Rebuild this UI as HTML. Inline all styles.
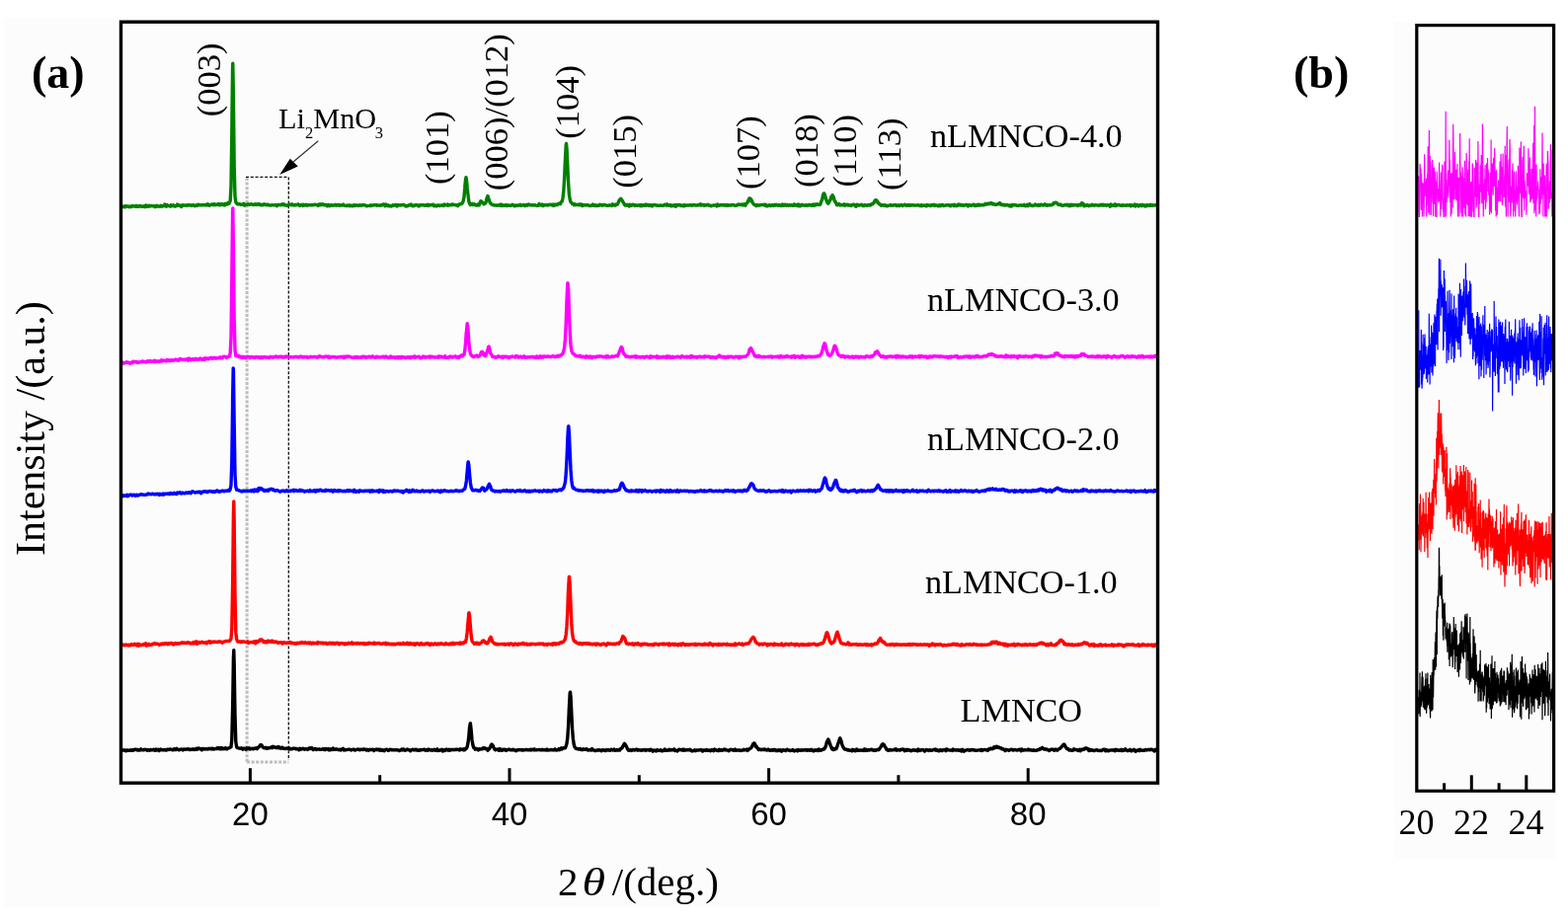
<!DOCTYPE html>
<html><head><meta charset="utf-8"><title>XRD</title><style>html,body{margin:0;padding:0;background:#fff;}svg{display:block;}</style></head><body>
<svg width="1588" height="931" viewBox="0 0 1588 931">
<rect x="0" y="0" width="1588" height="931" fill="#ffffff"/>
<rect x="4" y="18" width="1171" height="901" fill="#fcfcfc"/>
<rect x="1412" y="22" width="164" height="848" fill="#fcfcfc"/>
<line x1="250.1" y1="180" x2="250.1" y2="772" stroke="#bdbdbd" stroke-width="3.0" stroke-dasharray="3,1.6"/>
<line x1="250" y1="772" x2="292.3" y2="772" stroke="#bdbdbd" stroke-width="3.0" stroke-dasharray="3,1.6"/>
<line x1="249" y1="179.4" x2="292.3" y2="179.4" stroke="#111" stroke-width="1.2" stroke-dasharray="3,1.8"/>
<line x1="292.3" y1="179.4" x2="292.3" y2="770" stroke="#111" stroke-width="1.3" stroke-dasharray="3,1.8"/>
<polyline points="122.0,760.3 122.8,760.4 123.6,760.1 124.4,759.9 125.2,760.0 126.0,759.8 126.8,760.2 127.6,760.8 128.4,760.0 129.2,759.9 130.0,760.4 130.8,760.3 131.6,760.2 132.4,759.7 133.2,760.1 134.0,760.4 134.8,759.5 135.6,759.9 136.4,759.2 137.2,759.4 138.0,759.2 138.8,759.9 139.6,759.4 140.4,760.1 141.2,760.0 142.0,759.9 142.8,758.8 143.6,759.7 144.4,759.9 145.2,759.9 146.0,759.2 146.8,759.6 147.6,759.4 148.4,759.5 149.2,760.3 150.0,759.4 150.8,759.8 151.6,760.2 152.4,759.5 153.2,759.7 154.0,759.8 154.8,759.7 155.6,759.2 156.4,759.7 157.2,760.3 158.0,759.0 158.8,760.0 159.6,759.7 160.4,759.3 161.2,760.5 162.0,759.9 162.8,759.0 163.6,759.6 164.4,759.8 165.2,759.5 166.0,759.8 166.8,759.5 167.6,759.8 168.4,760.1 169.2,759.2 170.0,759.5 170.8,759.2 171.6,759.5 172.4,758.9 173.2,759.1 174.0,759.3 174.8,759.8 175.6,759.9 176.4,758.7 177.2,759.0 178.0,759.6 178.8,758.4 179.6,759.1 180.4,759.2 181.2,759.8 182.0,759.6 182.8,759.1 183.6,759.0 184.4,759.1 185.2,759.9 186.0,759.0 186.8,759.0 187.6,759.3 188.4,759.1 189.2,759.0 190.0,758.6 190.8,759.1 191.6,758.9 192.4,759.6 193.2,759.3 194.0,759.0 194.8,759.3 195.6,758.8 196.4,759.5 197.2,759.0 198.0,759.2 198.8,758.4 199.6,759.1 200.4,758.2 201.2,758.0 202.0,758.7 202.8,758.5 203.6,758.9 204.4,759.8 205.2,758.4 206.0,758.5 206.8,758.9 207.6,759.0 208.4,758.7 209.2,758.7 210.0,759.0 210.8,758.9 211.6,758.2 212.4,758.6 213.2,758.7 214.0,758.2 214.8,758.8 215.6,758.2 216.4,759.0 217.2,758.7 218.0,758.6 218.8,758.3 219.6,758.5 220.4,757.6 221.2,758.0 222.0,758.6 222.8,757.5 223.6,758.8 224.4,757.6 225.2,758.7 226.0,758.0 226.8,758.7 227.6,758.4 228.4,757.6 229.2,758.8 230.0,758.9 230.8,758.1 231.6,757.9 232.4,757.7 233.2,757.0 234.0,756.9 234.8,749.1 235.6,718.2 236.1,687.7 236.4,666.9 236.8,658.7 237.2,672.9 237.4,688.0 238.0,724.5 238.8,751.2 239.6,756.4 240.4,757.5 241.2,757.7 242.0,758.1 242.8,758.1 243.6,758.2 244.4,757.8 245.2,758.1 246.0,759.2 246.8,758.2 247.6,758.1 248.4,758.7 249.2,759.2 250.0,757.9 250.8,758.5 251.6,758.3 252.4,757.8 253.2,758.9 254.0,758.5 254.8,758.6 255.6,758.2 256.4,758.7 257.2,758.2 258.0,758.4 258.8,757.9 259.6,757.7 260.4,758.7 261.2,757.4 262.0,757.1 262.8,756.0 262.9,755.7 263.6,754.8 264.2,754.7 264.4,754.6 265.2,755.3 265.6,755.9 266.0,756.8 266.8,757.4 267.6,757.8 268.4,757.6 269.2,757.3 270.0,758.3 270.8,758.2 271.6,757.6 272.4,757.8 273.2,757.7 273.8,757.6 274.0,757.6 274.8,756.8 275.6,757.6 276.4,756.2 277.2,757.1 278.0,756.7 278.8,757.1 279.6,757.6 280.4,757.6 281.2,756.6 282.0,756.5 282.2,757.7 282.8,757.0 283.6,757.6 284.4,758.2 285.2,757.2 286.0,757.1 286.8,758.3 287.6,758.3 288.4,758.3 289.2,758.5 290.0,758.1 290.8,757.9 291.6,758.5 292.4,758.2 293.2,757.9 294.0,758.9 294.8,758.6 295.6,758.9 296.4,758.2 297.2,758.4 298.0,758.3 298.8,758.3 299.6,758.8 300.4,758.4 301.2,758.9 302.0,758.9 302.8,759.7 303.6,758.2 304.4,759.2 305.2,758.8 306.0,758.8 306.8,758.2 307.6,758.6 308.4,759.2 309.2,758.8 310.0,758.9 310.8,758.7 311.6,759.4 312.4,758.9 313.2,757.9 314.0,758.6 314.8,758.0 315.6,757.5 316.4,758.7 317.2,759.5 318.0,759.0 318.8,758.4 319.6,758.5 320.4,759.5 321.2,759.1 322.0,759.0 322.8,759.0 323.6,759.0 324.4,759.4 325.2,759.3 326.0,759.1 326.8,758.6 327.6,759.3 328.4,758.8 329.2,759.6 330.0,758.5 330.8,759.0 331.6,759.1 332.4,758.5 333.2,759.9 334.0,759.8 334.8,758.9 335.6,759.5 336.4,759.3 337.2,758.0 338.0,759.3 338.8,759.1 339.6,759.2 340.4,758.7 341.2,759.1 342.0,759.1 342.8,759.7 343.6,759.4 344.4,759.2 345.2,759.9 346.0,759.0 346.8,759.1 347.6,758.4 348.4,760.0 349.2,759.7 350.0,759.7 350.8,759.6 351.6,759.4 352.4,759.4 353.2,759.2 354.0,759.2 354.8,759.4 355.6,760.0 356.4,759.6 357.2,759.3 358.0,759.1 358.8,759.1 359.6,760.1 360.4,759.6 361.2,759.4 362.0,759.3 362.8,758.9 363.6,759.4 364.4,759.8 365.2,759.3 366.0,759.3 366.8,759.4 367.6,759.5 368.4,758.8 369.2,759.4 370.0,759.1 370.8,759.9 371.6,759.2 372.4,759.8 373.2,760.2 374.0,759.4 374.8,759.3 375.6,759.6 376.4,759.6 377.2,759.1 378.0,759.8 378.8,760.5 379.6,759.5 380.4,759.5 381.2,759.1 382.0,759.8 382.8,759.1 383.6,759.1 384.4,760.2 385.2,759.2 386.0,760.1 386.8,760.3 387.6,759.8 388.4,759.9 389.2,760.6 390.0,759.6 390.8,759.4 391.6,759.1 392.4,759.7 393.2,760.4 394.0,760.2 394.8,759.3 395.6,759.4 396.4,759.5 397.2,759.9 398.0,759.7 398.8,759.9 399.6,759.9 400.4,759.7 401.2,759.8 402.0,759.9 402.8,759.8 403.6,760.0 404.4,760.6 405.2,760.1 406.0,759.8 406.8,759.0 407.6,760.0 408.4,758.9 409.2,759.2 410.0,760.2 410.8,760.1 411.6,759.7 412.4,759.0 413.2,759.6 414.0,759.5 414.8,760.1 415.6,760.8 416.4,759.9 417.2,759.4 418.0,759.3 418.8,759.8 419.6,759.7 420.4,759.3 421.2,759.8 422.0,759.3 422.8,760.3 423.6,760.3 424.4,760.3 425.2,759.6 426.0,760.0 426.8,759.7 427.6,759.6 428.4,759.6 429.2,759.2 430.0,759.1 430.8,760.2 431.6,759.7 432.4,759.9 433.2,760.2 434.0,759.0 434.8,759.4 435.6,759.9 436.4,760.0 437.2,759.6 438.0,760.3 438.8,759.9 439.6,759.3 440.4,759.4 441.2,760.2 442.0,760.0 442.8,758.9 443.6,760.4 444.4,760.1 445.2,760.4 446.0,759.6 446.8,759.7 447.6,759.3 448.4,760.9 449.2,759.7 450.0,760.5 450.8,759.5 451.6,759.9 452.4,759.0 453.2,759.6 454.0,760.2 454.8,759.2 455.6,760.2 456.4,759.9 457.2,759.3 458.0,759.5 458.8,759.5 459.6,759.7 460.4,759.5 461.2,759.3 462.0,759.6 462.8,759.2 463.6,759.1 464.4,759.6 465.2,760.0 466.0,758.9 466.8,759.5 467.6,759.2 468.4,759.0 469.2,759.7 470.0,758.9 470.8,759.6 471.6,758.3 472.4,758.2 473.2,756.5 474.0,752.6 474.8,746.1 475.2,741.1 475.6,736.9 476.2,732.9 476.4,732.7 477.2,739.9 477.3,741.2 478.0,749.4 478.8,754.3 479.6,757.3 480.4,757.6 481.2,759.1 482.0,758.5 482.8,758.4 483.6,759.3 484.4,759.9 485.2,758.7 486.0,758.9 486.8,759.0 487.6,758.7 488.4,758.9 488.9,757.9 489.2,757.8 490.0,757.7 490.8,757.7 491.1,758.5 491.6,758.3 492.4,758.6 493.2,758.5 494.0,760.2 494.8,759.0 495.6,758.6 496.4,757.1 496.9,755.9 497.2,755.2 498.0,754.1 498.8,754.8 499.1,755.1 499.6,756.7 500.4,757.9 501.2,759.5 502.0,759.8 502.8,759.1 503.6,759.0 504.4,759.5 505.2,760.3 506.0,758.5 506.8,760.0 507.6,759.3 508.4,760.2 509.2,759.3 510.0,759.7 510.8,759.1 511.6,759.4 512.4,760.4 513.2,760.2 514.0,759.6 514.8,759.4 515.6,759.0 516.4,759.6 517.2,759.8 518.0,759.8 518.8,759.8 519.6,759.3 520.4,759.8 521.2,759.8 522.0,760.4 522.8,760.7 523.6,759.8 524.4,759.5 525.2,759.8 526.0,759.6 526.8,759.5 527.6,759.8 528.4,759.4 529.2,760.1 530.0,759.8 530.8,759.9 531.6,759.8 532.4,759.5 533.2,759.4 534.0,759.7 534.8,759.6 535.6,759.9 536.4,759.8 537.2,759.2 538.0,759.9 538.8,759.2 539.6,759.5 540.4,759.7 541.2,758.9 542.0,759.9 542.8,759.9 543.6,759.7 544.4,759.6 545.2,759.6 546.0,759.4 546.8,759.7 547.6,759.6 548.4,759.8 549.2,759.3 550.0,759.9 550.8,759.8 551.6,759.7 552.4,759.6 553.2,760.0 554.0,759.0 554.8,760.0 555.6,759.8 556.4,759.9 557.2,759.9 558.0,759.4 558.8,759.6 559.6,759.9 560.4,759.8 561.2,759.7 562.0,758.9 562.8,759.8 563.6,760.0 564.4,759.9 565.2,759.5 566.0,758.6 566.8,759.7 567.6,759.1 568.4,757.9 569.2,759.0 570.0,757.9 570.8,757.7 571.6,757.6 572.4,757.8 573.2,755.8 574.0,753.3 574.8,747.6 575.6,735.3 576.3,719.1 576.4,717.0 577.2,702.1 577.5,701.2 578.0,705.4 578.7,719.4 578.8,721.8 579.6,738.7 580.4,748.5 581.2,754.1 582.0,756.7 582.8,757.7 583.6,758.5 584.4,758.6 585.2,758.5 586.0,759.1 586.8,758.6 587.6,758.4 588.4,759.5 589.2,759.3 590.0,759.6 590.8,758.7 591.6,759.4 592.4,759.3 593.2,759.2 594.0,758.6 594.8,759.5 595.6,760.1 596.4,759.9 597.2,759.5 598.0,759.7 598.8,760.1 599.6,758.5 600.4,759.7 601.2,760.0 602.0,760.1 602.8,760.6 603.6,760.3 604.4,760.0 605.2,760.0 606.0,760.2 606.8,759.6 607.6,759.8 608.4,760.2 609.2,760.7 610.0,759.8 610.8,759.8 611.6,759.9 612.4,760.5 613.2,759.8 614.0,760.5 614.8,759.4 615.6,759.8 616.4,759.8 617.2,760.2 618.0,760.3 618.8,759.2 619.6,759.4 620.4,760.0 621.2,759.5 622.0,759.1 622.8,760.3 623.6,760.0 624.4,760.0 625.2,759.5 626.0,760.1 626.8,759.5 627.6,760.0 628.4,758.8 629.2,758.3 630.0,757.8 630.8,755.9 631.1,755.9 631.6,754.7 632.4,753.3 632.5,753.7 633.2,754.1 633.9,756.0 634.0,755.5 634.8,757.1 635.6,759.0 636.4,760.1 637.2,760.3 638.0,759.6 638.8,759.8 639.6,760.4 640.4,759.7 641.2,759.4 642.0,759.9 642.8,760.0 643.6,759.5 644.4,759.1 645.2,759.2 646.0,760.2 646.8,759.5 647.6,759.8 648.4,760.0 649.2,760.2 650.0,759.8 650.8,760.1 651.6,759.5 652.4,759.8 653.2,759.5 654.0,760.4 654.8,759.9 655.6,759.6 656.4,759.8 657.2,759.8 658.0,760.3 658.8,759.2 659.6,759.5 660.4,759.8 661.2,761.1 662.0,760.4 662.8,759.9 663.6,760.3 664.4,760.9 665.2,759.8 666.0,759.8 666.8,760.5 667.6,760.2 668.4,760.3 669.2,759.7 670.0,760.8 670.8,760.7 671.6,760.2 672.4,760.3 673.2,759.0 674.0,760.2 674.8,759.9 675.6,760.2 676.4,760.3 677.2,759.8 678.0,759.2 678.8,760.1 679.6,759.6 680.4,759.8 681.2,759.7 682.0,759.8 682.8,758.9 683.6,760.5 684.4,760.1 685.2,760.5 686.0,760.9 686.8,760.0 687.6,759.2 688.4,759.6 689.2,759.4 690.0,759.8 690.8,760.0 691.6,759.1 692.4,760.1 693.2,759.3 694.0,760.1 694.8,759.9 695.6,759.8 696.4,759.9 697.2,759.7 698.0,759.7 698.8,759.2 699.6,760.0 700.4,760.8 701.2,760.9 702.0,760.6 702.8,760.3 703.6,759.7 704.4,760.6 705.2,760.0 706.0,760.0 706.8,759.9 707.6,760.0 708.4,759.8 709.2,759.9 710.0,759.5 710.8,759.8 711.6,761.0 712.4,760.0 713.2,759.9 714.0,760.2 714.8,760.3 715.6,759.5 716.4,759.9 717.2,760.4 718.0,760.1 718.8,760.0 719.6,760.7 720.4,759.7 721.2,760.0 722.0,759.7 722.8,760.7 723.6,759.1 724.4,759.7 725.2,759.7 726.0,760.3 726.8,760.3 727.6,760.6 728.4,759.3 729.2,760.3 730.0,759.8 730.8,759.7 731.6,760.2 732.4,759.6 733.2,759.0 734.0,759.8 734.8,759.3 735.6,759.7 736.4,760.1 737.2,760.1 738.0,760.7 738.8,759.9 739.6,759.3 740.4,759.6 741.2,759.5 742.0,759.4 742.8,760.2 743.6,759.7 744.4,759.1 745.2,760.3 746.0,759.9 746.8,760.1 747.6,760.0 748.4,760.2 749.2,759.9 750.0,760.5 750.8,760.1 751.6,760.1 752.4,760.1 753.2,759.2 754.0,759.8 754.8,759.7 755.6,759.9 756.4,759.1 757.2,760.4 758.0,759.6 758.8,758.8 759.6,758.1 760.4,758.0 761.2,757.0 762.0,755.1 762.2,755.1 762.8,753.6 763.6,753.2 763.8,752.9 764.4,753.4 765.2,755.3 765.3,756.2 766.0,756.0 766.8,757.6 767.6,758.3 768.4,759.5 769.2,758.9 770.0,759.4 770.8,759.7 771.6,759.3 772.4,759.4 773.2,759.6 774.0,758.9 774.8,759.2 775.6,759.7 776.4,760.0 777.2,759.8 778.0,759.1 778.8,759.7 779.6,760.3 780.4,760.2 781.2,759.9 782.0,759.5 782.8,760.2 783.6,759.7 784.4,759.4 785.2,759.6 786.0,760.6 786.8,760.1 787.6,760.5 788.4,759.7 789.2,760.4 790.0,759.7 790.8,759.9 791.6,761.1 792.4,760.3 793.2,759.7 794.0,759.9 794.8,760.1 795.6,760.5 796.4,759.7 797.2,759.2 798.0,759.8 798.8,760.0 799.6,760.0 800.4,760.6 801.2,760.1 802.0,760.3 802.8,759.5 803.6,760.3 804.4,760.9 805.2,760.3 806.0,760.1 806.8,760.0 807.6,760.8 808.4,759.5 809.2,759.9 810.0,760.2 810.8,760.3 811.6,759.8 812.4,760.1 813.2,759.8 814.0,760.0 814.8,759.9 815.6,759.4 816.4,759.9 817.2,760.3 818.0,759.5 818.8,759.8 819.6,760.2 820.4,759.4 821.2,760.0 822.0,759.4 822.8,760.4 823.6,760.9 824.4,760.8 825.2,759.8 826.0,760.2 826.8,759.9 827.6,759.8 828.4,760.5 829.2,759.1 830.0,760.2 830.8,759.6 831.6,760.2 832.4,759.6 833.2,759.0 834.0,759.2 834.8,758.8 835.6,757.5 836.4,755.8 837.2,752.7 837.4,751.4 838.0,750.6 838.8,749.0 838.8,749.1 839.6,750.5 840.1,752.8 840.4,753.0 841.2,755.4 842.0,757.3 842.8,758.9 843.6,758.2 844.4,759.5 845.2,758.6 846.0,758.2 846.8,758.7 847.6,757.0 848.4,754.4 849.2,751.9 849.4,751.9 850.0,749.6 850.8,747.8 850.8,748.0 851.6,749.8 852.1,751.2 852.4,752.7 853.2,755.4 854.0,757.1 854.8,758.2 855.6,759.0 856.4,759.3 857.2,759.2 858.0,759.4 858.8,760.1 859.6,759.8 860.4,760.1 861.2,760.3 862.0,760.0 862.8,760.8 863.6,759.4 864.4,760.2 865.2,759.7 866.0,760.7 866.8,760.6 867.6,759.0 868.4,759.4 869.2,760.2 870.0,760.2 870.8,760.2 871.6,759.9 872.4,760.1 873.2,760.2 874.0,759.9 874.8,760.4 875.6,758.9 876.4,760.2 877.2,759.4 878.0,760.3 878.8,759.8 879.6,759.5 880.4,760.1 881.2,759.5 882.0,759.5 882.8,759.2 883.6,759.8 884.4,760.0 885.2,760.3 886.0,759.7 886.8,760.2 887.6,759.7 888.4,759.5 889.2,759.7 890.0,759.5 890.8,758.3 891.6,757.4 892.4,756.0 892.7,755.6 893.2,754.3 894.0,754.2 894.2,753.7 894.8,754.2 895.6,754.8 895.8,755.8 896.4,756.8 897.2,757.7 898.0,759.6 898.8,759.4 899.6,760.3 900.4,760.1 901.2,759.4 902.0,759.6 902.8,760.0 903.6,759.9 904.4,759.9 905.2,759.7 906.0,759.1 906.8,759.8 907.6,758.9 908.4,760.1 909.2,759.6 910.0,759.6 910.8,759.8 911.6,760.1 912.4,759.3 913.2,759.2 914.0,759.5 914.8,759.0 915.6,759.5 916.4,760.7 917.2,759.5 918.0,760.3 918.8,759.3 919.6,760.1 920.4,759.8 921.2,759.9 922.0,760.2 922.8,760.8 923.6,760.1 924.4,760.0 925.2,759.5 926.0,760.2 926.8,759.9 927.6,760.3 928.4,760.0 929.2,760.8 930.0,759.1 930.8,759.8 931.6,760.4 932.4,759.8 933.2,759.6 934.0,759.9 934.8,759.4 935.6,760.0 936.4,761.1 937.2,760.5 938.0,759.5 938.8,759.6 939.6,759.8 940.4,760.4 941.2,759.6 942.0,759.7 942.8,760.4 943.6,760.4 944.4,759.8 945.2,759.5 946.0,759.3 946.8,759.7 947.6,759.0 948.4,760.3 949.2,759.7 950.0,760.2 950.8,760.8 951.6,760.5 952.4,759.5 953.2,760.4 954.0,760.5 954.8,759.6 955.6,759.6 956.4,759.9 957.2,759.3 958.0,760.6 958.8,758.9 959.6,759.5 960.4,759.9 961.2,759.9 962.0,760.1 962.8,760.1 963.6,759.9 964.4,760.5 965.2,759.0 966.0,760.0 966.8,759.7 967.6,760.0 968.4,760.1 969.2,759.6 970.0,759.7 970.8,760.3 971.6,760.1 972.4,759.7 973.2,760.9 974.0,761.0 974.8,759.3 975.6,760.1 976.4,761.1 977.2,760.3 978.0,760.1 978.8,759.9 979.6,759.7 980.4,759.9 981.2,759.7 982.0,760.3 982.8,759.8 983.6,759.8 984.4,759.4 985.2,759.9 986.0,759.5 986.8,759.9 987.6,760.4 988.4,760.1 989.2,760.2 990.0,760.1 990.8,759.9 991.6,759.9 992.4,759.8 993.2,760.2 994.0,759.4 994.8,760.5 995.6,759.9 996.4,759.5 997.2,759.6 998.0,759.5 998.8,759.8 999.6,759.4 1000.4,760.2 1001.2,759.2 1002.0,758.4 1002.8,758.9 1003.6,758.1 1004.4,758.6 1005.2,758.7 1006.0,758.1 1006.7,756.8 1006.8,756.9 1007.6,757.6 1008.4,756.6 1009.2,756.2 1009.5,756.2 1010.0,757.3 1010.8,757.1 1011.6,757.0 1012.3,757.5 1012.4,757.7 1013.2,757.6 1014.0,757.9 1014.8,758.8 1015.6,758.6 1016.4,759.3 1017.2,759.5 1018.0,760.6 1018.8,759.3 1019.6,759.7 1020.4,759.7 1021.2,760.0 1022.0,760.3 1022.8,759.6 1023.6,759.5 1024.4,759.1 1025.2,759.5 1026.0,760.1 1026.8,759.9 1027.6,759.4 1028.4,759.7 1029.2,759.9 1030.0,760.1 1030.8,759.7 1031.6,759.8 1032.4,759.1 1033.2,759.4 1034.0,760.7 1034.8,758.9 1035.6,759.8 1036.4,760.0 1037.2,759.8 1038.0,759.6 1038.8,759.9 1039.6,759.9 1040.4,759.9 1041.2,759.1 1042.0,759.9 1042.8,759.5 1043.6,759.7 1044.4,760.0 1045.2,760.2 1046.0,760.3 1046.8,759.7 1047.6,760.3 1048.4,760.4 1049.2,760.3 1050.0,760.4 1050.8,759.6 1051.6,759.4 1052.4,759.6 1053.2,758.4 1053.9,758.8 1054.0,758.4 1054.8,758.2 1055.6,757.4 1056.0,758.1 1056.4,758.2 1057.2,758.8 1058.0,759.1 1058.1,758.7 1058.8,758.9 1059.6,758.9 1060.4,759.6 1061.2,759.5 1062.0,760.0 1062.8,760.5 1063.6,759.8 1064.4,759.1 1065.2,759.4 1066.0,759.1 1066.8,759.2 1067.6,760.3 1068.4,759.8 1069.2,759.0 1070.0,759.9 1070.8,760.1 1071.6,759.2 1072.4,758.8 1073.2,758.4 1074.0,757.8 1074.8,756.9 1075.2,756.5 1075.6,756.0 1076.4,755.0 1077.0,754.2 1077.2,754.5 1078.0,754.2 1078.8,755.9 1078.8,756.2 1079.6,757.0 1080.4,758.6 1081.2,758.7 1082.0,758.8 1082.8,760.1 1083.6,759.9 1084.4,759.8 1085.2,760.2 1086.0,760.3 1086.8,760.0 1087.6,758.7 1088.4,759.5 1089.2,759.6 1090.0,759.4 1090.8,759.9 1091.6,760.4 1092.4,759.6 1093.2,759.3 1094.0,760.7 1094.8,759.5 1095.6,759.1 1096.4,759.6 1097.2,759.4 1098.0,758.5 1098.2,759.1 1098.8,758.2 1099.6,757.8 1100.0,758.2 1100.4,758.5 1101.2,758.2 1101.8,758.9 1102.0,758.8 1102.8,760.5 1103.6,759.2 1104.4,760.3 1105.2,759.7 1106.0,759.8 1106.8,760.2 1107.6,760.3 1108.4,760.5 1109.2,760.1 1110.0,759.7 1110.8,759.7 1111.6,760.2 1112.4,760.2 1113.2,760.6 1114.0,760.1 1114.8,760.4 1115.6,760.6 1116.4,760.0 1117.2,759.3 1118.0,759.4 1118.8,759.3 1119.6,760.7 1120.4,759.6 1121.2,760.5 1122.0,760.2 1122.8,760.7 1123.6,760.4 1124.4,759.9 1125.2,759.9 1126.0,760.0 1126.8,760.1 1127.6,759.7 1128.4,760.0 1129.2,760.7 1130.0,759.2 1130.8,760.1 1131.6,759.6 1132.4,760.1 1133.2,760.4 1134.0,760.0 1134.8,760.3 1135.6,759.3 1136.4,760.5 1137.2,759.7 1138.0,760.3 1138.8,760.1 1139.6,758.8 1140.4,759.6 1141.2,760.1 1142.0,760.7 1142.8,760.1 1143.6,760.1 1144.4,759.4 1145.2,760.6 1146.0,760.8 1146.8,760.0 1147.6,759.9 1148.4,759.3 1149.2,760.4 1150.0,761.2 1150.8,760.3 1151.6,760.6 1152.4,760.2 1153.2,759.5 1154.0,760.6 1154.8,759.4 1155.6,759.9 1156.4,760.1 1157.2,760.4 1158.0,760.2 1158.8,760.2 1159.6,759.7 1160.4,759.4 1161.2,760.0 1162.0,759.7 1162.8,759.4 1163.6,759.4 1164.4,759.8 1165.2,759.2 1166.0,759.4 1166.8,759.3 1167.6,760.1 1168.4,760.2 1169.2,760.9 1170.0,759.3 1170.8,759.7 1171.6,760.4 1172.4,759.9" fill="none" stroke="#000000" stroke-width="3.4" stroke-linejoin="round"/>
<polyline points="122.0,653.6 122.8,654.5 123.6,653.6 124.4,653.2 125.2,653.1 126.0,653.8 126.8,653.8 127.6,653.0 128.4,653.1 129.2,653.8 130.0,653.8 130.8,653.2 131.6,653.7 132.4,653.7 133.2,652.6 134.0,653.2 134.8,653.5 135.6,653.1 136.4,652.3 137.2,653.1 138.0,653.6 138.8,653.9 139.6,652.2 140.4,654.3 141.2,652.6 142.0,653.5 142.8,653.6 143.6,653.5 144.4,653.1 145.2,652.5 146.0,653.2 146.8,652.6 147.6,651.8 148.4,654.1 149.2,653.2 150.0,653.6 150.8,652.4 151.6,653.4 152.4,653.4 153.2,653.4 154.0,652.7 154.8,652.1 155.6,652.5 156.4,651.6 157.2,651.8 158.0,652.6 158.8,652.1 159.6,652.4 160.4,652.4 161.2,653.3 162.0,653.0 162.8,652.3 163.6,652.9 164.4,652.0 165.2,652.1 166.0,652.7 166.8,651.7 167.6,652.1 168.4,651.6 169.2,652.2 170.0,652.8 170.8,651.7 171.6,652.2 172.4,651.6 173.2,651.5 174.0,651.4 174.8,652.6 175.6,653.0 176.4,652.1 177.2,651.5 178.0,652.2 178.8,651.7 179.6,652.1 180.4,651.9 181.2,651.8 182.0,652.0 182.8,651.4 183.6,651.5 184.4,650.8 185.2,651.4 186.0,650.9 186.8,651.5 187.6,651.1 188.4,651.5 189.2,651.6 190.0,650.8 190.8,651.0 191.6,650.9 192.4,651.7 193.2,652.1 194.0,651.7 194.8,651.1 195.6,651.9 196.4,650.5 197.2,651.8 198.0,650.8 198.8,649.8 199.6,652.3 200.4,651.7 201.2,650.5 202.0,651.1 202.8,650.9 203.6,651.0 204.4,650.2 205.2,650.6 206.0,651.0 206.8,650.9 207.6,651.3 208.4,650.8 209.2,651.8 210.0,650.4 210.8,650.8 211.6,649.8 212.4,650.0 213.2,651.2 214.0,650.1 214.8,650.7 215.6,650.4 216.4,650.0 217.2,650.3 218.0,650.1 218.8,650.1 219.6,650.6 220.4,650.6 221.2,650.0 222.0,649.8 222.8,650.3 223.6,650.1 224.4,650.5 225.2,651.2 226.0,650.4 226.8,650.0 227.6,649.9 228.4,649.6 229.2,649.5 230.0,649.4 230.8,649.5 231.6,649.3 232.4,649.6 233.2,648.5 234.0,647.1 234.8,636.7 235.6,593.5 236.1,550.0 236.4,520.9 236.8,507.9 237.2,528.1 237.4,549.7 238.0,601.4 238.8,640.9 239.6,647.1 240.4,649.5 241.2,650.2 242.0,649.9 242.8,650.2 243.6,650.6 244.4,649.8 245.2,650.4 246.0,649.9 246.8,650.0 247.6,650.1 248.4,650.3 249.2,650.5 250.0,650.6 250.8,649.8 251.6,651.4 252.4,651.0 253.2,650.8 254.0,650.4 254.8,650.5 255.6,650.8 256.4,650.7 257.2,649.8 258.0,650.9 258.8,651.8 259.6,649.6 260.4,650.8 261.2,650.2 262.0,649.4 262.8,649.4 262.9,648.2 263.6,648.2 264.2,647.9 264.4,647.8 265.2,648.1 265.6,648.8 266.0,648.9 266.8,650.4 267.6,649.7 268.4,650.8 269.2,649.9 270.0,650.7 270.8,650.3 271.6,649.1 272.4,650.1 273.2,649.5 274.0,649.6 274.8,650.4 275.6,649.1 276.0,649.6 276.4,650.3 277.2,649.8 278.0,650.6 278.8,650.3 279.6,649.9 280.4,650.4 281.2,651.2 282.0,651.2 282.8,650.8 283.6,650.9 284.4,650.9 285.2,650.8 286.0,652.0 286.8,651.1 287.6,650.6 288.4,650.9 289.2,651.5 290.0,651.5 290.8,651.1 291.6,650.9 292.4,651.2 293.2,650.5 294.0,650.7 294.8,651.6 295.6,651.1 296.4,651.5 297.2,651.9 298.0,651.6 298.8,651.4 299.6,652.3 300.4,651.7 301.2,651.2 302.0,651.7 302.8,651.6 303.6,651.0 304.4,651.5 305.2,651.3 306.0,650.5 306.8,651.4 307.6,651.3 308.4,651.3 309.2,650.7 310.0,651.3 310.8,651.5 311.6,651.5 312.4,651.0 313.2,651.8 314.0,650.9 314.8,651.4 315.6,652.1 316.4,651.2 317.2,651.3 318.0,652.0 318.8,651.4 319.6,651.4 320.4,651.7 321.2,652.1 322.0,650.6 322.8,651.2 323.6,651.1 324.4,651.1 325.2,651.2 326.0,651.2 326.8,651.8 327.6,651.2 328.4,651.7 329.2,651.8 330.0,651.3 330.8,651.7 331.6,652.4 332.4,651.8 333.2,651.4 334.0,651.7 334.8,651.3 335.6,651.8 336.4,652.1 337.2,651.3 338.0,651.6 338.8,652.3 339.6,651.5 340.4,651.8 341.2,651.3 342.0,651.4 342.8,651.5 343.6,652.8 344.4,651.6 345.2,651.6 346.0,651.6 346.8,651.7 347.6,652.1 348.4,651.9 349.2,652.8 350.0,651.9 350.8,652.5 351.6,652.0 352.4,652.1 353.2,651.2 354.0,651.8 354.8,651.9 355.6,651.8 356.4,650.9 357.2,652.3 358.0,651.7 358.8,651.7 359.6,651.8 360.4,651.8 361.2,652.1 362.0,651.4 362.8,651.5 363.6,652.1 364.4,652.0 365.2,651.8 366.0,651.7 366.8,651.6 367.6,652.0 368.4,652.5 369.2,651.5 370.0,652.7 370.8,652.4 371.6,651.8 372.4,652.4 373.2,651.4 374.0,651.3 374.8,651.5 375.6,651.9 376.4,651.9 377.2,651.9 378.0,652.1 378.8,651.1 379.6,652.3 380.4,651.5 381.2,651.8 382.0,651.9 382.8,651.6 383.6,651.5 384.4,651.7 385.2,652.2 386.0,652.4 386.8,652.4 387.6,651.7 388.4,651.8 389.2,651.8 390.0,652.4 390.8,651.3 391.6,652.8 392.4,652.0 393.2,651.9 394.0,652.4 394.8,652.7 395.6,652.4 396.4,652.7 397.2,652.3 398.0,652.8 398.8,652.8 399.6,652.2 400.4,652.9 401.2,652.4 402.0,652.3 402.8,651.9 403.6,652.2 404.4,652.6 405.2,651.7 406.0,652.6 406.8,652.5 407.6,652.4 408.4,651.3 409.2,652.3 410.0,652.6 410.8,652.0 411.6,652.3 412.4,651.2 413.2,652.6 414.0,652.0 414.8,652.7 415.6,651.5 416.4,652.6 417.2,652.2 418.0,652.7 418.8,651.9 419.6,652.0 420.4,653.3 421.2,651.9 422.0,652.0 422.8,652.2 423.6,651.9 424.4,652.9 425.2,653.1 426.0,652.0 426.8,651.5 427.6,652.9 428.4,652.8 429.2,652.7 430.0,652.8 430.8,651.9 431.6,652.3 432.4,651.7 433.2,651.7 434.0,652.8 434.8,652.0 435.6,653.4 436.4,652.4 437.2,652.0 438.0,652.7 438.8,653.1 439.6,652.5 440.4,651.8 441.2,652.5 442.0,652.9 442.8,652.1 443.6,652.0 444.4,652.8 445.2,652.4 446.0,651.8 446.8,652.2 447.6,652.0 448.4,652.5 449.2,652.4 450.0,652.8 450.8,652.6 451.6,651.6 452.4,652.5 453.2,652.7 454.0,652.5 454.8,652.8 455.6,652.0 456.4,651.9 457.2,652.7 458.0,651.8 458.8,651.3 459.6,652.7 460.4,651.9 461.2,652.1 462.0,651.6 462.8,651.6 463.6,651.6 464.4,651.9 465.2,652.2 466.0,651.0 466.8,652.3 467.6,651.3 468.4,651.2 469.2,651.8 470.0,651.2 470.8,650.0 471.6,650.4 472.4,646.3 473.2,640.2 473.9,630.5 474.0,630.3 474.8,620.9 475.0,620.7 475.6,624.1 476.1,630.9 476.4,634.9 477.2,643.8 478.0,649.3 478.8,650.4 479.6,651.0 480.4,652.3 481.2,651.7 482.0,651.3 482.8,652.1 483.6,651.3 484.4,652.4 485.2,652.5 486.0,651.6 486.8,651.3 487.6,651.1 488.4,650.0 488.4,649.5 489.2,649.3 489.5,648.9 490.0,649.0 490.6,649.7 490.8,650.1 491.6,651.3 492.4,651.0 493.2,651.9 494.0,651.3 494.8,650.1 495.6,647.9 495.9,646.9 496.4,646.3 497.0,645.3 497.2,645.4 498.0,647.8 498.1,647.9 498.8,650.3 499.6,651.0 500.4,651.3 501.2,652.5 502.0,652.3 502.8,652.7 503.6,652.2 504.4,652.8 505.2,652.7 506.0,652.6 506.8,652.6 507.6,652.5 508.4,652.5 509.2,652.5 510.0,652.8 510.8,652.2 511.6,653.2 512.4,652.4 513.2,652.9 514.0,652.4 514.8,652.3 515.6,653.3 516.4,652.3 517.2,651.9 518.0,652.1 518.8,652.3 519.6,653.4 520.4,652.5 521.2,652.9 522.0,652.0 522.8,652.6 523.6,652.7 524.4,653.3 525.2,652.1 526.0,652.7 526.8,652.6 527.6,652.0 528.4,652.4 529.2,652.3 530.0,651.4 530.8,652.7 531.6,652.7 532.4,652.3 533.2,651.9 534.0,653.1 534.8,652.6 535.6,652.9 536.4,653.1 537.2,652.2 538.0,652.8 538.8,652.3 539.6,652.4 540.4,652.4 541.2,652.4 542.0,652.9 542.8,652.5 543.6,652.4 544.4,652.3 545.2,652.6 546.0,652.0 546.8,652.2 547.6,652.4 548.4,652.2 549.2,652.4 550.0,652.1 550.8,653.3 551.6,653.0 552.4,652.6 553.2,652.4 554.0,653.4 554.8,652.5 555.6,652.3 556.4,652.5 557.2,652.5 558.0,652.9 558.8,652.3 559.6,653.2 560.4,651.8 561.2,652.5 562.0,651.7 562.8,652.9 563.6,651.9 564.4,651.9 565.2,652.3 566.0,652.3 566.8,651.1 567.6,651.3 568.4,650.6 569.2,651.0 570.0,650.6 570.8,649.9 571.6,648.8 572.4,647.2 573.2,643.0 574.0,634.7 574.8,619.1 575.3,604.3 575.6,597.5 576.4,584.2 576.5,584.2 577.2,592.4 577.7,605.1 578.0,612.9 578.8,631.4 579.6,641.8 580.4,646.6 581.2,649.0 582.0,649.8 582.8,649.8 583.6,651.2 584.4,651.4 585.2,651.4 586.0,652.1 586.8,652.3 587.6,651.4 588.4,651.6 589.2,652.8 590.0,652.8 590.8,651.8 591.6,651.7 592.4,652.0 593.2,652.1 594.0,651.6 594.8,652.4 595.6,651.8 596.4,651.8 597.2,652.8 598.0,652.1 598.8,652.4 599.6,652.7 600.4,652.8 601.2,652.3 602.0,652.5 602.8,652.1 603.6,653.3 604.4,652.8 605.2,652.0 606.0,652.5 606.8,652.8 607.6,652.7 608.4,653.4 609.2,653.1 610.0,652.3 610.8,652.5 611.6,652.0 612.4,652.7 613.2,652.6 614.0,653.8 614.8,652.6 615.6,651.6 616.4,652.2 617.2,652.6 618.0,652.0 618.8,652.1 619.6,652.3 620.4,652.7 621.2,652.4 622.0,652.1 622.8,652.8 623.6,652.2 624.4,652.1 625.2,651.7 626.0,651.8 626.8,652.2 627.6,650.6 628.4,650.4 629.2,649.1 629.9,646.9 630.0,646.8 630.8,644.5 631.2,644.7 631.6,645.4 632.4,646.6 632.6,646.3 633.2,648.1 634.0,650.7 634.8,652.1 635.6,652.0 636.4,652.7 637.2,652.0 638.0,652.3 638.8,652.4 639.6,652.7 640.4,651.8 641.2,653.0 642.0,653.2 642.8,652.1 643.6,652.0 644.4,652.8 645.2,652.3 646.0,651.6 646.8,653.0 647.6,652.7 648.4,652.4 649.2,653.6 650.0,652.7 650.8,652.3 651.6,652.7 652.4,652.2 653.2,652.3 654.0,652.8 654.8,652.4 655.6,652.5 656.4,653.4 657.2,653.1 658.0,653.1 658.8,652.9 659.6,652.9 660.4,653.4 661.2,652.7 662.0,653.5 662.8,652.3 663.6,652.6 664.4,652.1 665.2,652.6 666.0,652.9 666.8,653.4 667.6,652.4 668.4,652.7 669.2,652.6 670.0,652.4 670.8,652.2 671.6,652.8 672.4,652.0 673.2,652.8 674.0,652.7 674.8,652.4 675.6,652.3 676.4,652.1 677.2,653.6 678.0,652.1 678.8,653.4 679.6,653.0 680.4,652.6 681.2,652.2 682.0,653.2 682.8,653.5 683.6,652.3 684.4,652.6 685.2,653.2 686.0,652.9 686.8,653.7 687.6,652.5 688.4,653.0 689.2,652.2 690.0,653.7 690.8,652.4 691.6,651.8 692.4,652.7 693.2,652.7 694.0,653.6 694.8,652.6 695.6,652.8 696.4,653.0 697.2,653.5 698.0,652.8 698.8,653.2 699.6,653.0 700.4,652.7 701.2,652.8 702.0,652.8 702.8,652.4 703.6,653.3 704.4,652.2 705.2,653.3 706.0,653.2 706.8,652.8 707.6,652.4 708.4,652.7 709.2,653.0 710.0,653.1 710.8,652.9 711.6,653.2 712.4,652.5 713.2,652.9 714.0,652.1 714.8,653.1 715.6,652.9 716.4,652.6 717.2,653.3 718.0,653.1 718.8,651.5 719.6,652.8 720.4,652.2 721.2,653.3 722.0,653.9 722.8,652.6 723.6,652.8 724.4,652.7 725.2,653.0 726.0,653.1 726.8,653.4 727.6,652.4 728.4,653.5 729.2,652.4 730.0,652.9 730.8,653.3 731.6,653.1 732.4,652.4 733.2,652.5 734.0,652.6 734.8,652.8 735.6,653.3 736.4,652.2 737.2,653.0 738.0,653.1 738.8,653.1 739.6,653.0 740.4,653.5 741.2,653.0 742.0,653.2 742.8,653.1 743.6,653.6 744.4,651.9 745.2,653.4 746.0,652.7 746.8,652.7 747.6,652.3 748.4,651.9 749.2,652.6 750.0,652.4 750.8,653.0 751.6,652.1 752.4,653.4 753.2,652.8 754.0,652.5 754.8,652.3 755.6,652.2 756.4,651.9 757.2,652.0 758.0,652.0 758.8,651.3 759.6,649.7 760.4,648.7 760.9,647.3 761.2,647.2 762.0,646.6 762.5,645.4 762.8,645.4 763.6,646.0 764.1,647.1 764.4,647.7 765.2,650.3 766.0,650.8 766.8,651.9 767.6,651.9 768.4,652.5 769.2,653.2 770.0,652.3 770.8,652.5 771.6,652.3 772.4,653.1 773.2,652.3 774.0,652.3 774.8,652.2 775.6,652.2 776.4,653.0 777.2,654.0 778.0,652.4 778.8,653.3 779.6,653.0 780.4,652.4 781.2,652.7 782.0,652.8 782.8,652.6 783.6,653.7 784.4,652.0 785.2,653.0 786.0,653.0 786.8,652.6 787.6,653.0 788.4,653.3 789.2,653.0 790.0,653.1 790.8,653.2 791.6,652.0 792.4,653.6 793.2,653.9 794.0,653.3 794.8,653.4 795.6,652.3 796.4,652.8 797.2,652.5 798.0,652.6 798.8,653.3 799.6,652.5 800.4,652.8 801.2,652.0 802.0,652.8 802.8,652.9 803.6,652.6 804.4,652.6 805.2,653.8 806.0,652.4 806.8,652.4 807.6,652.5 808.4,653.4 809.2,653.9 810.0,653.1 810.8,652.6 811.6,652.7 812.4,653.4 813.2,652.5 814.0,653.6 814.8,653.5 815.6,652.9 816.4,653.2 817.2,653.2 818.0,653.6 818.8,652.4 819.6,653.4 820.4,652.7 821.2,652.5 822.0,652.9 822.8,652.7 823.6,652.4 824.4,652.1 825.2,652.4 826.0,653.4 826.8,653.6 827.6,653.0 828.4,653.2 829.2,652.4 830.0,652.5 830.8,652.6 831.6,651.8 832.4,651.7 833.2,651.7 834.0,650.6 834.8,648.6 835.6,646.6 836.1,644.4 836.4,643.7 837.2,641.0 837.5,640.7 838.0,641.4 838.8,643.9 838.9,644.1 839.6,646.8 840.4,649.7 841.2,651.0 842.0,651.9 842.8,650.7 843.6,651.1 844.4,650.3 845.2,649.0 846.0,646.2 846.6,643.8 846.8,643.6 847.6,640.7 848.0,640.2 848.4,641.3 849.2,643.8 849.4,643.9 850.0,647.0 850.8,648.9 851.6,651.3 852.4,651.6 853.2,651.8 854.0,652.2 854.8,652.1 855.6,652.7 856.4,652.7 857.2,652.7 858.0,652.5 858.8,651.1 859.6,652.9 860.4,652.0 861.2,653.0 862.0,653.4 862.8,653.0 863.6,652.7 864.4,652.8 865.2,652.9 866.0,652.7 866.8,652.7 867.6,652.5 868.4,653.5 869.2,652.9 870.0,653.4 870.8,652.8 871.6,653.0 872.4,652.9 873.2,653.2 874.0,653.3 874.8,653.1 875.6,652.7 876.4,652.6 877.2,653.7 878.0,652.8 878.8,652.8 879.6,653.6 880.4,653.4 881.2,653.2 882.0,652.7 882.8,653.9 883.6,653.0 884.4,653.1 885.2,652.7 886.0,652.0 886.8,651.9 887.6,652.3 888.4,651.7 889.2,650.5 890.0,648.8 890.2,648.3 890.8,647.8 891.6,646.5 891.8,647.2 892.4,648.1 893.2,650.0 893.3,649.4 894.0,649.9 894.8,650.8 895.6,650.4 896.4,652.1 897.2,652.6 898.0,653.2 898.8,653.1 899.6,653.1 900.4,653.0 901.2,653.2 902.0,653.6 902.8,652.5 903.6,652.8 904.4,652.4 905.2,653.7 906.0,653.6 906.8,653.4 907.6,652.5 908.4,653.1 909.2,652.9 910.0,653.1 910.8,653.0 911.6,653.3 912.4,652.9 913.2,653.5 914.0,653.2 914.8,652.9 915.6,653.0 916.4,652.9 917.2,653.5 918.0,653.0 918.8,653.2 919.6,652.9 920.4,652.4 921.2,653.5 922.0,652.6 922.8,653.4 923.6,653.3 924.4,652.4 925.2,652.7 926.0,652.9 926.8,652.7 927.6,652.6 928.4,653.4 929.2,653.0 930.0,653.3 930.8,652.9 931.6,653.3 932.4,652.8 933.2,653.1 934.0,653.4 934.8,653.1 935.6,652.9 936.4,652.6 937.2,653.2 938.0,653.3 938.8,653.0 939.6,652.8 940.4,653.4 941.2,654.3 942.0,653.0 942.8,653.3 943.6,653.3 944.4,652.0 945.2,653.2 946.0,652.8 946.8,653.8 947.6,653.0 948.4,652.8 949.2,653.1 950.0,653.2 950.8,652.9 951.6,653.1 952.4,652.5 953.2,653.1 954.0,653.5 954.8,654.0 955.6,653.5 956.4,653.3 957.2,653.7 958.0,653.6 958.8,653.9 959.6,653.7 960.4,653.1 961.2,653.3 962.0,653.2 962.8,653.3 963.6,653.3 964.4,652.8 965.2,652.2 966.0,652.9 966.8,652.3 967.6,653.2 968.4,653.2 969.2,652.4 970.0,653.5 970.8,653.6 971.6,653.2 972.4,653.9 973.2,654.0 974.0,652.6 974.8,653.6 975.6,653.4 976.4,653.4 977.2,653.6 978.0,652.9 978.8,652.9 979.6,652.8 980.4,652.8 981.2,653.1 982.0,652.5 982.8,652.7 983.6,653.4 984.4,653.1 985.2,653.3 986.0,652.3 986.8,652.8 987.6,652.9 988.4,653.2 989.2,652.9 990.0,653.6 990.8,653.1 991.6,653.2 992.4,653.1 993.2,653.5 994.0,652.9 994.8,653.6 995.6,653.3 996.4,653.1 997.2,653.1 998.0,653.2 998.8,653.4 999.6,653.3 1000.4,652.9 1001.2,653.0 1002.0,652.4 1002.8,652.7 1003.6,651.8 1004.4,650.5 1004.7,651.9 1005.2,651.1 1006.0,650.2 1006.8,650.4 1007.5,650.4 1007.6,651.4 1008.4,650.8 1009.2,650.1 1010.0,651.4 1010.3,651.1 1010.8,652.4 1011.6,651.4 1012.4,651.2 1013.2,652.5 1014.0,652.5 1014.8,652.6 1015.6,652.0 1016.4,653.2 1017.2,653.8 1018.0,652.2 1018.8,653.6 1019.6,652.9 1020.4,654.2 1021.2,653.4 1022.0,653.1 1022.8,653.7 1023.6,653.4 1024.4,652.9 1025.2,653.5 1026.0,653.0 1026.8,652.4 1027.6,654.1 1028.4,653.1 1029.2,652.9 1030.0,653.4 1030.8,652.5 1031.6,652.6 1032.4,653.0 1033.2,653.0 1034.0,653.3 1034.8,653.7 1035.6,653.0 1036.4,653.5 1037.2,653.5 1038.0,652.7 1038.8,653.3 1039.6,652.8 1040.4,653.7 1041.2,653.4 1042.0,653.2 1042.8,652.6 1043.6,653.3 1044.4,652.9 1045.2,653.5 1046.0,653.1 1046.8,652.8 1047.6,653.5 1048.4,653.4 1049.2,652.7 1050.0,653.4 1050.8,652.5 1051.6,652.2 1052.4,652.1 1052.9,651.5 1053.2,651.5 1054.0,651.3 1054.8,651.8 1055.0,651.2 1055.6,651.1 1056.4,652.2 1057.1,651.8 1057.2,652.0 1058.0,652.6 1058.8,652.6 1059.6,653.8 1060.4,653.0 1061.2,652.5 1062.0,653.7 1062.8,652.9 1063.6,653.0 1064.4,651.8 1065.2,653.6 1066.0,653.5 1066.8,653.4 1067.6,653.5 1068.4,653.7 1069.2,652.8 1070.0,653.0 1070.8,651.7 1071.6,651.2 1072.4,651.0 1072.8,650.3 1073.2,648.9 1074.0,649.0 1074.5,648.7 1074.8,648.3 1075.6,649.5 1076.2,649.9 1076.4,649.6 1077.2,650.7 1078.0,652.8 1078.8,651.8 1079.6,652.9 1080.4,653.2 1081.2,653.3 1082.0,652.6 1082.8,653.0 1083.6,653.2 1084.4,653.6 1085.2,652.9 1086.0,652.7 1086.8,653.7 1087.6,653.7 1088.4,653.4 1089.2,653.0 1090.0,653.4 1090.8,653.3 1091.6,653.6 1092.4,652.6 1093.2,653.2 1094.0,653.0 1094.8,652.3 1095.6,652.7 1096.4,652.2 1097.0,651.6 1097.2,651.9 1098.0,650.7 1098.8,651.2 1098.8,651.4 1099.6,651.5 1100.4,652.3 1100.5,651.3 1101.2,651.6 1102.0,652.7 1102.8,653.1 1103.6,654.0 1104.4,653.5 1105.2,652.8 1106.0,653.6 1106.8,652.9 1107.6,652.6 1108.4,654.5 1109.2,653.5 1110.0,653.7 1110.8,653.6 1111.6,654.2 1112.4,653.5 1113.2,653.9 1114.0,652.9 1114.8,652.8 1115.6,654.0 1116.4,654.0 1117.2,653.6 1118.0,653.5 1118.8,653.5 1119.6,653.1 1120.4,654.1 1121.2,653.7 1122.0,653.6 1122.8,653.6 1123.6,653.9 1124.4,653.6 1125.2,653.7 1126.0,652.9 1126.8,653.6 1127.6,654.4 1128.4,653.2 1129.2,653.4 1130.0,653.8 1130.8,653.9 1131.6,653.7 1132.4,652.7 1133.2,653.7 1134.0,652.9 1134.8,653.1 1135.6,653.7 1136.4,653.3 1137.2,653.8 1138.0,654.9 1138.8,653.8 1139.6,653.8 1140.4,653.0 1141.2,653.2 1142.0,653.0 1142.8,653.2 1143.6,653.0 1144.4,653.2 1145.2,653.4 1146.0,653.0 1146.8,652.8 1147.6,652.8 1148.4,653.7 1149.2,653.5 1150.0,653.9 1150.8,653.9 1151.6,653.3 1152.4,653.8 1153.2,652.8 1154.0,654.5 1154.8,654.0 1155.6,653.4 1156.4,652.9 1157.2,653.6 1158.0,652.6 1158.8,653.1 1159.6,653.8 1160.4,653.5 1161.2,653.3 1162.0,653.9 1162.8,653.0 1163.6,653.6 1164.4,653.3 1165.2,653.1 1166.0,653.7 1166.8,653.0 1167.6,654.3 1168.4,653.2 1169.2,654.4 1170.0,653.0 1170.8,653.8 1171.6,653.0 1172.4,652.9" fill="none" stroke="#ff0000" stroke-width="3.4" stroke-linejoin="round"/>
<polyline points="122.0,502.4 122.8,502.6 123.6,501.7 124.4,502.7 125.2,501.8 126.0,502.2 126.8,502.2 127.6,502.3 128.4,501.2 129.2,502.7 130.0,502.2 130.8,501.7 131.6,501.4 132.4,501.1 133.2,501.2 134.0,502.0 134.8,501.6 135.6,501.2 136.4,501.4 137.2,502.3 138.0,501.4 138.8,501.3 139.6,502.1 140.4,501.7 141.2,501.4 142.0,501.1 142.8,500.6 143.6,500.8 144.4,501.1 145.2,501.1 146.0,501.4 146.8,501.4 147.6,501.2 148.4,501.2 149.2,500.6 150.0,500.0 150.8,500.7 151.6,500.5 152.4,500.6 153.2,500.7 154.0,500.3 154.8,500.3 155.6,500.7 156.4,500.8 157.2,500.4 158.0,500.9 158.8,500.5 159.6,500.1 160.4,500.6 161.2,501.4 162.0,500.2 162.8,501.0 163.6,501.0 164.4,501.0 165.2,500.0 166.0,501.2 166.8,500.3 167.6,500.1 168.4,500.1 169.2,500.4 170.0,500.1 170.8,500.0 171.6,500.6 172.4,499.7 173.2,499.5 174.0,500.3 174.8,500.2 175.6,500.3 176.4,499.3 177.2,500.3 178.0,500.0 178.8,500.5 179.6,499.1 180.4,499.7 181.2,499.5 182.0,498.8 182.8,499.2 183.6,500.0 184.4,499.2 185.2,499.1 186.0,499.8 186.8,499.8 187.6,499.7 188.4,498.9 189.2,499.2 190.0,499.6 190.8,498.9 191.6,498.8 192.4,499.4 193.2,499.7 194.0,498.5 194.8,497.8 195.6,498.3 196.4,498.4 197.2,498.8 198.0,499.1 198.8,498.7 199.6,498.4 200.4,498.8 201.2,498.2 202.0,498.6 202.8,498.3 203.6,499.8 204.4,498.9 205.2,498.1 206.0,498.0 206.8,498.2 207.6,497.6 208.4,498.0 209.2,498.0 210.0,498.7 210.8,498.0 211.6,497.8 212.4,497.5 213.2,497.6 214.0,498.0 214.8,497.9 215.6,498.5 216.4,497.7 217.2,498.4 218.0,498.0 218.8,497.8 219.6,496.9 220.4,497.1 221.2,498.0 222.0,498.3 222.8,497.7 223.6,497.9 224.4,497.3 225.2,497.3 226.0,497.1 226.8,497.8 227.6,497.5 228.4,497.2 229.2,497.1 230.0,497.3 230.8,497.1 231.6,496.4 232.4,497.1 233.2,495.7 234.0,491.3 234.8,467.5 235.6,410.0 235.6,405.3 236.2,372.9 236.4,374.5 236.9,409.3 237.2,430.0 238.0,480.8 238.8,493.0 239.6,496.2 240.4,496.1 241.2,496.3 242.0,496.9 242.8,497.2 243.6,497.4 244.4,498.0 245.2,497.4 246.0,497.7 246.8,497.0 247.6,497.6 248.4,497.4 249.2,497.1 250.0,497.3 250.8,497.3 251.6,497.4 252.4,497.5 253.2,497.1 254.0,497.0 254.8,497.7 255.6,496.5 256.4,497.0 257.2,498.0 258.0,496.0 258.8,496.9 259.6,497.4 260.4,496.1 261.2,497.6 262.0,494.6 262.4,496.1 262.8,495.8 263.6,495.1 263.8,494.6 264.4,495.0 265.1,495.0 265.2,495.9 266.0,495.7 266.8,496.5 267.6,497.4 268.4,496.5 269.2,496.9 270.0,497.1 270.8,496.3 271.6,497.3 272.4,496.6 273.2,495.5 273.2,496.1 274.0,495.5 274.8,495.4 275.0,495.6 275.6,495.4 276.4,496.4 276.8,495.8 277.2,496.8 278.0,496.6 278.8,497.3 279.6,496.8 280.4,496.9 281.2,496.6 282.0,497.4 282.8,497.6 283.6,498.2 284.4,497.8 285.2,497.3 286.0,497.1 286.8,497.4 287.6,497.2 288.4,497.9 289.2,497.6 290.0,496.8 290.8,496.9 291.6,497.8 292.4,497.3 293.2,497.1 294.0,497.7 294.8,497.0 295.6,497.1 296.4,497.0 297.2,496.3 298.0,497.6 298.8,496.6 299.6,496.9 300.4,496.8 301.2,497.5 302.0,497.2 302.8,497.2 303.6,496.4 304.4,497.2 305.2,496.5 306.0,497.3 306.8,497.4 307.6,497.2 308.4,498.1 309.2,497.5 310.0,497.5 310.8,497.3 311.6,497.1 312.4,497.7 313.2,497.7 314.0,496.6 314.8,497.7 315.6,497.5 316.4,497.7 317.2,497.5 318.0,496.7 318.8,496.7 319.6,498.1 320.4,497.4 321.2,496.6 322.0,497.4 322.8,497.1 323.6,496.4 324.4,496.2 325.2,496.5 326.0,497.4 326.8,497.2 327.6,497.2 328.4,497.4 329.2,497.5 330.0,496.3 330.8,497.1 331.6,496.9 332.4,496.7 333.2,497.0 334.0,497.2 334.8,497.2 335.6,496.6 336.4,497.1 337.2,498.2 338.0,496.8 338.8,496.5 339.6,497.4 340.4,497.6 341.2,497.5 342.0,496.8 342.8,497.8 343.6,497.0 344.4,496.8 345.2,497.1 346.0,497.3 346.8,497.7 347.6,497.6 348.4,497.3 349.2,497.8 350.0,497.4 350.8,497.7 351.6,496.7 352.4,496.6 353.2,497.7 354.0,496.7 354.8,497.2 355.6,497.3 356.4,497.1 357.2,497.2 358.0,498.0 358.8,496.2 359.6,497.8 360.4,498.4 361.2,497.4 362.0,497.4 362.8,497.7 363.6,498.2 364.4,496.9 365.2,497.4 366.0,497.3 366.8,497.6 367.6,497.5 368.4,497.7 369.2,497.2 370.0,497.4 370.8,497.1 371.6,497.1 372.4,497.3 373.2,497.3 374.0,496.9 374.8,498.1 375.6,497.4 376.4,496.8 377.2,497.9 378.0,497.1 378.8,497.7 379.6,497.4 380.4,497.5 381.2,497.5 382.0,497.2 382.8,497.5 383.6,498.4 384.4,496.4 385.2,497.5 386.0,497.6 386.8,497.0 387.6,496.8 388.4,498.4 389.2,497.3 390.0,498.4 390.8,497.7 391.6,497.5 392.4,497.7 393.2,497.8 394.0,498.0 394.8,497.7 395.6,497.5 396.4,497.6 397.2,498.1 398.0,497.9 398.8,497.0 399.6,497.2 400.4,497.6 401.2,497.2 402.0,497.3 402.8,497.1 403.6,497.4 404.4,497.7 405.2,497.9 406.0,497.5 406.8,498.4 407.6,497.5 408.4,498.9 409.2,497.9 410.0,497.7 410.8,497.3 411.6,496.2 412.4,497.4 413.2,497.6 414.0,498.4 414.8,496.9 415.6,498.3 416.4,497.4 417.2,497.8 418.0,496.3 418.8,497.5 419.6,497.3 420.4,497.8 421.2,497.5 422.0,497.0 422.8,497.9 423.6,497.8 424.4,497.7 425.2,497.9 426.0,498.0 426.8,497.5 427.6,496.9 428.4,496.9 429.2,498.1 430.0,497.8 430.8,497.5 431.6,497.3 432.4,497.5 433.2,497.5 434.0,497.3 434.8,497.2 435.6,498.4 436.4,497.6 437.2,497.2 438.0,496.9 438.8,497.1 439.6,497.8 440.4,497.8 441.2,497.4 442.0,497.5 442.8,497.3 443.6,497.0 444.4,498.0 445.2,497.6 446.0,498.6 446.8,497.1 447.6,497.4 448.4,497.8 449.2,497.3 450.0,496.8 450.8,497.0 451.6,497.5 452.4,497.6 453.2,497.4 454.0,497.9 454.8,497.9 455.6,497.5 456.4,497.4 457.2,497.3 458.0,497.6 458.8,497.8 459.6,497.4 460.4,497.5 461.2,497.2 462.0,496.6 462.8,496.8 463.6,497.6 464.4,497.4 465.2,497.8 466.0,497.1 466.8,497.3 467.6,497.4 468.4,497.1 469.2,496.1 470.0,495.9 470.8,495.0 471.6,491.9 472.4,486.7 473.2,477.4 474.0,468.4 474.2,467.9 474.8,470.8 475.3,476.9 475.6,480.7 476.4,488.9 477.2,493.8 478.0,495.4 478.8,496.8 479.6,496.7 480.4,496.9 481.2,496.7 482.0,496.3 482.8,496.9 483.6,496.6 484.4,497.4 485.2,496.9 486.0,497.4 486.8,496.4 487.6,495.4 487.7,495.0 488.4,494.1 488.8,493.9 489.2,494.5 489.8,494.5 490.0,495.4 490.8,497.2 491.6,496.4 492.4,496.2 493.2,495.2 494.0,493.1 494.4,493.0 494.8,491.4 495.5,490.3 495.6,491.2 496.4,493.1 496.6,492.1 497.2,494.9 498.0,496.3 498.8,496.9 499.6,497.2 500.4,497.1 501.2,497.9 502.0,497.5 502.8,497.5 503.6,497.9 504.4,497.8 505.2,497.6 506.0,497.5 506.8,498.2 507.6,497.6 508.4,497.4 509.2,497.0 510.0,497.3 510.8,496.9 511.6,497.5 512.4,497.5 513.2,496.5 514.0,497.4 514.8,497.7 515.6,497.5 516.4,497.0 517.2,498.0 518.0,497.1 518.8,496.9 519.6,497.0 520.4,497.4 521.2,497.9 522.0,498.0 522.8,497.5 523.6,496.9 524.4,497.1 525.2,497.0 526.0,497.4 526.8,496.6 527.6,497.5 528.4,497.7 529.2,497.4 530.0,497.6 530.8,497.0 531.6,496.8 532.4,497.1 533.2,498.0 534.0,497.9 534.8,497.2 535.6,498.0 536.4,497.3 537.2,498.1 538.0,497.6 538.8,497.2 539.6,497.8 540.4,497.1 541.2,497.0 542.0,496.8 542.8,497.5 543.6,497.4 544.4,497.4 545.2,497.2 546.0,498.0 546.8,497.2 547.6,497.1 548.4,497.9 549.2,498.0 550.0,497.5 550.8,496.6 551.6,497.1 552.4,497.6 553.2,497.3 554.0,498.0 554.8,496.7 555.6,497.6 556.4,497.0 557.2,497.8 558.0,497.2 558.8,497.7 559.6,496.9 560.4,496.5 561.2,496.6 562.0,496.8 562.8,496.5 563.6,497.5 564.4,497.4 565.2,496.9 566.0,496.2 566.8,496.4 567.6,495.9 568.4,496.6 569.2,495.8 570.0,495.3 570.8,494.1 571.6,491.7 572.4,488.6 573.2,480.3 574.0,465.9 574.6,451.9 574.8,445.4 575.6,431.9 575.8,431.7 576.4,438.5 576.9,451.4 577.2,458.4 578.0,475.7 578.8,486.4 579.6,491.9 580.4,494.6 581.2,494.0 582.0,495.4 582.8,495.9 583.6,496.1 584.4,496.3 585.2,496.4 586.0,497.1 586.8,496.6 587.6,496.8 588.4,497.0 589.2,497.1 590.0,497.0 590.8,497.6 591.6,497.1 592.4,497.3 593.2,497.2 594.0,496.8 594.8,496.9 595.6,496.8 596.4,497.4 597.2,497.0 598.0,496.8 598.8,497.4 599.6,497.6 600.4,496.5 601.2,498.1 602.0,497.4 602.8,497.3 603.6,497.8 604.4,497.4 605.2,497.1 606.0,498.4 606.8,496.9 607.6,497.3 608.4,497.8 609.2,496.9 610.0,497.3 610.8,497.6 611.6,498.5 612.4,497.0 613.2,497.4 614.0,497.7 614.8,497.4 615.6,496.8 616.4,497.5 617.2,497.4 618.0,497.5 618.8,497.8 619.6,497.8 620.4,497.5 621.2,497.4 622.0,496.7 622.8,497.1 623.6,497.2 624.4,496.8 625.2,496.9 626.0,496.1 626.8,496.3 627.6,495.2 628.4,492.1 628.6,491.9 629.2,490.1 630.0,489.2 630.8,490.4 631.4,491.7 631.6,492.2 632.4,494.3 633.2,495.2 634.0,496.7 634.8,496.5 635.6,497.3 636.4,497.2 637.2,497.7 638.0,497.2 638.8,497.8 639.6,496.9 640.4,497.6 641.2,497.3 642.0,497.5 642.8,497.4 643.6,497.8 644.4,496.5 645.2,497.6 646.0,496.7 646.8,498.0 647.6,496.5 648.4,497.0 649.2,496.7 650.0,498.2 650.8,496.9 651.6,497.5 652.4,497.2 653.2,496.6 654.0,497.3 654.8,497.8 655.6,497.4 656.4,497.9 657.2,497.3 658.0,497.5 658.8,497.3 659.6,497.6 660.4,498.3 661.2,497.6 662.0,497.6 662.8,497.2 663.6,497.1 664.4,498.1 665.2,497.0 666.0,497.1 666.8,497.4 667.6,497.3 668.4,498.4 669.2,496.4 670.0,497.6 670.8,497.8 671.6,497.0 672.4,497.2 673.2,497.7 674.0,498.2 674.8,497.1 675.6,496.8 676.4,497.9 677.2,498.2 678.0,497.3 678.8,496.5 679.6,498.1 680.4,497.4 681.2,498.0 682.0,497.5 682.8,497.3 683.6,497.3 684.4,498.1 685.2,498.1 686.0,496.5 686.8,497.1 687.6,498.3 688.4,497.3 689.2,496.9 690.0,497.5 690.8,497.4 691.6,497.4 692.4,497.3 693.2,497.3 694.0,497.3 694.8,497.6 695.6,497.1 696.4,497.4 697.2,497.4 698.0,498.1 698.8,497.7 699.6,497.4 700.4,497.7 701.2,497.7 702.0,498.0 702.8,497.7 703.6,498.3 704.4,498.1 705.2,497.5 706.0,497.3 706.8,497.9 707.6,497.7 708.4,497.4 709.2,496.8 710.0,496.7 710.8,497.6 711.6,497.8 712.4,497.8 713.2,496.9 714.0,497.9 714.8,497.2 715.6,497.7 716.4,497.7 717.2,497.1 718.0,497.2 718.8,496.5 719.6,497.1 720.4,496.7 721.2,497.7 722.0,497.5 722.8,497.9 723.6,497.6 724.4,497.2 725.2,497.6 726.0,497.3 726.8,497.7 727.6,497.6 728.4,497.0 729.2,497.5 730.0,497.5 730.8,497.3 731.6,497.9 732.4,498.2 733.2,497.3 734.0,497.3 734.8,496.5 735.6,497.4 736.4,497.3 737.2,496.5 738.0,497.6 738.8,497.7 739.6,497.1 740.4,497.3 741.2,497.0 742.0,497.8 742.8,496.8 743.6,497.3 744.4,498.3 745.2,497.4 746.0,497.6 746.8,497.3 747.6,496.9 748.4,497.4 749.2,497.6 750.0,496.9 750.8,497.5 751.6,497.9 752.4,497.8 753.2,496.5 754.0,496.7 754.8,496.4 755.6,497.4 756.4,497.0 757.2,496.5 758.0,494.9 758.8,493.5 759.6,492.3 759.7,492.1 760.4,490.1 761.2,489.8 761.2,489.7 762.0,490.5 762.8,491.6 762.8,491.1 763.6,493.7 764.4,495.3 765.2,496.0 766.0,496.5 766.8,496.6 767.6,497.4 768.4,497.1 769.2,497.3 770.0,496.8 770.8,497.0 771.6,497.4 772.4,496.9 773.2,496.8 774.0,497.2 774.8,497.9 775.6,497.5 776.4,498.1 777.2,497.4 778.0,497.3 778.8,496.8 779.6,497.2 780.4,498.1 781.2,497.6 782.0,497.8 782.8,497.8 783.6,497.4 784.4,497.4 785.2,497.5 786.0,497.8 786.8,497.7 787.6,497.7 788.4,497.5 789.2,497.1 790.0,497.3 790.8,497.0 791.6,497.9 792.4,496.5 793.2,497.4 794.0,498.5 794.8,497.3 795.6,496.9 796.4,497.4 797.2,498.0 798.0,497.4 798.8,497.7 799.6,497.5 800.4,497.3 801.2,498.9 802.0,497.5 802.8,497.2 803.6,497.2 804.4,497.6 805.2,497.6 806.0,497.8 806.8,497.5 807.6,496.8 808.4,497.7 809.2,497.3 810.0,497.3 810.8,496.8 811.6,497.2 812.4,497.1 813.2,497.4 814.0,496.8 814.8,497.4 815.6,497.5 816.4,496.9 817.2,497.1 818.0,497.0 818.8,497.8 819.6,496.2 820.4,497.2 821.2,496.6 822.0,497.1 822.8,497.7 823.6,497.0 824.4,497.3 825.2,496.8 826.0,498.1 826.8,497.5 827.6,497.6 828.4,496.4 829.2,496.4 830.0,497.2 830.8,496.2 831.6,495.5 832.4,494.4 833.2,491.3 834.0,488.9 834.1,488.1 834.8,485.5 835.5,484.0 835.6,484.3 836.4,485.6 836.9,488.5 837.2,489.9 838.0,492.8 838.8,494.7 839.6,495.8 840.4,494.8 841.2,496.5 842.0,495.7 842.8,495.1 843.6,493.5 844.4,490.7 844.9,489.5 845.2,488.8 846.0,487.3 846.2,486.5 846.8,486.7 847.6,490.3 847.6,489.4 848.4,493.4 849.2,494.5 850.0,495.4 850.8,496.9 851.6,497.5 852.4,496.3 853.2,497.7 854.0,497.0 854.8,497.8 855.6,497.0 856.4,496.5 857.2,497.5 858.0,497.7 858.8,498.3 859.6,498.1 860.4,497.7 861.2,497.2 862.0,497.1 862.8,497.2 863.6,497.0 864.4,497.3 865.2,496.2 866.0,497.5 866.8,497.4 867.6,498.6 868.4,497.7 869.2,497.2 870.0,497.7 870.8,496.9 871.6,497.1 872.4,496.6 873.2,498.0 874.0,497.7 874.8,496.9 875.6,497.4 876.4,497.8 877.2,497.6 878.0,497.5 878.8,497.0 879.6,497.0 880.4,497.4 881.2,497.7 882.0,496.9 882.8,496.7 883.6,497.6 884.4,496.5 885.2,497.0 886.0,496.0 886.8,495.3 887.6,494.4 887.7,493.8 888.4,492.7 889.2,491.3 889.2,491.7 890.0,492.5 890.8,494.1 890.8,494.1 891.6,495.8 892.4,495.9 893.2,496.6 894.0,497.3 894.8,497.1 895.6,497.1 896.4,496.8 897.2,497.7 898.0,496.8 898.8,497.6 899.6,496.7 900.4,497.9 901.2,496.9 902.0,497.8 902.8,496.7 903.6,497.2 904.4,498.0 905.2,497.1 906.0,497.5 906.8,497.2 907.6,496.4 908.4,497.6 909.2,497.6 910.0,497.0 910.8,497.7 911.6,497.1 912.4,497.0 913.2,497.5 914.0,497.2 914.8,498.5 915.6,496.8 916.4,497.8 917.2,497.9 918.0,496.6 918.8,496.7 919.6,497.7 920.4,497.3 921.2,497.6 922.0,498.0 922.8,497.3 923.6,497.0 924.4,496.2 925.2,497.6 926.0,497.1 926.8,497.6 927.6,497.6 928.4,496.9 929.2,498.3 930.0,498.0 930.8,497.9 931.6,496.9 932.4,497.3 933.2,497.2 934.0,497.3 934.8,497.0 935.6,497.7 936.4,497.6 937.2,497.6 938.0,497.3 938.8,498.1 939.6,497.6 940.4,496.3 941.2,497.2 942.0,497.5 942.8,497.9 943.6,497.3 944.4,497.4 945.2,497.2 946.0,497.8 946.8,497.3 947.6,497.2 948.4,497.1 949.2,497.7 950.0,497.2 950.8,496.7 951.6,497.8 952.4,497.2 953.2,497.6 954.0,497.7 954.8,498.0 955.6,498.0 956.4,497.2 957.2,497.4 958.0,496.9 958.8,498.2 959.6,497.7 960.4,498.1 961.2,497.3 962.0,496.6 962.8,498.2 963.6,497.5 964.4,497.5 965.2,497.5 966.0,497.8 966.8,497.7 967.6,496.8 968.4,498.0 969.2,497.2 970.0,497.3 970.8,498.3 971.6,497.9 972.4,497.3 973.2,496.6 974.0,497.5 974.8,497.7 975.6,497.4 976.4,496.9 977.2,497.1 978.0,496.9 978.8,497.6 979.6,497.8 980.4,497.9 981.2,497.1 982.0,497.6 982.8,497.7 983.6,497.2 984.4,497.4 985.2,498.4 986.0,497.5 986.8,497.8 987.6,497.2 988.4,497.4 989.2,496.6 990.0,497.4 990.8,497.9 991.6,498.3 992.4,497.9 993.2,497.7 994.0,497.4 994.8,497.1 995.6,497.2 996.4,497.5 997.2,496.8 998.0,497.5 998.8,496.5 999.6,495.9 1000.4,496.1 1001.2,495.5 1002.0,495.3 1002.2,496.4 1002.8,495.5 1003.6,495.5 1004.4,495.7 1005.0,495.1 1005.2,494.9 1006.0,495.8 1006.8,495.6 1007.6,495.7 1007.8,496.0 1008.4,495.3 1009.2,495.8 1010.0,496.3 1010.8,496.6 1011.6,496.1 1012.4,496.0 1012.9,496.4 1013.2,496.5 1014.0,496.0 1014.8,496.1 1015.0,495.5 1015.6,495.5 1016.4,496.0 1017.1,496.0 1017.2,495.9 1018.0,497.2 1018.8,496.7 1019.6,496.5 1020.4,497.3 1021.2,498.0 1022.0,497.3 1022.8,497.9 1023.6,497.2 1024.4,497.1 1025.2,497.1 1026.0,497.3 1026.8,498.2 1027.6,496.9 1028.4,498.2 1029.2,497.0 1030.0,497.3 1030.8,497.8 1031.6,497.7 1032.4,497.6 1033.2,496.7 1034.0,497.6 1034.8,497.0 1035.6,498.6 1036.4,497.3 1037.2,497.5 1038.0,496.9 1038.8,497.2 1039.6,496.9 1040.4,497.9 1041.2,497.3 1042.0,497.7 1042.8,497.1 1043.6,497.2 1044.4,498.0 1045.2,497.0 1046.0,496.6 1046.8,497.5 1047.6,496.8 1048.4,497.1 1049.2,497.6 1050.0,496.6 1050.8,497.1 1051.6,496.1 1052.0,496.9 1052.4,496.6 1053.2,495.5 1053.8,495.7 1054.0,495.3 1054.8,496.0 1055.5,496.7 1055.6,495.6 1056.4,497.0 1057.2,496.3 1058.0,496.7 1058.8,496.4 1059.6,498.2 1060.4,497.3 1061.2,497.4 1062.0,497.0 1062.8,497.8 1063.6,496.3 1064.4,497.3 1065.2,498.2 1066.0,496.9 1066.8,496.8 1067.6,496.7 1068.4,495.5 1069.2,495.2 1069.2,495.6 1070.0,494.7 1070.8,494.4 1071.0,494.2 1071.6,494.5 1072.4,494.9 1072.8,495.8 1073.2,495.9 1074.0,496.1 1074.8,495.6 1075.6,497.3 1076.4,497.5 1077.2,496.8 1078.0,496.4 1078.8,496.8 1079.6,497.8 1080.4,496.9 1081.2,497.2 1082.0,497.5 1082.8,498.0 1083.6,497.4 1084.4,497.4 1085.2,497.2 1086.0,498.2 1086.8,497.9 1087.6,497.4 1088.4,496.8 1089.2,497.1 1090.0,497.7 1090.8,497.1 1091.6,497.8 1092.4,497.5 1093.2,497.4 1094.0,497.5 1094.8,497.2 1095.6,496.4 1096.2,496.4 1096.4,497.6 1097.2,495.7 1098.0,496.2 1098.8,496.8 1099.6,496.5 1099.8,496.2 1100.4,496.2 1101.2,497.3 1102.0,497.7 1102.8,497.9 1103.6,497.4 1104.4,497.9 1105.2,497.0 1106.0,497.5 1106.8,497.1 1107.6,497.5 1108.4,497.8 1109.2,497.9 1110.0,497.0 1110.8,498.0 1111.6,497.3 1112.4,497.0 1113.2,497.4 1114.0,496.8 1114.8,497.5 1115.6,497.6 1116.4,497.4 1117.2,497.7 1118.0,497.3 1118.8,497.5 1119.6,496.8 1120.4,497.5 1121.2,497.1 1122.0,497.3 1122.8,497.4 1123.6,497.6 1124.4,496.7 1125.2,496.8 1126.0,497.4 1126.8,497.7 1127.6,497.7 1128.4,497.9 1129.2,498.1 1130.0,497.7 1130.8,497.5 1131.6,497.0 1132.4,497.1 1133.2,497.3 1134.0,497.6 1134.8,497.6 1135.6,497.5 1136.4,497.4 1137.2,497.8 1138.0,497.6 1138.8,497.6 1139.6,497.6 1140.4,497.2 1141.2,497.0 1142.0,497.7 1142.8,497.7 1143.6,497.4 1144.4,497.3 1145.2,498.5 1146.0,497.2 1146.8,497.4 1147.6,497.6 1148.4,497.0 1149.2,497.5 1150.0,498.3 1150.8,497.9 1151.6,497.8 1152.4,497.8 1153.2,497.5 1154.0,497.9 1154.8,497.4 1155.6,497.3 1156.4,497.5 1157.2,497.9 1158.0,497.6 1158.8,497.8 1159.6,496.6 1160.4,498.0 1161.2,498.5 1162.0,498.1 1162.8,497.4 1163.6,497.1 1164.4,497.6 1165.2,497.1 1166.0,497.8 1166.8,497.3 1167.6,497.9 1168.4,498.1 1169.2,496.6 1170.0,497.6 1170.8,497.2 1171.6,496.9 1172.4,497.2" fill="none" stroke="#0000ff" stroke-width="3.4" stroke-linejoin="round"/>
<polyline points="122.0,367.4 122.8,367.9 123.6,366.7 124.4,367.9 125.2,368.2 126.0,367.6 126.8,367.5 127.6,367.2 128.4,366.7 129.2,367.4 130.0,367.3 130.8,367.4 131.6,368.2 132.4,367.3 133.2,367.1 134.0,367.6 134.8,366.3 135.6,366.3 136.4,366.6 137.2,366.5 138.0,367.0 138.8,366.5 139.6,367.4 140.4,367.3 141.2,366.9 142.0,366.4 142.8,366.8 143.6,366.8 144.4,365.9 145.2,366.5 146.0,366.6 146.8,366.4 147.6,367.0 148.4,366.8 149.2,365.8 150.0,366.2 150.8,365.7 151.6,366.3 152.4,365.6 153.2,366.4 154.0,366.1 154.8,366.3 155.6,365.8 156.4,365.2 157.2,366.6 158.0,365.7 158.8,366.3 159.6,365.9 160.4,365.9 161.2,366.4 162.0,365.7 162.8,366.1 163.6,364.8 164.4,365.8 165.2,365.3 166.0,365.3 166.8,365.3 167.6,365.4 168.4,366.0 169.2,364.4 170.0,365.2 170.8,364.8 171.6,365.6 172.4,364.9 173.2,365.2 174.0,364.8 174.8,365.2 175.6,365.3 176.4,364.7 177.2,364.8 178.0,364.1 178.8,364.9 179.6,365.1 180.4,364.4 181.2,365.1 182.0,363.6 182.8,363.7 183.6,363.9 184.4,364.2 185.2,364.4 186.0,364.3 186.8,364.3 187.6,364.6 188.4,364.1 189.2,363.7 190.0,363.6 190.8,365.1 191.6,363.0 192.4,364.0 193.2,364.7 194.0,364.2 194.8,363.6 195.6,363.9 196.4,364.3 197.2,364.4 198.0,363.4 198.8,364.1 199.6,363.8 200.4,364.2 201.2,364.3 202.0,363.4 202.8,362.9 203.6,363.7 204.4,364.3 205.2,363.7 206.0,363.5 206.8,364.4 207.6,362.8 208.4,363.7 209.2,363.0 210.0,363.2 210.8,363.2 211.6,363.8 212.4,362.6 213.2,362.8 214.0,362.3 214.8,363.2 215.6,362.7 216.4,363.0 217.2,362.3 218.0,362.6 218.8,363.2 219.6,362.6 220.4,362.9 221.2,362.8 222.0,362.4 222.8,361.8 223.6,362.9 224.4,362.4 225.2,362.7 226.0,361.3 226.8,361.5 227.6,361.2 228.4,361.6 229.2,362.4 230.0,362.0 230.8,361.5 231.6,361.2 232.4,360.8 233.2,357.8 234.0,341.6 234.8,281.7 235.1,254.5 235.6,213.3 235.8,211.0 236.4,250.2 236.4,255.4 237.2,324.8 238.0,354.5 238.8,360.4 239.6,360.8 240.4,360.8 241.2,360.2 242.0,361.5 242.8,361.0 243.6,361.1 244.4,362.3 245.2,362.3 246.0,361.2 246.8,362.4 247.6,362.3 248.4,361.7 249.2,362.4 250.0,361.4 250.8,361.5 251.6,361.4 252.4,361.6 253.2,362.5 254.0,361.5 254.8,361.6 255.6,361.6 256.4,362.2 257.2,361.9 258.0,362.4 258.8,361.7 259.6,361.5 260.4,361.8 261.2,362.0 262.0,361.6 262.8,362.1 263.6,362.8 264.4,361.7 265.2,362.0 266.0,362.6 266.8,361.7 267.6,361.6 268.4,361.5 269.2,362.1 270.0,362.2 270.8,361.9 271.6,361.9 272.4,362.5 273.2,362.3 274.0,361.3 274.8,361.9 275.6,361.9 276.4,362.2 277.2,361.7 278.0,361.5 278.8,361.6 279.6,361.0 280.4,361.8 281.2,361.5 282.0,362.0 282.8,361.3 283.6,361.6 284.4,361.3 285.2,361.3 286.0,362.1 286.8,361.5 287.6,361.9 288.4,361.2 289.2,361.7 290.0,360.9 290.8,361.5 291.6,361.4 292.4,361.9 293.2,361.7 294.0,361.6 294.8,362.0 295.6,361.7 296.4,361.9 297.2,362.0 298.0,361.6 298.8,361.5 299.6,361.7 300.4,361.4 301.2,361.7 302.0,362.1 302.8,362.0 303.6,361.4 304.4,361.0 305.2,361.6 306.0,361.5 306.8,362.1 307.6,361.4 308.4,361.5 309.2,361.9 310.0,361.4 310.8,361.5 311.6,362.4 312.4,362.3 313.2,361.9 314.0,361.7 314.8,361.2 315.6,361.9 316.4,361.6 317.2,361.7 318.0,361.4 318.8,361.6 319.6,361.5 320.4,361.8 321.2,362.3 322.0,361.8 322.8,360.9 323.6,361.2 324.4,360.9 325.2,361.3 326.0,361.9 326.8,361.8 327.6,361.4 328.4,361.8 329.2,361.3 330.0,361.0 330.8,361.0 331.6,361.3 332.4,362.3 333.2,361.1 334.0,362.2 334.8,362.3 335.6,361.6 336.4,361.7 337.2,361.4 338.0,361.7 338.8,362.0 339.6,361.7 340.4,362.1 341.2,362.2 342.0,361.9 342.8,361.8 343.6,361.7 344.4,361.9 345.2,361.2 346.0,361.9 346.8,361.8 347.6,361.3 348.4,362.7 349.2,361.3 350.0,361.3 350.8,361.8 351.6,360.9 352.4,361.4 353.2,361.0 354.0,361.3 354.8,361.7 355.6,361.9 356.4,362.2 357.2,362.1 358.0,362.3 358.8,362.0 359.6,361.5 360.4,362.3 361.2,361.5 362.0,361.5 362.8,362.4 363.6,362.1 364.4,361.9 365.2,362.1 366.0,362.2 366.8,361.2 367.6,361.7 368.4,361.2 369.2,361.8 370.0,361.5 370.8,362.4 371.6,362.0 372.4,361.4 373.2,361.8 374.0,361.2 374.8,361.8 375.6,362.0 376.4,361.9 377.2,360.9 378.0,361.6 378.8,362.0 379.6,361.9 380.4,362.3 381.2,361.2 382.0,362.0 382.8,361.5 383.6,361.9 384.4,362.0 385.2,362.1 386.0,361.6 386.8,361.9 387.6,361.3 388.4,361.2 389.2,362.1 390.0,361.8 390.8,361.1 391.6,361.5 392.4,361.8 393.2,362.5 394.0,362.3 394.8,362.2 395.6,361.0 396.4,361.8 397.2,362.1 398.0,362.0 398.8,362.0 399.6,361.8 400.4,362.7 401.2,362.5 402.0,361.8 402.8,361.4 403.6,362.8 404.4,361.6 405.2,362.4 406.0,362.7 406.8,361.4 407.6,362.0 408.4,361.7 409.2,362.1 410.0,362.0 410.8,362.7 411.6,362.1 412.4,361.8 413.2,362.3 414.0,361.7 414.8,361.7 415.6,362.8 416.4,361.5 417.2,361.6 418.0,361.9 418.8,361.4 419.6,360.9 420.4,362.3 421.2,361.5 422.0,361.6 422.8,361.7 423.6,361.4 424.4,361.3 425.2,361.9 426.0,362.9 426.8,362.2 427.6,362.2 428.4,361.1 429.2,361.8 430.0,361.3 430.8,362.2 431.6,361.7 432.4,361.8 433.2,361.8 434.0,361.5 434.8,361.1 435.6,362.1 436.4,361.2 437.2,361.3 438.0,361.7 438.8,361.5 439.6,361.9 440.4,362.2 441.2,361.9 442.0,361.9 442.8,361.8 443.6,362.2 444.4,360.9 445.2,361.9 446.0,361.3 446.8,361.2 447.6,361.8 448.4,361.6 449.2,362.0 450.0,362.2 450.8,360.7 451.6,361.7 452.4,362.6 453.2,362.1 454.0,362.4 454.8,361.7 455.6,361.0 456.4,361.2 457.2,362.0 458.0,362.1 458.8,361.3 459.6,361.5 460.4,361.7 461.2,360.8 462.0,361.4 462.8,362.2 463.6,362.4 464.4,361.3 465.2,362.1 466.0,360.9 466.8,360.6 467.6,359.8 468.4,360.9 469.2,359.6 470.0,359.4 470.8,354.8 471.6,346.9 472.2,337.4 472.4,336.0 473.2,327.7 473.2,327.9 474.0,332.9 474.3,338.7 474.8,345.9 475.6,353.6 476.4,358.1 477.2,359.8 478.0,360.7 478.8,360.7 479.6,361.6 480.4,360.9 481.2,360.8 482.0,360.9 482.8,360.0 483.6,360.8 484.4,361.5 485.2,360.9 486.0,359.8 486.8,358.9 487.2,357.0 487.6,356.9 488.2,356.3 488.4,356.6 489.2,357.2 489.3,358.2 490.0,360.0 490.8,359.9 491.6,360.6 492.4,358.8 493.2,356.5 493.9,354.5 494.0,354.0 494.8,351.2 495.0,351.0 495.6,352.1 496.1,354.6 496.4,356.7 497.2,358.7 498.0,359.6 498.8,361.5 499.6,361.5 500.4,361.6 501.2,361.5 502.0,362.5 502.8,361.6 503.6,361.8 504.4,360.7 505.2,361.3 506.0,361.3 506.8,361.6 507.6,361.8 508.4,361.3 509.2,362.4 510.0,361.2 510.8,361.5 511.6,361.8 512.4,361.1 513.2,361.9 514.0,362.0 514.8,361.5 515.6,362.5 516.4,361.7 517.2,361.8 518.0,361.3 518.8,360.9 519.6,361.4 520.4,361.5 521.2,361.5 522.0,362.0 522.8,360.6 523.6,361.2 524.4,360.9 525.2,362.3 526.0,361.4 526.8,361.4 527.6,361.2 528.4,362.1 529.2,361.5 530.0,361.8 530.8,360.8 531.6,362.2 532.4,361.8 533.2,361.9 534.0,362.2 534.8,361.6 535.6,361.6 536.4,362.0 537.2,361.8 538.0,361.5 538.8,361.7 539.6,361.4 540.4,362.0 541.2,362.1 542.0,361.6 542.8,362.5 543.6,360.9 544.4,361.5 545.2,362.4 546.0,361.4 546.8,360.9 547.6,362.2 548.4,361.8 549.2,361.0 550.0,361.9 550.8,361.1 551.6,360.9 552.4,361.5 553.2,361.3 554.0,361.0 554.8,361.3 555.6,361.0 556.4,361.5 557.2,361.4 558.0,361.7 558.8,361.1 559.6,360.7 560.4,360.7 561.2,361.1 562.0,361.8 562.8,361.4 563.6,360.7 564.4,361.3 565.2,360.2 566.0,361.0 566.8,360.1 567.6,360.4 568.4,359.9 569.2,358.9 570.0,358.2 570.8,355.9 571.6,352.3 572.4,343.9 573.2,328.7 573.8,310.0 574.0,304.2 574.8,287.1 575.0,286.7 575.6,293.1 576.2,309.3 576.4,315.9 577.2,335.6 578.0,349.4 578.8,355.3 579.6,357.1 580.4,358.4 581.2,358.7 582.0,359.2 582.8,360.4 583.6,360.7 584.4,360.8 585.2,360.9 586.0,360.6 586.8,361.2 587.6,360.4 588.4,361.1 589.2,361.9 590.0,361.8 590.8,361.1 591.6,361.2 592.4,362.0 593.2,362.2 594.0,360.7 594.8,361.2 595.6,361.5 596.4,362.0 597.2,361.1 598.0,361.8 598.8,361.3 599.6,362.6 600.4,361.7 601.2,361.4 602.0,361.4 602.8,362.0 603.6,361.8 604.4,361.0 605.2,361.6 606.0,360.9 606.8,361.2 607.6,361.0 608.4,360.9 609.2,361.2 610.0,361.1 610.8,361.8 611.6,361.9 612.4,361.4 613.2,361.0 614.0,361.9 614.8,360.6 615.6,360.6 616.4,361.8 617.2,361.8 618.0,361.9 618.8,361.4 619.6,360.9 620.4,361.2 621.2,361.6 622.0,361.0 622.8,360.9 623.6,360.5 624.4,360.4 625.2,360.9 626.0,359.8 626.8,357.5 627.6,355.3 627.9,354.8 628.4,353.7 629.2,351.6 629.2,352.2 630.0,352.2 630.6,354.5 630.8,355.7 631.6,358.2 632.4,358.9 633.2,360.0 634.0,361.2 634.8,360.9 635.6,361.0 636.4,361.5 637.2,361.4 638.0,361.9 638.8,361.8 639.6,361.2 640.4,361.4 641.2,361.5 642.0,360.9 642.8,361.1 643.6,362.0 644.4,360.8 645.2,362.0 646.0,361.7 646.8,361.5 647.6,361.8 648.4,361.8 649.2,362.1 650.0,361.4 650.8,361.5 651.6,361.5 652.4,362.4 653.2,362.0 654.0,361.2 654.8,361.4 655.6,361.3 656.4,361.6 657.2,361.7 658.0,362.6 658.8,360.8 659.6,362.0 660.4,361.8 661.2,361.3 662.0,361.5 662.8,361.4 663.6,361.6 664.4,362.0 665.2,360.9 666.0,362.2 666.8,361.4 667.6,362.3 668.4,361.8 669.2,362.1 670.0,361.8 670.8,362.1 671.6,361.6 672.4,361.2 673.2,361.9 674.0,361.9 674.8,362.5 675.6,360.7 676.4,361.5 677.2,362.1 678.0,361.0 678.8,361.5 679.6,362.5 680.4,362.2 681.2,361.2 682.0,362.2 682.8,362.1 683.6,361.9 684.4,361.8 685.2,361.7 686.0,361.2 686.8,361.3 687.6,361.9 688.4,361.6 689.2,362.4 690.0,361.4 690.8,360.5 691.6,361.4 692.4,361.7 693.2,361.7 694.0,361.6 694.8,361.2 695.6,362.2 696.4,361.3 697.2,361.9 698.0,361.4 698.8,361.0 699.6,362.2 700.4,360.4 701.2,361.2 702.0,361.8 702.8,361.4 703.6,361.9 704.4,361.5 705.2,361.4 706.0,362.5 706.8,361.5 707.6,361.5 708.4,361.1 709.2,361.2 710.0,361.9 710.8,361.8 711.6,361.6 712.4,361.2 713.2,361.9 714.0,360.8 714.8,361.4 715.6,361.4 716.4,361.2 717.2,361.6 718.0,361.3 718.8,361.2 719.6,362.4 720.4,361.9 721.2,362.1 722.0,361.6 722.8,362.0 723.6,361.9 724.4,362.1 725.2,362.6 726.0,361.4 726.8,361.7 727.6,361.5 728.4,360.0 729.2,360.9 730.0,361.6 730.8,361.8 731.6,361.3 732.4,362.1 733.2,362.1 734.0,361.4 734.8,362.2 735.6,362.3 736.4,361.7 737.2,361.1 738.0,362.2 738.8,361.4 739.6,361.3 740.4,361.6 741.2,361.3 742.0,362.0 742.8,361.8 743.6,362.0 744.4,361.7 745.2,361.1 746.0,361.4 746.8,361.9 747.6,361.3 748.4,362.7 749.2,361.3 750.0,361.1 750.8,361.9 751.6,361.7 752.4,361.3 753.2,361.1 754.0,361.3 754.8,361.4 755.6,361.0 756.4,360.0 757.2,359.4 758.0,358.2 758.8,356.2 758.9,354.2 759.6,353.6 760.4,352.6 760.5,352.9 761.2,353.7 762.0,355.8 762.1,355.9 762.8,357.3 763.6,358.9 764.4,360.8 765.2,360.3 766.0,361.1 766.8,361.8 767.6,361.3 768.4,360.3 769.2,361.5 770.0,361.2 770.8,361.3 771.6,361.9 772.4,361.6 773.2,361.3 774.0,361.8 774.8,361.6 775.6,361.5 776.4,361.6 777.2,361.6 778.0,361.3 778.8,361.3 779.6,361.5 780.4,361.1 781.2,360.9 782.0,362.1 782.8,361.4 783.6,361.5 784.4,361.4 785.2,361.5 786.0,361.5 786.8,361.5 787.6,361.1 788.4,361.9 789.2,361.2 790.0,362.0 790.8,360.6 791.6,361.0 792.4,361.9 793.2,361.4 794.0,361.2 794.8,361.7 795.6,361.0 796.4,361.5 797.2,360.5 798.0,361.3 798.8,361.2 799.6,361.7 800.4,361.9 801.2,361.1 802.0,362.2 802.8,361.2 803.6,360.6 804.4,360.4 805.2,362.2 806.0,361.4 806.8,361.2 807.6,361.1 808.4,361.0 809.2,362.1 810.0,361.4 810.8,362.3 811.6,361.4 812.4,360.4 813.2,361.8 814.0,361.3 814.8,361.3 815.6,362.1 816.4,361.3 817.2,361.9 818.0,361.4 818.8,361.1 819.6,361.6 820.4,361.1 821.2,361.9 822.0,361.8 822.8,361.3 823.6,361.6 824.4,361.5 825.2,361.1 826.0,361.6 826.8,361.0 827.6,361.3 828.4,360.5 829.2,360.8 830.0,360.7 830.8,359.6 831.6,358.6 832.4,356.6 833.2,354.1 833.6,351.6 834.0,350.4 834.8,348.6 835.0,347.8 835.6,348.0 836.4,351.9 837.2,355.7 838.0,357.6 838.8,359.7 839.6,360.1 840.4,360.2 841.2,359.7 842.0,358.9 842.8,357.5 843.6,355.3 844.1,353.8 844.4,352.7 845.2,350.3 845.5,350.2 846.0,351.0 846.8,352.6 846.9,353.3 847.6,355.8 848.4,358.3 849.2,359.6 850.0,360.3 850.8,360.3 851.6,361.2 852.4,361.2 853.2,360.4 854.0,361.2 854.8,360.7 855.6,362.0 856.4,361.1 857.2,361.1 858.0,361.4 858.8,361.2 859.6,361.3 860.4,362.1 861.2,361.5 862.0,361.8 862.8,361.9 863.6,361.0 864.4,362.2 865.2,361.7 866.0,361.8 866.8,361.0 867.6,361.8 868.4,361.6 869.2,361.2 870.0,362.4 870.8,361.7 871.6,361.3 872.4,361.5 873.2,361.8 874.0,361.9 874.8,361.6 875.6,361.9 876.4,362.0 877.2,360.8 878.0,361.1 878.8,360.9 879.6,361.3 880.4,361.9 881.2,361.5 882.0,360.7 882.8,360.9 883.6,361.2 884.4,360.1 885.2,359.5 886.0,358.6 886.4,357.0 886.8,357.6 887.6,356.5 888.0,356.2 888.4,355.9 889.2,356.9 889.6,357.5 890.0,358.6 890.8,359.6 891.6,360.4 892.4,361.6 893.2,361.6 894.0,360.8 894.8,360.9 895.6,362.0 896.4,361.2 897.2,362.0 898.0,362.1 898.8,361.1 899.6,361.3 900.4,361.4 901.2,361.0 902.0,361.0 902.8,361.2 903.6,361.8 904.4,361.2 905.2,361.3 906.0,361.2 906.8,360.8 907.6,362.1 908.4,360.4 909.2,361.1 910.0,361.7 910.8,360.8 911.6,361.7 912.4,362.0 913.2,361.1 914.0,361.5 914.8,360.9 915.6,361.7 916.4,361.5 917.2,361.5 918.0,362.1 918.8,361.7 919.6,362.1 920.4,361.7 921.2,360.9 922.0,361.6 922.8,361.7 923.6,360.8 924.4,362.0 925.2,361.5 926.0,361.6 926.8,361.0 927.6,361.5 928.4,361.6 929.2,361.3 930.0,361.5 930.8,360.5 931.6,362.1 932.4,360.9 933.2,360.5 934.0,361.0 934.8,361.1 935.6,361.7 936.4,361.0 937.2,361.6 938.0,361.0 938.8,362.4 939.6,361.7 940.4,362.3 941.2,361.0 942.0,361.7 942.8,361.0 943.6,361.7 944.4,361.7 945.2,360.7 946.0,360.9 946.8,360.9 947.6,360.8 948.4,361.1 949.2,361.0 950.0,360.8 950.8,361.5 951.6,361.7 952.4,360.8 953.2,361.2 954.0,361.4 954.8,361.3 955.6,361.1 956.4,361.8 957.2,361.8 958.0,361.7 958.8,361.3 959.6,362.3 960.4,362.2 961.2,361.2 962.0,361.4 962.8,362.0 963.6,361.1 964.4,361.6 965.2,361.4 966.0,361.1 966.8,361.3 967.6,360.7 968.4,361.2 969.2,360.5 970.0,362.4 970.8,362.1 971.6,362.0 972.4,361.5 973.2,361.9 974.0,362.0 974.8,361.9 975.6,361.8 976.4,361.0 977.2,361.6 978.0,361.1 978.8,360.9 979.6,360.9 980.4,361.6 981.2,361.9 982.0,360.8 982.8,362.2 983.6,362.0 984.4,361.2 985.2,361.2 986.0,361.3 986.8,361.8 987.6,361.2 988.4,360.8 989.2,361.5 990.0,360.4 990.8,361.4 991.6,361.8 992.4,361.4 993.2,361.6 994.0,361.4 994.8,361.5 995.6,361.1 996.4,360.6 997.2,360.7 998.0,360.6 998.8,361.0 999.6,360.8 1000.4,360.0 1001.0,359.2 1001.2,359.1 1002.0,359.0 1002.8,359.4 1003.6,358.8 1003.8,358.7 1004.4,358.4 1005.2,359.4 1006.0,359.4 1006.5,359.5 1006.8,359.7 1007.6,360.7 1008.4,360.2 1009.2,361.3 1010.0,361.3 1010.8,360.9 1011.6,361.4 1012.4,361.1 1013.2,360.8 1014.0,361.1 1014.8,360.8 1015.6,361.5 1016.4,361.3 1017.2,361.5 1018.0,361.7 1018.8,359.9 1019.6,361.5 1020.4,360.5 1021.2,361.4 1022.0,360.9 1022.8,361.4 1023.6,361.9 1024.4,360.6 1025.2,361.4 1026.0,361.3 1026.8,360.5 1027.6,361.6 1028.4,361.4 1029.2,361.1 1030.0,361.0 1030.8,362.8 1031.6,361.2 1032.4,360.5 1033.2,360.9 1034.0,361.2 1034.8,361.2 1035.6,361.3 1036.4,360.9 1037.2,361.6 1038.0,361.1 1038.8,360.7 1039.6,360.9 1040.4,361.1 1041.2,361.7 1042.0,361.5 1042.8,361.1 1043.6,361.2 1044.4,361.3 1045.2,362.0 1046.0,360.7 1046.8,361.0 1047.6,360.9 1047.9,360.1 1048.4,360.5 1049.2,360.3 1050.0,360.2 1050.8,360.5 1051.6,360.9 1052.1,361.0 1052.4,360.5 1053.2,360.9 1054.0,362.0 1054.8,360.6 1055.6,361.2 1056.4,361.6 1057.2,361.3 1058.0,361.5 1058.8,361.3 1059.6,361.6 1060.4,361.8 1061.2,361.1 1062.0,361.3 1062.8,361.1 1063.6,360.9 1064.4,361.0 1065.2,360.3 1066.0,360.9 1066.8,360.8 1067.6,360.2 1068.2,359.4 1068.4,358.2 1069.2,358.6 1070.0,357.7 1070.8,357.9 1071.6,359.5 1071.8,358.3 1072.4,359.8 1073.2,360.2 1074.0,360.5 1074.8,360.4 1075.6,361.2 1076.4,360.9 1077.2,361.6 1078.0,361.7 1078.8,360.6 1079.6,361.0 1080.4,361.1 1081.2,360.7 1082.0,360.7 1082.8,361.3 1083.6,361.2 1084.4,360.5 1085.2,361.0 1086.0,361.5 1086.8,360.7 1087.6,360.8 1088.4,362.0 1089.2,361.8 1090.0,360.5 1090.8,360.6 1091.6,361.3 1092.4,360.5 1093.2,360.7 1094.0,360.3 1094.8,360.3 1095.2,358.7 1095.6,358.6 1096.4,358.7 1097.0,359.2 1097.2,359.1 1098.0,358.7 1098.8,360.1 1098.8,360.2 1099.6,360.2 1100.4,360.5 1101.2,361.1 1102.0,361.6 1102.8,361.2 1103.6,361.4 1104.4,361.2 1105.2,361.1 1106.0,360.8 1106.8,361.4 1107.6,361.1 1108.4,361.2 1109.2,361.7 1110.0,361.5 1110.8,361.7 1111.6,360.6 1112.4,361.6 1113.2,361.0 1114.0,360.9 1114.8,360.9 1115.6,361.9 1116.4,361.7 1117.2,361.0 1118.0,360.8 1118.8,361.3 1119.6,361.1 1120.4,362.1 1121.2,360.7 1122.0,360.5 1122.8,361.2 1123.6,361.3 1124.4,361.4 1125.2,361.7 1126.0,362.2 1126.8,361.2 1127.6,361.1 1128.4,360.5 1129.2,361.4 1130.0,361.7 1130.8,361.2 1131.6,361.8 1132.4,361.3 1133.2,362.0 1134.0,361.5 1134.8,360.8 1135.6,361.0 1136.4,360.6 1137.2,360.5 1138.0,361.4 1138.8,361.7 1139.6,362.2 1140.4,361.3 1141.2,361.2 1142.0,360.8 1142.8,361.8 1143.6,361.5 1144.4,361.0 1145.2,361.6 1146.0,361.6 1146.8,360.5 1147.6,361.6 1148.4,361.4 1149.2,361.1 1150.0,361.1 1150.8,362.1 1151.6,362.0 1152.4,362.1 1153.2,360.8 1154.0,361.0 1154.8,361.7 1155.6,360.8 1156.4,361.0 1157.2,360.5 1158.0,362.1 1158.8,361.8 1159.6,361.5 1160.4,361.4 1161.2,361.1 1162.0,361.1 1162.8,361.6 1163.6,361.0 1164.4,361.9 1165.2,361.1 1166.0,360.9 1166.8,361.9 1167.6,361.2 1168.4,361.5 1169.2,361.1 1170.0,360.3 1170.8,361.5 1171.6,360.7 1172.4,361.8" fill="none" stroke="#ff00ff" stroke-width="3.4" stroke-linejoin="round"/>
<polyline points="122.0,208.8 122.8,208.6 123.6,209.6 124.4,209.6 125.2,209.5 126.0,208.9 126.8,209.8 127.6,208.7 128.4,209.1 129.2,209.0 130.0,209.1 130.8,209.7 131.6,209.0 132.4,209.5 133.2,209.6 134.0,208.5 134.8,208.7 135.6,209.0 136.4,208.9 137.2,209.3 138.0,208.3 138.8,209.4 139.6,209.4 140.4,209.0 141.2,208.4 142.0,209.1 142.8,208.8 143.6,209.3 144.4,209.0 145.2,209.3 146.0,208.8 146.8,209.6 147.6,207.9 148.4,208.4 149.2,209.1 150.0,208.2 150.8,209.2 151.6,208.3 152.4,208.9 153.2,208.4 154.0,208.6 154.8,208.8 155.6,208.7 156.4,208.6 157.2,209.7 158.0,208.7 158.8,208.2 159.6,209.1 160.4,209.0 161.2,209.2 162.0,209.4 162.8,208.2 163.6,209.0 164.4,209.1 165.2,208.5 166.0,208.6 166.8,207.1 167.6,208.2 168.4,209.3 169.2,207.6 170.0,208.2 170.8,208.5 171.6,208.6 172.4,209.1 173.2,207.6 174.0,208.4 174.8,208.7 175.6,207.7 176.4,208.3 177.2,209.1 178.0,208.8 178.8,208.5 179.6,207.0 180.4,208.1 181.2,208.3 182.0,208.0 182.8,208.1 183.6,209.5 184.4,208.0 185.2,207.6 186.0,208.2 186.8,207.9 187.6,207.9 188.4,208.0 189.2,208.3 190.0,208.1 190.8,207.4 191.6,207.9 192.4,208.1 193.2,207.7 194.0,208.4 194.8,208.2 195.6,207.4 196.4,208.0 197.2,208.7 198.0,208.5 198.8,207.7 199.6,208.2 200.4,207.4 201.2,207.1 202.0,207.9 202.8,207.8 203.6,207.9 204.4,207.6 205.2,207.8 206.0,207.4 206.8,207.8 207.6,207.9 208.4,207.5 209.2,207.9 210.0,206.7 210.8,207.1 211.6,208.1 212.4,208.2 213.2,207.5 214.0,207.4 214.8,206.8 215.6,207.5 216.4,207.7 217.2,206.6 218.0,207.5 218.8,207.5 219.6,207.4 220.4,206.7 221.2,207.4 222.0,206.5 222.8,207.8 223.6,207.1 224.4,206.5 225.2,207.6 226.0,207.5 226.8,206.7 227.6,207.9 228.4,206.4 229.2,206.9 230.0,207.1 230.8,205.4 231.6,206.5 232.4,205.5 233.2,203.4 234.0,188.8 234.8,135.9 235.1,105.8 235.6,67.9 235.8,64.2 236.4,96.2 236.5,107.0 237.2,168.2 238.0,199.0 238.8,204.8 239.6,205.9 240.4,206.7 241.2,207.0 242.0,206.6 242.8,206.7 243.6,207.0 244.4,207.4 245.2,207.4 246.0,206.9 246.8,206.2 247.6,208.2 248.4,207.6 249.2,207.4 250.0,207.4 250.8,207.0 251.6,206.8 252.4,207.2 253.2,207.2 254.0,207.0 254.8,206.7 255.6,207.2 256.4,207.6 257.2,207.1 258.0,207.4 258.8,206.5 259.6,207.3 260.4,207.3 261.2,206.9 262.0,206.6 262.8,207.6 263.6,207.1 264.4,207.7 265.2,207.3 266.0,207.7 266.8,207.3 267.6,206.8 268.4,207.4 269.2,207.3 270.0,207.8 270.8,207.3 271.6,207.3 272.4,207.9 273.2,208.0 274.0,207.9 274.8,208.0 275.6,207.7 276.4,207.9 277.2,207.9 278.0,207.7 278.8,207.6 279.6,207.6 280.4,208.6 281.2,207.6 282.0,207.5 282.8,207.4 283.6,207.6 284.4,207.7 285.2,207.1 286.0,206.7 286.8,207.7 287.6,206.9 288.4,207.7 289.2,207.7 290.0,208.1 290.8,208.4 291.6,207.8 292.4,207.4 293.2,207.1 294.0,207.3 294.8,207.7 295.6,206.7 296.4,207.7 297.2,207.7 298.0,208.0 298.8,207.5 299.6,207.7 300.4,207.4 301.2,207.5 302.0,206.9 302.8,207.8 303.6,208.4 304.4,207.8 305.2,207.9 306.0,207.3 306.8,208.4 307.6,207.4 308.4,208.1 309.2,207.8 310.0,207.3 310.8,208.2 311.6,207.7 312.4,207.8 313.2,207.9 314.0,207.7 314.8,207.6 315.6,207.9 316.4,207.6 317.2,207.8 318.0,207.4 318.8,207.1 319.6,207.4 320.4,207.5 321.2,207.8 322.0,208.3 322.8,207.0 323.6,207.8 324.4,206.8 325.2,207.3 326.0,207.5 326.8,206.8 327.6,206.9 328.4,207.8 329.2,207.8 330.0,207.7 330.8,207.4 331.6,208.8 332.4,207.7 333.2,207.4 334.0,208.6 334.8,208.1 335.6,207.6 336.4,208.3 337.2,207.9 338.0,208.1 338.8,207.9 339.6,207.3 340.4,208.3 341.2,207.9 342.0,207.4 342.8,207.5 343.6,208.3 344.4,207.7 345.2,207.9 346.0,208.1 346.8,207.9 347.6,207.1 348.4,208.1 349.2,208.3 350.0,208.2 350.8,208.6 351.6,208.0 352.4,208.2 353.2,208.6 354.0,207.7 354.8,208.6 355.6,208.6 356.4,208.2 357.2,208.7 358.0,208.3 358.8,207.5 359.6,208.4 360.4,208.0 361.2,208.1 362.0,207.9 362.8,208.5 363.6,208.1 364.4,207.6 365.2,208.1 366.0,208.2 366.8,207.6 367.6,207.7 368.4,207.7 369.2,207.6 370.0,208.1 370.8,208.4 371.6,208.8 372.4,208.4 373.2,208.4 374.0,208.4 374.8,208.5 375.6,207.7 376.4,208.2 377.2,208.1 378.0,207.9 378.8,207.7 379.6,207.7 380.4,207.8 381.2,207.4 382.0,208.2 382.8,207.9 383.6,208.0 384.4,208.1 385.2,208.3 386.0,207.7 386.8,207.9 387.6,207.2 388.4,207.0 389.2,207.1 390.0,208.7 390.8,207.1 391.6,208.2 392.4,208.6 393.2,207.8 394.0,208.7 394.8,208.8 395.6,208.4 396.4,209.0 397.2,208.3 398.0,207.7 398.8,208.2 399.6,207.8 400.4,207.4 401.2,207.4 402.0,209.0 402.8,207.7 403.6,208.0 404.4,207.7 405.2,208.1 406.0,207.9 406.8,207.8 407.6,207.4 408.4,207.4 409.2,207.7 410.0,208.1 410.8,208.9 411.6,208.5 412.4,208.8 413.2,208.2 414.0,208.0 414.8,207.4 415.6,208.0 416.4,207.0 417.2,207.9 418.0,208.7 418.8,208.1 419.6,208.5 420.4,207.8 421.2,207.4 422.0,207.8 422.8,207.8 423.6,208.5 424.4,208.9 425.2,207.7 426.0,207.8 426.8,207.9 427.6,207.8 428.4,207.4 429.2,208.0 430.0,208.1 430.8,208.2 431.6,207.4 432.4,207.9 433.2,207.2 434.0,208.4 434.8,207.5 435.6,207.9 436.4,207.8 437.2,207.7 438.0,207.5 438.8,207.2 439.6,208.8 440.4,208.1 441.2,208.1 442.0,208.9 442.8,207.9 443.6,208.2 444.4,208.0 445.2,208.5 446.0,208.2 446.8,208.1 447.6,207.8 448.4,208.1 449.2,208.5 450.0,207.0 450.8,207.9 451.6,207.7 452.4,207.8 453.2,207.0 454.0,208.2 454.8,207.5 455.6,207.8 456.4,207.7 457.2,207.1 458.0,207.7 458.8,207.0 459.6,207.4 460.4,207.6 461.2,207.7 462.0,207.7 462.8,207.6 463.6,208.6 464.4,207.7 465.2,206.8 466.0,207.0 466.8,206.7 467.6,206.5 468.4,205.5 469.2,203.4 470.0,199.6 470.8,190.2 470.9,188.2 471.6,181.2 472.0,179.7 472.4,181.9 473.1,188.6 473.2,190.7 474.0,197.4 474.8,203.9 475.6,206.3 476.4,207.5 477.2,207.0 478.0,206.4 478.8,207.6 479.6,207.2 480.4,206.7 481.2,207.2 482.0,208.0 482.8,208.1 483.6,207.8 484.4,206.8 485.2,207.9 486.0,205.3 486.4,205.0 486.8,203.8 487.5,203.9 487.6,204.1 488.4,205.1 488.6,205.0 489.2,205.9 490.0,206.7 490.8,205.7 491.6,206.1 492.4,203.9 492.9,201.2 493.2,200.4 494.0,198.5 494.8,201.1 495.1,201.6 495.6,203.6 496.4,205.6 497.2,206.3 498.0,207.1 498.8,207.6 499.6,207.5 500.4,207.8 501.2,208.1 502.0,208.0 502.8,208.0 503.6,208.2 504.4,208.0 505.2,207.9 506.0,208.1 506.8,207.1 507.6,208.5 508.4,207.3 509.2,208.3 510.0,207.9 510.8,208.4 511.6,208.0 512.4,207.5 513.2,208.4 514.0,208.0 514.8,208.0 515.6,208.0 516.4,208.4 517.2,208.3 518.0,208.1 518.8,207.3 519.6,207.8 520.4,208.0 521.2,208.8 522.0,208.1 522.8,207.9 523.6,208.5 524.4,207.9 525.2,208.0 526.0,208.0 526.8,207.3 527.6,208.4 528.4,208.2 529.2,207.8 530.0,207.4 530.8,208.1 531.6,208.6 532.4,207.7 533.2,207.5 534.0,208.1 534.8,207.2 535.6,207.0 536.4,207.7 537.2,207.6 538.0,207.8 538.8,207.7 539.6,208.1 540.4,207.8 541.2,207.7 542.0,207.7 542.8,208.2 543.6,208.4 544.4,208.3 545.2,208.2 546.0,206.4 546.8,207.4 547.6,207.8 548.4,208.0 549.2,207.1 550.0,208.5 550.8,208.0 551.6,207.6 552.4,207.9 553.2,207.7 554.0,207.5 554.8,208.0 555.6,207.6 556.4,207.1 557.2,207.4 558.0,207.6 558.8,207.2 559.6,208.2 560.4,207.1 561.2,208.3 562.0,207.8 562.8,206.9 563.6,207.3 564.4,207.6 565.2,206.8 566.0,206.1 566.8,206.4 567.6,206.7 568.4,204.5 569.2,204.1 570.0,200.8 570.8,194.0 571.6,180.9 572.3,164.5 572.4,162.9 573.2,147.3 573.5,145.4 574.0,150.4 574.7,164.1 574.8,167.6 575.6,185.0 576.4,196.8 577.2,202.0 578.0,204.7 578.8,205.3 579.6,206.4 580.4,206.6 581.2,207.7 582.0,206.6 582.8,207.6 583.6,207.5 584.4,207.4 585.2,207.2 586.0,207.7 586.8,206.9 587.6,207.0 588.4,208.0 589.2,207.0 590.0,208.4 590.8,207.6 591.6,207.9 592.4,207.8 593.2,208.0 594.0,207.7 594.8,207.7 595.6,207.8 596.4,208.3 597.2,208.4 598.0,208.5 598.8,208.1 599.6,207.8 600.4,207.1 601.2,208.2 602.0,208.3 602.8,207.7 603.6,208.3 604.4,208.5 605.2,208.0 606.0,208.4 606.8,208.1 607.6,207.2 608.4,207.7 609.2,207.8 610.0,208.2 610.8,207.5 611.6,207.7 612.4,207.5 613.2,207.9 614.0,208.0 614.8,208.4 615.6,208.3 616.4,208.0 617.2,208.0 618.0,207.9 618.8,207.9 619.6,208.5 620.4,206.7 621.2,207.7 622.0,207.9 622.8,208.2 623.6,207.1 624.4,207.5 625.2,207.2 626.0,205.7 626.8,203.6 627.4,203.1 627.6,202.2 628.4,201.7 628.8,201.2 629.2,202.3 630.0,203.0 630.1,202.9 630.8,204.5 631.6,205.6 632.4,207.1 633.2,208.0 634.0,207.5 634.8,208.1 635.6,207.3 636.4,208.0 637.2,208.9 638.0,207.2 638.8,208.4 639.6,208.4 640.4,207.1 641.2,207.3 642.0,207.5 642.8,208.4 643.6,207.8 644.4,207.9 645.2,208.3 646.0,208.0 646.8,208.1 647.6,207.8 648.4,208.5 649.2,207.6 650.0,208.7 650.8,207.8 651.6,207.6 652.4,208.3 653.2,208.2 654.0,207.1 654.8,208.1 655.6,207.4 656.4,207.6 657.2,208.4 658.0,207.6 658.8,208.2 659.6,207.8 660.4,208.9 661.2,208.0 662.0,207.5 662.8,207.5 663.6,207.6 664.4,208.1 665.2,208.0 666.0,208.4 666.8,208.1 667.6,208.1 668.4,208.2 669.2,208.0 670.0,208.1 670.8,208.4 671.6,208.4 672.4,207.8 673.2,207.2 674.0,207.6 674.8,208.1 675.6,206.9 676.4,207.8 677.2,208.2 678.0,207.8 678.8,207.5 679.6,208.8 680.4,208.6 681.2,207.9 682.0,208.6 682.8,208.6 683.6,207.5 684.4,209.2 685.2,207.6 686.0,207.9 686.8,207.5 687.6,208.0 688.4,207.4 689.2,208.0 690.0,208.5 690.8,208.1 691.6,207.9 692.4,208.7 693.2,207.6 694.0,208.4 694.8,207.9 695.6,208.1 696.4,208.0 697.2,208.1 698.0,208.0 698.8,207.7 699.6,207.8 700.4,208.2 701.2,208.0 702.0,207.5 702.8,207.7 703.6,207.7 704.4,208.0 705.2,208.1 706.0,208.0 706.8,207.7 707.6,208.0 708.4,207.4 709.2,206.7 710.0,208.0 710.8,207.3 711.6,207.6 712.4,207.5 713.2,208.3 714.0,207.5 714.8,208.1 715.6,207.8 716.4,207.4 717.2,207.3 718.0,208.2 718.8,208.2 719.6,208.3 720.4,208.8 721.2,208.1 722.0,208.1 722.8,207.9 723.6,208.0 724.4,207.8 725.2,207.6 726.0,208.9 726.8,207.1 727.6,208.1 728.4,208.2 729.2,208.0 730.0,207.5 730.8,207.9 731.6,207.8 732.4,207.5 733.2,208.0 734.0,207.8 734.8,207.7 735.6,208.3 736.4,207.5 737.2,208.2 738.0,207.7 738.8,208.1 739.6,208.0 740.4,208.1 741.2,207.5 742.0,207.6 742.8,207.6 743.6,208.0 744.4,208.3 745.2,208.4 746.0,207.7 746.8,207.9 747.6,207.2 748.4,206.9 749.2,207.5 750.0,207.5 750.8,207.1 751.6,207.0 752.4,207.9 753.2,207.3 754.0,206.7 754.8,208.3 755.6,206.8 756.4,205.8 757.2,205.0 757.9,202.9 758.0,203.8 758.8,201.0 759.5,201.2 759.6,201.1 760.4,201.7 761.1,203.9 761.2,202.8 762.0,204.7 762.8,206.3 763.6,207.1 764.4,207.8 765.2,207.7 766.0,208.6 766.8,207.5 767.6,207.8 768.4,208.2 769.2,207.7 770.0,207.7 770.8,207.6 771.6,207.6 772.4,207.4 773.2,207.6 774.0,207.2 774.8,208.1 775.6,207.2 776.4,208.8 777.2,208.7 778.0,208.4 778.8,207.8 779.6,207.7 780.4,208.5 781.2,208.0 782.0,208.2 782.8,207.6 783.6,208.4 784.4,207.6 785.2,208.0 786.0,207.2 786.8,207.6 787.6,208.2 788.4,207.7 789.2,207.7 790.0,208.3 790.8,207.9 791.6,208.5 792.4,206.9 793.2,208.2 794.0,208.2 794.8,207.2 795.6,207.4 796.4,208.3 797.2,207.5 798.0,207.7 798.8,208.2 799.6,207.8 800.4,208.1 801.2,207.5 802.0,208.1 802.8,208.4 803.6,208.1 804.4,206.9 805.2,208.2 806.0,208.0 806.8,207.5 807.6,208.5 808.4,207.1 809.2,208.8 810.0,207.6 810.8,208.6 811.6,207.9 812.4,207.3 813.2,207.9 814.0,208.0 814.8,208.1 815.6,208.4 816.4,207.5 817.2,208.1 818.0,208.2 818.8,207.7 819.6,207.4 820.4,207.4 821.2,208.1 822.0,208.2 822.8,207.4 823.6,207.1 824.4,208.3 825.2,207.0 826.0,207.7 826.8,207.2 827.6,206.7 828.4,207.4 829.2,207.1 830.0,207.4 830.8,207.1 831.6,204.5 832.4,202.7 833.1,200.1 833.2,199.0 834.0,196.2 834.5,196.0 834.8,196.0 835.6,198.3 835.9,199.3 836.4,201.3 837.2,203.5 838.0,205.5 838.8,206.2 839.6,205.1 840.4,203.4 841.2,201.9 841.6,199.9 842.0,199.1 842.8,198.3 843.0,197.7 843.6,198.5 844.4,200.3 845.2,203.7 846.0,204.2 846.8,206.1 847.6,207.7 848.4,207.6 849.2,206.8 850.0,206.8 850.8,208.0 851.6,207.6 852.4,207.4 853.2,207.9 854.0,207.5 854.8,206.9 855.6,208.2 856.4,207.5 857.2,207.4 858.0,207.2 858.8,208.0 859.6,207.5 860.4,208.1 861.2,207.8 862.0,208.4 862.8,207.7 863.6,207.6 864.4,207.0 865.2,207.4 866.0,208.2 866.8,209.3 867.6,207.3 868.4,207.4 869.2,208.0 870.0,208.1 870.8,207.6 871.6,207.9 872.4,207.2 873.2,207.7 874.0,208.3 874.8,208.6 875.6,207.8 876.4,207.7 877.2,208.0 878.0,208.3 878.8,208.0 879.6,207.4 880.4,207.9 881.2,208.1 882.0,207.2 882.8,206.6 883.6,206.9 884.4,206.0 885.2,205.2 885.4,204.5 886.0,203.3 886.8,202.7 887.0,202.9 887.6,202.8 888.4,203.9 888.6,204.2 889.2,205.9 890.0,205.8 890.8,207.0 891.6,207.1 892.4,208.2 893.2,207.8 894.0,207.6 894.8,208.2 895.6,207.8 896.4,207.6 897.2,208.5 898.0,208.2 898.8,208.7 899.6,208.4 900.4,208.2 901.2,208.0 902.0,207.4 902.8,208.2 903.6,208.0 904.4,208.2 905.2,207.9 906.0,207.6 906.8,207.5 907.6,208.3 908.4,208.5 909.2,207.8 910.0,208.1 910.8,208.6 911.6,207.6 912.4,207.8 913.2,207.5 914.0,208.5 914.8,208.1 915.6,207.7 916.4,207.2 917.2,207.9 918.0,208.4 918.8,207.8 919.6,207.8 920.4,208.2 921.2,207.4 922.0,208.0 922.8,208.2 923.6,207.6 924.4,207.6 925.2,208.1 926.0,207.9 926.8,207.9 927.6,208.1 928.4,208.1 929.2,207.6 930.0,207.7 930.8,208.2 931.6,208.5 932.4,208.6 933.2,207.6 934.0,208.5 934.8,208.3 935.6,208.0 936.4,208.2 937.2,208.3 938.0,208.8 938.8,207.5 939.6,208.2 940.4,207.9 941.2,207.9 942.0,208.5 942.8,208.3 943.6,207.5 944.4,207.8 945.2,208.1 946.0,207.3 946.8,208.4 947.6,207.9 948.4,208.0 949.2,208.1 950.0,208.8 950.8,208.0 951.6,207.8 952.4,208.7 953.2,207.7 954.0,207.7 954.8,207.4 955.6,208.5 956.4,208.1 957.2,208.2 958.0,208.0 958.8,207.9 959.6,207.6 960.4,207.6 961.2,208.2 962.0,208.0 962.8,208.7 963.6,207.6 964.4,207.8 965.2,207.5 966.0,208.6 966.8,207.4 967.6,208.3 968.4,208.6 969.2,207.9 970.0,208.3 970.8,207.0 971.6,207.8 972.4,207.2 973.2,208.0 974.0,208.0 974.8,207.6 975.6,208.4 976.4,208.1 977.2,207.7 978.0,207.7 978.8,207.3 979.6,207.9 980.4,208.9 981.2,207.6 982.0,208.1 982.8,207.7 983.6,208.3 984.4,208.1 985.2,207.8 986.0,207.1 986.8,207.7 987.6,208.5 988.4,207.8 989.2,208.2 990.0,207.7 990.8,207.1 991.6,208.1 992.4,208.0 993.2,207.6 994.0,207.6 994.8,207.9 995.6,207.4 996.4,207.8 997.2,207.4 998.0,206.3 998.8,207.0 999.6,206.6 1000.2,206.3 1000.4,206.8 1001.2,206.2 1002.0,206.5 1002.8,206.6 1003.0,206.1 1003.6,205.5 1004.4,206.0 1005.2,206.9 1005.8,206.5 1006.0,206.3 1006.8,206.8 1007.6,207.2 1008.4,207.2 1009.2,207.4 1010.0,206.6 1010.8,206.7 1010.9,206.7 1011.6,206.7 1012.4,205.6 1013.0,206.6 1013.2,206.0 1014.0,207.3 1014.8,207.6 1015.1,207.7 1015.6,207.5 1016.4,207.2 1017.2,208.0 1018.0,207.6 1018.8,208.0 1019.6,207.4 1020.4,207.6 1021.2,208.1 1022.0,208.7 1022.8,207.9 1023.6,208.9 1024.4,209.1 1025.2,207.4 1026.0,207.9 1026.8,207.5 1027.6,207.9 1028.4,207.7 1029.2,207.9 1030.0,208.4 1030.8,208.4 1031.6,208.1 1032.4,208.0 1033.2,208.0 1034.0,208.0 1034.8,208.2 1035.6,208.0 1036.4,208.2 1037.2,207.4 1038.0,208.3 1038.8,208.7 1039.6,208.0 1040.4,207.3 1041.2,208.6 1042.0,207.8 1042.8,206.6 1043.6,207.9 1044.4,208.2 1045.2,208.1 1046.0,208.5 1046.8,208.2 1047.6,208.0 1048.4,207.1 1049.2,207.5 1050.0,208.0 1050.8,208.3 1051.6,207.5 1052.4,207.7 1053.2,208.2 1054.0,207.1 1054.8,207.1 1055.6,207.8 1056.4,208.0 1057.2,207.7 1058.0,206.9 1058.8,207.9 1059.6,207.3 1060.4,208.2 1061.2,207.8 1062.0,207.9 1062.8,208.0 1063.6,207.4 1064.4,207.9 1065.2,207.7 1066.0,206.9 1066.8,206.8 1067.0,205.8 1067.6,206.0 1068.4,205.3 1068.8,205.2 1069.2,205.2 1070.0,205.4 1070.5,205.8 1070.8,206.3 1071.6,207.3 1072.4,207.1 1073.2,207.6 1074.0,207.0 1074.8,207.8 1075.6,208.3 1076.4,208.2 1077.2,208.1 1078.0,207.7 1078.8,207.5 1079.6,207.9 1080.4,207.3 1081.2,207.4 1082.0,208.3 1082.8,207.5 1083.6,208.7 1084.4,207.3 1085.2,208.1 1086.0,207.4 1086.8,208.0 1087.6,207.5 1088.4,207.9 1089.2,207.8 1090.0,207.7 1090.8,208.1 1091.6,208.4 1092.4,207.4 1093.2,207.8 1094.0,207.2 1094.2,207.1 1094.8,207.9 1095.6,205.7 1096.0,206.7 1096.4,205.9 1097.2,206.8 1097.8,207.0 1098.0,208.9 1098.8,207.6 1099.6,208.4 1100.4,208.3 1101.2,207.6 1102.0,208.1 1102.8,208.7 1103.6,208.0 1104.4,208.0 1105.2,208.2 1106.0,207.3 1106.8,207.6 1107.6,208.1 1108.4,208.2 1109.2,207.6 1110.0,207.8 1110.8,207.9 1111.6,207.9 1112.4,208.3 1113.2,208.0 1114.0,208.1 1114.8,207.3 1115.6,207.5 1116.4,208.1 1117.2,207.3 1118.0,208.1 1118.8,207.7 1119.6,207.6 1120.4,208.3 1121.2,207.7 1122.0,207.6 1122.8,207.7 1123.6,208.0 1124.4,209.2 1125.2,207.0 1126.0,208.0 1126.8,207.9 1127.6,208.4 1128.4,207.8 1129.2,206.9 1130.0,208.6 1130.8,207.5 1131.6,208.0 1132.4,207.4 1133.2,207.5 1134.0,207.8 1134.8,208.4 1135.6,208.4 1136.4,207.7 1137.2,208.2 1138.0,207.8 1138.8,208.0 1139.6,208.1 1140.4,208.3 1141.2,207.7 1142.0,207.9 1142.8,208.1 1143.6,208.0 1144.4,207.6 1145.2,208.8 1146.0,207.8 1146.8,208.3 1147.6,208.1 1148.4,208.5 1149.2,207.0 1150.0,208.9 1150.8,207.9 1151.6,207.4 1152.4,208.0 1153.2,209.0 1154.0,208.2 1154.8,207.4 1155.6,207.8 1156.4,208.6 1157.2,207.4 1158.0,207.9 1158.8,207.9 1159.6,209.0 1160.4,207.9 1161.2,208.6 1162.0,207.7 1162.8,207.6 1163.6,208.4 1164.4,208.3 1165.2,207.2 1166.0,208.3 1166.8,208.3 1167.6,207.7 1168.4,208.1 1169.2,208.1 1170.0,207.8 1170.8,207.7 1171.6,207.7 1172.4,207.9" fill="none" stroke="#008000" stroke-width="3.4" stroke-linejoin="round"/>
<rect x="122.5" y="22.2" width="1050.0" height="771.0" fill="none" stroke="#000" stroke-width="3.4"/>
<line x1="253.4" y1="793.2" x2="253.4" y2="778.2" stroke="#000" stroke-width="3"/>
<line x1="384.7" y1="793.2" x2="384.7" y2="785.2" stroke="#000" stroke-width="3"/>
<line x1="516.0" y1="793.2" x2="516.0" y2="778.2" stroke="#000" stroke-width="3"/>
<line x1="647.3" y1="793.2" x2="647.3" y2="785.2" stroke="#000" stroke-width="3"/>
<line x1="778.6" y1="793.2" x2="778.6" y2="778.2" stroke="#000" stroke-width="3"/>
<line x1="909.9" y1="793.2" x2="909.9" y2="785.2" stroke="#000" stroke-width="3"/>
<line x1="1041.2" y1="793.2" x2="1041.2" y2="778.2" stroke="#000" stroke-width="3"/>
<text x="253.4" y="836" font-family="Liberation Sans, Arial, sans-serif" font-size="33" text-anchor="middle" fill="#000">20</text>
<text x="516.0" y="836" font-family="Liberation Sans, Arial, sans-serif" font-size="33" text-anchor="middle" fill="#000">40</text>
<text x="778.6" y="836" font-family="Liberation Sans, Arial, sans-serif" font-size="33" text-anchor="middle" fill="#000">60</text>
<text x="1041.2" y="836" font-family="Liberation Sans, Arial, sans-serif" font-size="33" text-anchor="middle" fill="#000">80</text>
<text x="565" y="907" font-family="Liberation Serif, Times New Roman, serif" font-size="41" fill="#000">2</text>
<text transform="translate(589.5,907) scale(1.17,1)" font-family="Liberation Serif, Times New Roman, serif" font-size="41" font-style="italic" fill="#000">&#952;</text>
<text x="619.8" y="907" font-family="Liberation Serif, Times New Roman, serif" font-size="41" fill="#000">/(deg.)</text>
<text transform="translate(45,563) rotate(-90)" font-family="Liberation Serif, Times New Roman, serif" font-size="42" fill="#000">Intensity /(a.u.)</text>
<text x="32" y="89" font-family="Liberation Serif, Times New Roman, serif" font-size="46" font-weight="bold" fill="#000">(a)</text>
<text x="1310" y="89" font-family="Liberation Serif, Times New Roman, serif" font-size="46" font-weight="bold" fill="#000">(b)</text>
<text transform="translate(222.8,118.3) rotate(-90)" font-family="Liberation Serif, Times New Roman, serif" font-size="34.5" fill="#000">(003)</text>
<text transform="translate(453.6,187.1) rotate(-90)" font-family="Liberation Serif, Times New Roman, serif" font-size="34.5" fill="#000">(101)</text>
<text transform="translate(513.5,193.3) rotate(-90)" font-family="Liberation Serif, Times New Roman, serif" font-size="34.5" fill="#000">(006)/(012)</text>
<text transform="translate(586.3,140.75) rotate(-90)" font-family="Liberation Serif, Times New Roman, serif" font-size="34.5" fill="#000">(104)</text>
<text transform="translate(643.75,190.8) rotate(-90)" font-family="Liberation Serif, Times New Roman, serif" font-size="34.5" fill="#000">(015)</text>
<text transform="translate(768.7,192.1) rotate(-90)" font-family="Liberation Serif, Times New Roman, serif" font-size="34.5" fill="#000">(107)</text>
<text transform="translate(827.75,190.0) rotate(-90)" font-family="Liberation Serif, Times New Roman, serif" font-size="34.5" fill="#000">(018)</text>
<text transform="translate(867,189.5) rotate(-90)" font-family="Liberation Serif, Times New Roman, serif" font-size="34.5" fill="#000">(110)</text>
<text transform="translate(911.5,193.0) rotate(-90)" font-family="Liberation Serif, Times New Roman, serif" font-size="34.5" fill="#000">(113)</text>
<text x="282" y="129.6" font-family="Liberation Serif, Times New Roman, serif" font-size="30.3" fill="#000">Li<tspan font-size="16.5" dy="10.2">2</tspan><tspan dy="-10.2">MnO</tspan><tspan font-size="16.5" dy="10.2" dx="-1.5">3</tspan></text>
<line x1="322.3" y1="142.8" x2="297" y2="164" stroke="#333" stroke-width="1.2"/>
<polygon points="283.2,177 293.8,160.8 301.8,168.4" fill="#000"/>
<text x="942" y="148.7" font-family="Liberation Serif, Times New Roman, serif" font-size="34.2" fill="#000">nLMNCO-4.0</text>
<text x="939" y="315" font-family="Liberation Serif, Times New Roman, serif" font-size="34.2" fill="#000">nLMNCO-3.0</text>
<text x="939" y="456.3" font-family="Liberation Serif, Times New Roman, serif" font-size="34.2" fill="#000">nLMNCO-2.0</text>
<text x="937" y="600.5" font-family="Liberation Serif, Times New Roman, serif" font-size="34.2" fill="#000">nLMNCO-1.0</text>
<text x="972.6" y="731.4" font-family="Liberation Serif, Times New Roman, serif" font-size="34.2" fill="#000">LMNCO</text>
<polyline points="1436.6,706.2 1436.8,723.4 1436.9,721.6 1437.1,699.1 1437.2,701.8 1437.4,698.8 1437.6,713.0 1437.7,704.9 1437.9,715.3 1438.0,681.6 1438.2,725.9 1438.4,704.3 1438.5,714.4 1438.7,703.7 1438.8,700.5 1439.0,711.5 1439.2,716.1 1439.3,702.8 1439.5,703.4 1439.6,714.3 1439.8,694.0 1440.0,685.6 1440.1,710.4 1440.3,696.6 1440.4,680.3 1440.6,694.7 1440.8,699.1 1440.9,689.7 1441.1,685.8 1441.2,705.6 1441.4,716.8 1441.6,702.1 1441.7,695.4 1441.9,710.1 1442.0,714.4 1442.2,701.1 1442.4,712.1 1442.5,718.5 1442.7,702.3 1442.8,694.4 1443.0,709.4 1443.2,708.1 1443.3,719.2 1443.5,688.2 1443.6,696.2 1443.8,693.9 1444.0,682.3 1444.1,706.4 1444.3,711.6 1444.4,695.1 1444.6,722.7 1444.8,715.4 1444.9,712.8 1445.1,709.9 1445.2,717.1 1445.4,687.3 1445.6,712.6 1445.7,712.4 1445.9,681.6 1446.0,709.0 1446.2,701.2 1446.4,714.6 1446.5,698.8 1446.7,704.2 1446.8,708.9 1447.0,693.0 1447.2,712.2 1447.3,703.0 1447.5,710.7 1447.6,697.5 1447.8,718.4 1448.0,712.1 1448.1,701.9 1448.3,712.4 1448.4,720.6 1448.6,727.5 1448.8,683.7 1448.9,715.6 1449.1,710.2 1449.2,702.9 1449.4,691.0 1449.6,720.4 1449.7,687.6 1449.9,711.4 1450.0,720.5 1450.2,681.0 1450.4,696.1 1450.5,681.3 1450.7,699.7 1450.8,714.4 1451.0,719.3 1451.2,668.1 1451.3,682.0 1451.5,696.9 1451.6,706.5 1451.8,689.7 1452.0,672.7 1452.1,684.5 1452.3,678.7 1452.4,674.5 1452.6,665.9 1452.8,678.7 1452.9,675.9 1453.1,668.9 1453.2,665.5 1453.4,649.9 1453.6,658.5 1453.7,678.8 1453.9,658.8 1454.0,640.4 1454.2,672.8 1454.4,658.7 1454.5,675.6 1454.7,645.3 1454.8,634.9 1455.0,618.4 1455.2,650.8 1455.3,663.3 1455.5,615.6 1455.6,614.2 1455.8,626.8 1456.0,604.6 1456.1,608.2 1456.3,603.5 1456.4,606.9 1456.6,615.0 1456.8,597.4 1456.9,605.4 1457.1,584.4 1457.2,590.5 1457.4,554.8 1457.6,560.1 1457.7,589.7 1457.9,573.4 1458.0,590.3 1458.2,591.6 1458.4,603.5 1458.5,598.6 1458.7,603.0 1458.8,590.0 1459.0,584.2 1459.2,585.5 1459.3,590.4 1459.5,583.8 1459.6,593.1 1459.8,600.7 1460.0,607.0 1460.1,601.0 1460.3,582.2 1460.4,608.0 1460.6,613.6 1460.8,626.5 1460.9,621.6 1461.1,607.2 1461.2,607.3 1461.4,643.9 1461.6,628.8 1461.7,643.8 1461.9,648.8 1462.0,611.6 1462.2,628.4 1462.4,630.5 1462.5,632.9 1462.7,633.8 1462.8,630.5 1463.0,631.3 1463.2,610.6 1463.3,629.1 1463.5,622.6 1463.6,635.1 1463.8,628.5 1464.0,643.8 1464.1,647.5 1464.3,642.0 1464.4,643.2 1464.6,641.4 1464.8,635.5 1464.9,640.3 1465.1,637.1 1465.2,649.7 1465.4,646.0 1465.6,654.5 1465.7,630.8 1465.9,660.7 1466.0,640.1 1466.2,640.6 1466.4,647.7 1466.5,643.1 1466.7,654.4 1466.8,643.2 1467.0,636.9 1467.2,640.0 1467.3,668.2 1467.5,651.8 1467.6,636.2 1467.8,651.6 1468.0,631.4 1468.1,675.0 1468.3,632.1 1468.4,658.3 1468.6,659.2 1468.8,633.4 1468.9,656.3 1469.1,665.5 1469.2,658.8 1469.4,656.2 1469.6,665.3 1469.7,655.2 1469.9,657.6 1470.0,651.7 1470.2,661.7 1470.4,641.4 1470.5,664.1 1470.7,647.3 1470.8,639.9 1471.0,658.9 1471.2,676.3 1471.3,666.9 1471.5,647.9 1471.6,663.8 1471.8,648.9 1472.0,653.4 1472.1,656.3 1472.3,625.1 1472.4,657.9 1472.6,642.1 1472.8,646.6 1472.9,636.6 1473.1,636.2 1473.2,643.8 1473.4,666.9 1473.6,678.0 1473.7,656.1 1473.9,670.8 1474.0,653.3 1474.2,632.0 1474.4,658.9 1474.5,662.9 1474.7,651.7 1474.8,661.3 1475.0,664.9 1475.2,646.4 1475.3,638.6 1475.5,655.0 1475.6,655.3 1475.8,653.6 1476.0,671.1 1476.1,680.9 1476.3,653.2 1476.4,667.8 1476.6,671.1 1476.8,668.2 1476.9,672.7 1477.1,654.2 1477.2,669.0 1477.4,685.8 1477.6,670.1 1477.7,651.7 1477.9,667.8 1478.0,676.3 1478.2,664.2 1478.4,651.6 1478.5,678.6 1478.7,641.8 1478.8,664.1 1479.0,656.9 1479.2,641.2 1479.3,672.1 1479.5,660.3 1479.6,640.1 1479.8,662.7 1480.0,648.8 1480.1,629.2 1480.3,644.5 1480.4,656.5 1480.6,660.8 1480.8,654.3 1480.9,652.2 1481.1,657.3 1481.2,648.0 1481.4,665.6 1481.6,651.8 1481.7,653.2 1481.9,655.9 1482.0,634.7 1482.2,638.8 1482.4,667.4 1482.5,651.4 1482.7,643.0 1482.8,650.6 1483.0,639.5 1483.2,648.9 1483.3,636.1 1483.5,647.9 1483.6,623.4 1483.8,660.7 1484.0,636.3 1484.1,622.0 1484.3,639.1 1484.4,636.8 1484.6,643.1 1484.8,625.8 1484.9,645.4 1485.1,687.6 1485.2,624.7 1485.4,646.6 1485.6,639.1 1485.7,646.5 1485.9,621.4 1486.0,630.9 1486.2,652.7 1486.4,647.1 1486.5,669.8 1486.7,640.2 1486.8,652.6 1487.0,689.1 1487.2,642.1 1487.3,641.2 1487.5,653.4 1487.6,654.2 1487.8,666.7 1488.0,658.3 1488.1,647.6 1488.3,661.1 1488.4,693.6 1488.6,676.7 1488.8,624.9 1488.9,660.1 1489.1,651.5 1489.2,671.8 1489.4,662.4 1489.6,690.7 1489.7,678.5 1489.9,678.9 1490.0,670.5 1490.2,668.0 1490.4,673.5 1490.5,686.3 1490.7,676.9 1490.8,665.8 1491.0,687.4 1491.2,673.8 1491.3,670.8 1491.5,661.9 1491.6,665.3 1491.8,664.9 1492.0,637.3 1492.1,687.3 1492.3,681.9 1492.4,672.2 1492.6,689.0 1492.8,681.6 1492.9,681.2 1493.1,644.6 1493.2,674.2 1493.4,684.6 1493.6,699.1 1493.7,702.6 1493.9,697.6 1494.0,664.4 1494.2,651.4 1494.4,687.9 1494.5,681.3 1494.7,693.9 1494.8,680.2 1495.0,685.1 1495.2,663.2 1495.3,689.0 1495.5,677.9 1495.6,688.7 1495.8,690.5 1496.0,683.5 1496.1,689.6 1496.3,685.8 1496.4,696.3 1496.6,693.4 1496.8,680.2 1496.9,680.1 1497.1,710.7 1497.2,686.8 1497.4,701.2 1497.6,693.5 1497.7,681.2 1497.9,678.9 1498.0,690.3 1498.2,692.2 1498.4,696.9 1498.5,672.6 1498.7,681.4 1498.8,688.0 1499.0,710.2 1499.2,658.8 1499.3,695.3 1499.5,682.7 1499.6,695.4 1499.8,683.5 1500.0,694.8 1500.1,710.5 1500.3,694.9 1500.4,696.0 1500.6,695.3 1500.8,680.8 1500.9,697.8 1501.1,688.1 1501.2,680.4 1501.4,690.5 1501.6,688.2 1501.7,701.1 1501.9,690.8 1502.0,684.6 1502.2,710.5 1502.4,704.6 1502.5,708.3 1502.7,699.8 1502.8,690.6 1503.0,686.7 1503.2,688.6 1503.3,704.7 1503.5,693.9 1503.6,673.3 1503.8,692.2 1504.0,674.4 1504.1,695.1 1504.3,677.4 1504.4,676.7 1504.6,694.8 1504.8,692.4 1504.9,671.9 1505.1,703.3 1505.2,721.8 1505.4,674.6 1505.6,717.6 1505.7,685.1 1505.9,687.7 1506.0,691.9 1506.2,675.6 1506.4,711.4 1506.5,701.0 1506.7,684.9 1506.8,691.2 1507.0,675.2 1507.2,690.5 1507.3,707.3 1507.5,673.0 1507.6,689.7 1507.8,697.4 1508.0,709.2 1508.1,713.2 1508.3,689.9 1508.4,686.3 1508.6,701.9 1508.8,691.4 1508.9,692.2 1509.1,710.4 1509.2,718.4 1509.4,700.0 1509.6,694.2 1509.7,704.2 1509.9,672.4 1510.0,696.8 1510.2,683.2 1510.4,728.1 1510.5,706.4 1510.7,698.8 1510.8,694.5 1511.0,664.3 1511.2,706.3 1511.3,718.2 1511.5,687.5 1511.6,705.9 1511.8,706.4 1512.0,676.9 1512.1,709.2 1512.3,714.6 1512.4,700.0 1512.6,696.2 1512.8,707.2 1512.9,677.0 1513.1,698.2 1513.2,710.7 1513.4,680.8 1513.6,709.9 1513.7,691.6 1513.9,669.9 1514.0,695.6 1514.2,684.4 1514.4,701.2 1514.5,681.8 1514.7,710.7 1514.8,687.4 1515.0,701.6 1515.2,689.3 1515.3,692.8 1515.5,712.5 1515.6,699.8 1515.8,691.9 1516.0,680.7 1516.1,712.1 1516.3,706.5 1516.4,692.8 1516.6,700.2 1516.8,683.6 1516.9,683.8 1517.1,686.3 1517.2,701.6 1517.4,700.8 1517.6,687.3 1517.7,706.6 1517.9,707.2 1518.0,699.2 1518.2,710.5 1518.4,693.3 1518.5,695.5 1518.7,703.1 1518.8,696.6 1519.0,707.3 1519.2,680.7 1519.3,715.5 1519.5,686.8 1519.6,694.9 1519.8,679.1 1520.0,704.8 1520.1,713.6 1520.3,710.9 1520.4,707.8 1520.6,676.8 1520.8,686.8 1520.9,691.0 1521.1,684.8 1521.2,711.6 1521.4,699.4 1521.6,696.7 1521.7,703.3 1521.9,684.6 1522.0,685.2 1522.2,685.5 1522.4,703.5 1522.5,701.4 1522.7,704.5 1522.8,711.0 1523.0,679.4 1523.2,689.7 1523.3,698.9 1523.5,679.5 1523.6,690.1 1523.8,710.2 1524.0,711.3 1524.1,711.0 1524.3,697.6 1524.4,694.2 1524.6,711.0 1524.8,692.2 1524.9,701.4 1525.1,714.2 1525.2,692.2 1525.4,689.1 1525.6,696.9 1525.7,704.8 1525.9,703.3 1526.0,699.0 1526.2,704.2 1526.4,676.2 1526.5,685.8 1526.7,699.1 1526.8,684.9 1527.0,679.6 1527.2,681.3 1527.3,685.1 1527.5,694.7 1527.6,683.7 1527.8,700.1 1528.0,719.1 1528.1,695.1 1528.3,713.6 1528.4,700.7 1528.6,682.4 1528.8,693.7 1528.9,684.2 1529.1,707.0 1529.2,682.0 1529.4,714.2 1529.6,704.5 1529.7,670.7 1529.9,707.2 1530.0,717.2 1530.2,686.7 1530.4,709.8 1530.5,673.6 1530.7,700.3 1530.8,675.4 1531.0,703.3 1531.2,673.8 1531.3,662.8 1531.5,702.1 1531.6,726.7 1531.8,689.3 1532.0,707.8 1532.1,698.4 1532.3,692.8 1532.4,705.0 1532.6,718.4 1532.8,680.9 1532.9,704.3 1533.1,701.5 1533.2,678.5 1533.4,718.0 1533.6,722.3 1533.7,684.6 1533.9,719.6 1534.0,697.7 1534.2,694.9 1534.4,716.5 1534.5,700.0 1534.7,701.2 1534.8,716.7 1535.0,713.7 1535.2,708.6 1535.3,678.8 1535.5,676.6 1535.6,711.6 1535.8,685.0 1536.0,698.9 1536.1,683.0 1536.3,694.6 1536.4,680.4 1536.6,718.2 1536.8,683.8 1536.9,695.4 1537.1,694.6 1537.2,712.7 1537.4,678.5 1537.6,696.6 1537.7,694.3 1537.9,703.9 1538.0,703.1 1538.2,691.0 1538.4,700.1 1538.5,692.1 1538.7,703.1 1538.8,695.7 1539.0,688.5 1539.2,696.6 1539.3,701.7 1539.5,726.5 1539.6,690.6 1539.8,701.0 1540.0,716.0 1540.1,670.0 1540.3,674.3 1540.4,681.5 1540.6,695.5 1540.8,728.7 1540.9,702.1 1541.1,712.7 1541.2,694.1 1541.4,665.0 1541.6,666.9 1541.7,710.2 1541.9,699.4 1542.0,680.1 1542.2,711.5 1542.4,677.0 1542.5,711.7 1542.7,715.9 1542.8,687.1 1543.0,682.6 1543.2,708.0 1543.3,682.8 1543.5,708.2 1543.6,681.5 1543.8,707.5 1544.0,698.2 1544.1,691.4 1544.3,685.4 1544.4,700.1 1544.6,672.4 1544.8,693.4 1544.9,691.8 1545.1,705.8 1545.2,680.7 1545.4,719.3 1545.6,692.9 1545.7,682.2 1545.9,715.0 1546.0,718.6 1546.2,694.6 1546.4,685.4 1546.5,697.2 1546.7,688.0 1546.8,692.9 1547.0,717.3 1547.2,702.1 1547.3,698.9 1547.5,701.5 1547.6,696.2 1547.8,707.9 1548.0,708.4 1548.1,692.2 1548.3,698.4 1548.4,728.4 1548.6,702.5 1548.8,694.6 1548.9,723.6 1549.1,697.1 1549.2,682.7 1549.4,705.8 1549.6,685.3 1549.7,690.5 1549.9,701.2 1550.0,695.4 1550.2,687.1 1550.4,689.8 1550.5,689.3 1550.7,712.2 1550.8,687.6 1551.0,689.6 1551.2,723.5 1551.3,689.8 1551.5,716.4 1551.6,714.1 1551.8,695.0 1552.0,678.5 1552.1,702.9 1552.3,705.7 1552.4,709.6 1552.6,697.9 1552.8,712.7 1552.9,715.1 1553.1,683.3 1553.2,715.6 1553.4,699.3 1553.6,689.6 1553.7,692.9 1553.9,721.4 1554.0,709.8 1554.2,673.7 1554.4,698.1 1554.5,695.2 1554.7,694.7 1554.8,690.3 1555.0,678.1 1555.2,708.2 1555.3,684.8 1555.5,692.2 1555.6,689.2 1555.8,687.5 1556.0,706.7 1556.1,702.0 1556.3,688.2 1556.4,684.7 1556.6,690.9 1556.8,709.6 1556.9,698.6 1557.1,700.0 1557.2,692.7 1557.4,693.6 1557.6,699.8 1557.7,673.0 1557.9,718.0 1558.0,686.8 1558.2,689.6 1558.4,714.4 1558.5,699.9 1558.7,697.5 1558.8,689.4 1559.0,676.7 1559.2,699.4 1559.3,712.5 1559.5,685.3 1559.6,714.7 1559.8,682.3 1560.0,687.5 1560.1,703.6 1560.3,697.0 1560.4,706.0 1560.6,687.4 1560.8,683.6 1560.9,672.7 1561.1,681.4 1561.2,683.0 1561.4,678.4 1561.6,701.0 1561.7,688.4 1561.9,671.2 1562.0,729.3 1562.2,686.1 1562.4,680.7 1562.5,713.1 1562.7,712.2 1562.8,682.0 1563.0,677.8 1563.2,684.0 1563.3,711.7 1563.5,693.0 1563.6,686.5 1563.8,696.6 1564.0,712.7 1564.1,678.9 1564.3,692.0 1564.4,679.0 1564.6,725.2 1564.8,720.6 1564.9,709.4 1565.1,695.3 1565.2,705.6 1565.4,669.7 1565.6,700.6 1565.7,679.6 1565.9,679.8 1566.0,687.8 1566.2,692.4 1566.4,704.5 1566.5,706.1 1566.7,700.4 1566.8,684.7 1567.0,705.8 1567.2,695.4 1567.3,712.3 1567.5,685.1 1567.6,661.1 1567.8,690.8 1568.0,725.0 1568.1,703.1 1568.3,694.5 1568.4,708.5 1568.6,703.5 1568.8,703.0 1568.9,690.3 1569.1,698.0 1569.2,699.6 1569.4,688.6 1569.6,682.5 1569.7,698.8 1569.9,709.6 1570.0,705.4 1570.2,703.4 1570.4,703.6 1570.5,730.6 1570.7,700.4 1570.8,710.5 1571.0,722.4 1571.2,697.7 1571.3,700.4 1571.5,710.6 1571.6,718.9 1571.8,701.1 1572.0,701.7 1572.1,698.2 1572.3,681.3" fill="none" stroke="#000000" stroke-width="1.2" stroke-linejoin="miter" stroke-miterlimit="2"/>
<polyline points="1436.6,531.4 1436.8,548.2 1436.9,543.3 1437.1,543.0 1437.2,557.3 1437.4,512.0 1437.6,521.2 1437.7,510.1 1437.9,529.5 1438.0,547.1 1438.2,530.8 1438.4,539.0 1438.5,500.4 1438.7,533.3 1438.8,516.4 1439.0,559.3 1439.2,545.0 1439.3,546.0 1439.5,529.8 1439.6,540.5 1439.8,541.2 1440.0,525.1 1440.1,522.6 1440.3,528.7 1440.4,520.8 1440.6,521.0 1440.8,525.9 1440.9,518.7 1441.1,542.6 1441.2,504.8 1441.4,543.4 1441.6,520.2 1441.7,521.4 1441.9,508.5 1442.0,527.8 1442.2,526.1 1442.4,533.1 1442.5,521.4 1442.7,531.4 1442.8,559.0 1443.0,536.4 1443.2,520.6 1443.3,545.0 1443.5,527.7 1443.6,539.2 1443.8,539.4 1444.0,523.3 1444.1,498.7 1444.3,523.9 1444.4,538.3 1444.6,523.3 1444.8,536.4 1444.9,545.0 1445.1,520.6 1445.2,549.0 1445.4,555.2 1445.6,546.4 1445.7,547.8 1445.9,546.6 1446.0,565.1 1446.2,532.0 1446.4,529.0 1446.5,538.6 1446.7,514.3 1446.8,504.0 1447.0,514.7 1447.2,534.7 1447.3,536.3 1447.5,504.1 1447.6,498.5 1447.8,523.5 1448.0,525.5 1448.1,527.7 1448.3,539.2 1448.4,548.1 1448.6,532.1 1448.8,538.1 1448.9,510.8 1449.1,509.4 1449.2,532.0 1449.4,538.8 1449.6,539.7 1449.7,537.6 1449.9,540.6 1450.0,540.5 1450.2,497.8 1450.4,512.4 1450.5,529.7 1450.7,530.2 1450.8,494.8 1451.0,536.0 1451.2,508.5 1451.3,510.1 1451.5,516.5 1451.6,522.4 1451.8,485.7 1452.0,522.8 1452.1,506.4 1452.3,491.2 1452.4,497.4 1452.6,465.1 1452.8,488.0 1452.9,499.5 1453.1,483.5 1453.2,487.9 1453.4,489.1 1453.6,490.5 1453.7,504.3 1453.9,485.9 1454.0,480.1 1454.2,489.8 1454.4,511.4 1454.5,469.6 1454.7,480.3 1454.8,443.8 1455.0,487.5 1455.2,473.5 1455.3,481.2 1455.5,455.9 1455.6,437.2 1455.8,465.0 1456.0,459.8 1456.1,430.8 1456.3,418.1 1456.4,445.8 1456.6,432.9 1456.8,474.4 1456.9,419.7 1457.1,420.3 1457.2,428.4 1457.4,405.1 1457.6,419.0 1457.7,461.0 1457.9,434.0 1458.0,427.9 1458.2,418.7 1458.4,449.9 1458.5,452.6 1458.7,447.6 1458.8,438.8 1459.0,451.4 1459.2,454.1 1459.3,438.6 1459.5,460.9 1459.6,418.6 1459.8,433.3 1460.0,450.5 1460.1,455.1 1460.3,439.7 1460.4,465.1 1460.6,478.2 1460.8,470.0 1460.9,467.9 1461.1,478.8 1461.2,473.1 1461.4,449.4 1461.6,465.5 1461.7,490.4 1461.9,452.6 1462.0,472.9 1462.2,466.7 1462.4,459.6 1462.5,458.8 1462.7,477.7 1462.8,482.2 1463.0,483.1 1463.2,456.1 1463.3,475.7 1463.5,486.9 1463.6,497.6 1463.8,494.2 1464.0,497.8 1464.1,503.1 1464.3,499.8 1464.4,474.7 1464.6,489.7 1464.8,478.4 1464.9,452.8 1465.1,465.0 1465.2,526.4 1465.4,476.2 1465.6,459.2 1465.7,486.8 1465.9,521.5 1466.0,497.3 1466.2,504.8 1466.4,494.1 1466.5,497.3 1466.7,519.1 1466.8,511.7 1467.0,497.8 1467.2,513.7 1467.3,516.8 1467.5,496.3 1467.6,504.3 1467.8,504.2 1468.0,489.7 1468.1,519.0 1468.3,498.1 1468.4,491.0 1468.6,474.3 1468.8,481.1 1468.9,525.9 1469.1,483.5 1469.2,508.8 1469.4,496.2 1469.6,510.5 1469.7,512.1 1469.9,490.2 1470.0,498.2 1470.2,504.6 1470.4,505.1 1470.5,503.0 1470.7,498.6 1470.8,513.9 1471.0,525.1 1471.2,512.8 1471.3,492.5 1471.5,510.9 1471.6,505.7 1471.8,512.3 1472.0,534.7 1472.1,501.9 1472.3,505.4 1472.4,491.5 1472.6,501.3 1472.8,497.0 1472.9,531.9 1473.1,511.4 1473.2,497.5 1473.4,537.8 1473.6,485.8 1473.7,521.0 1473.9,523.7 1474.0,516.8 1474.2,503.7 1474.4,506.0 1474.5,502.7 1474.7,521.0 1474.8,471.3 1475.0,500.6 1475.2,511.4 1475.3,499.9 1475.5,480.3 1475.6,505.7 1475.8,497.7 1476.0,522.8 1476.1,532.0 1476.3,510.3 1476.4,477.7 1476.6,505.1 1476.8,492.9 1476.9,518.2 1477.1,533.8 1477.2,511.4 1477.4,538.4 1477.6,529.6 1477.7,516.0 1477.9,490.6 1478.0,507.2 1478.2,482.0 1478.4,521.3 1478.5,506.3 1478.7,525.9 1478.8,508.2 1479.0,472.1 1479.2,513.1 1479.3,517.2 1479.5,528.5 1479.6,485.9 1479.8,486.2 1480.0,501.5 1480.1,483.1 1480.3,477.5 1480.4,481.4 1480.6,539.9 1480.8,487.7 1480.9,481.0 1481.1,489.5 1481.2,496.1 1481.4,516.2 1481.6,510.1 1481.7,507.1 1481.9,494.7 1482.0,496.3 1482.2,484.2 1482.4,471.0 1482.5,528.3 1482.7,489.0 1482.8,513.2 1483.0,492.5 1483.2,496.7 1483.3,496.4 1483.5,477.4 1483.6,498.8 1483.8,506.8 1484.0,514.6 1484.1,509.9 1484.3,518.9 1484.4,507.9 1484.6,503.8 1484.8,473.0 1484.9,496.5 1485.1,530.6 1485.2,508.3 1485.4,519.7 1485.6,504.2 1485.7,497.5 1485.9,541.6 1486.0,515.2 1486.2,534.1 1486.4,519.3 1486.5,506.7 1486.7,476.1 1486.8,514.1 1487.0,488.3 1487.2,478.2 1487.3,534.1 1487.5,526.2 1487.6,525.3 1487.8,516.3 1488.0,515.4 1488.1,523.1 1488.3,519.3 1488.4,518.4 1488.6,529.5 1488.8,478.8 1488.9,532.8 1489.1,508.8 1489.2,533.0 1489.4,538.6 1489.6,506.7 1489.7,533.3 1489.9,533.4 1490.0,509.8 1490.2,513.0 1490.4,523.6 1490.5,486.4 1490.7,515.3 1490.8,525.8 1491.0,516.1 1491.2,498.0 1491.3,517.8 1491.5,548.8 1491.6,546.1 1491.8,523.4 1492.0,512.9 1492.1,525.9 1492.3,526.9 1492.4,516.2 1492.6,522.1 1492.8,537.9 1492.9,543.3 1493.1,489.7 1493.2,544.9 1493.4,531.8 1493.6,548.5 1493.7,530.2 1493.9,538.0 1494.0,557.7 1494.2,484.3 1494.4,557.8 1494.5,535.8 1494.7,504.0 1494.8,490.9 1495.0,539.0 1495.2,517.7 1495.3,550.3 1495.5,537.8 1495.6,532.3 1495.8,550.4 1496.0,537.7 1496.1,546.6 1496.3,548.1 1496.4,540.0 1496.6,547.6 1496.8,547.6 1496.9,513.2 1497.1,530.8 1497.2,533.3 1497.4,529.3 1497.6,510.0 1497.7,526.5 1497.9,541.1 1498.0,538.8 1498.2,560.2 1498.4,526.2 1498.5,529.1 1498.7,526.9 1498.8,531.1 1499.0,526.6 1499.2,506.4 1499.3,542.0 1499.5,552.3 1499.6,554.5 1499.8,519.3 1500.0,533.7 1500.1,566.5 1500.3,535.2 1500.4,542.6 1500.6,534.7 1500.8,553.3 1500.9,552.8 1501.1,574.7 1501.2,545.5 1501.4,544.8 1501.6,518.3 1501.7,531.2 1501.9,526.6 1502.0,532.7 1502.2,517.1 1502.4,557.6 1502.5,521.4 1502.7,542.7 1502.8,518.2 1503.0,544.0 1503.2,565.1 1503.3,525.5 1503.5,544.6 1503.6,537.8 1503.8,543.5 1504.0,545.8 1504.1,528.9 1504.3,536.3 1504.4,529.9 1504.6,526.2 1504.8,519.8 1504.9,555.0 1505.1,527.8 1505.2,550.4 1505.4,548.7 1505.6,523.9 1505.7,556.8 1505.9,526.3 1506.0,550.2 1506.2,563.6 1506.4,528.9 1506.5,525.6 1506.7,525.5 1506.8,577.4 1507.0,534.7 1507.2,520.6 1507.3,553.9 1507.5,538.1 1507.6,540.5 1507.8,525.1 1508.0,505.6 1508.1,529.6 1508.3,524.6 1508.4,515.5 1508.6,524.1 1508.8,526.4 1508.9,554.5 1509.1,553.0 1509.2,550.1 1509.4,533.3 1509.6,521.8 1509.7,546.8 1509.9,549.5 1510.0,558.3 1510.2,541.9 1510.4,540.4 1510.5,547.5 1510.7,527.8 1510.8,529.8 1511.0,553.1 1511.2,522.7 1511.3,541.7 1511.5,555.6 1511.6,547.0 1511.8,550.2 1512.0,525.6 1512.1,541.5 1512.3,539.3 1512.4,553.4 1512.6,550.5 1512.8,544.4 1512.9,574.5 1513.1,552.9 1513.2,539.8 1513.4,534.6 1513.6,544.0 1513.7,535.6 1513.9,571.0 1514.0,554.0 1514.2,540.1 1514.4,534.7 1514.5,528.1 1514.7,540.9 1514.8,566.4 1515.0,559.0 1515.2,544.8 1515.3,548.0 1515.5,516.1 1515.6,558.2 1515.8,542.6 1516.0,568.2 1516.1,543.4 1516.3,538.7 1516.4,550.0 1516.6,536.4 1516.8,568.2 1516.9,551.4 1517.1,552.8 1517.2,552.4 1517.4,541.6 1517.6,555.0 1517.7,550.2 1517.9,575.6 1518.0,548.6 1518.2,553.8 1518.4,540.6 1518.5,542.1 1518.7,543.3 1518.8,569.1 1519.0,549.9 1519.2,564.3 1519.3,544.7 1519.5,543.2 1519.6,518.3 1519.8,562.5 1520.0,582.4 1520.1,545.8 1520.3,572.5 1520.4,563.2 1520.6,538.7 1520.8,561.9 1520.9,535.4 1521.1,544.9 1521.2,569.3 1521.4,552.4 1521.6,531.1 1521.7,572.5 1521.9,532.3 1522.0,547.4 1522.2,544.4 1522.4,547.4 1522.5,536.4 1522.7,523.9 1522.8,579.7 1523.0,535.0 1523.2,536.0 1523.3,511.1 1523.5,551.6 1523.6,570.8 1523.8,572.6 1524.0,594.5 1524.1,574.3 1524.3,556.9 1524.4,550.8 1524.6,573.4 1524.8,549.9 1524.9,553.7 1525.1,535.2 1525.2,552.2 1525.4,582.2 1525.6,549.5 1525.7,557.0 1525.9,512.2 1526.0,572.2 1526.2,556.7 1526.4,573.2 1526.5,554.5 1526.7,537.0 1526.8,528.8 1527.0,558.6 1527.2,550.1 1527.3,534.8 1527.5,549.3 1527.6,540.1 1527.8,561.7 1528.0,543.6 1528.1,530.5 1528.3,548.6 1528.4,540.9 1528.6,573.4 1528.8,542.3 1528.9,528.6 1529.1,548.7 1529.2,545.4 1529.4,553.7 1529.6,552.8 1529.7,532.8 1529.9,548.4 1530.0,547.5 1530.2,530.0 1530.4,540.0 1530.5,552.3 1530.7,523.6 1530.8,531.7 1531.0,541.5 1531.2,547.4 1531.3,557.0 1531.5,527.1 1531.6,553.5 1531.8,558.7 1532.0,573.4 1532.1,542.0 1532.3,534.1 1532.4,524.2 1532.6,557.6 1532.8,569.4 1532.9,537.8 1533.1,556.0 1533.2,562.8 1533.4,564.5 1533.6,543.0 1533.7,559.8 1533.9,549.0 1534.0,534.8 1534.2,554.3 1534.4,556.0 1534.5,535.0 1534.7,557.6 1534.8,582.5 1535.0,526.8 1535.2,562.0 1535.3,565.4 1535.5,551.7 1535.6,556.1 1535.8,546.7 1536.0,572.6 1536.1,535.9 1536.3,548.7 1536.4,519.8 1536.6,555.9 1536.8,556.7 1536.9,523.9 1537.1,536.7 1537.2,558.2 1537.4,542.7 1537.6,531.1 1537.7,510.4 1537.9,555.9 1538.0,581.3 1538.2,543.0 1538.4,557.3 1538.5,557.0 1538.7,549.0 1538.8,551.9 1539.0,552.2 1539.2,536.4 1539.3,590.3 1539.5,593.9 1539.6,555.4 1539.8,579.1 1540.0,537.4 1540.1,546.9 1540.3,568.7 1540.4,532.2 1540.6,529.8 1540.8,556.2 1540.9,519.1 1541.1,578.4 1541.2,562.9 1541.4,554.9 1541.6,561.9 1541.7,536.7 1541.9,536.2 1542.0,564.7 1542.2,566.5 1542.4,553.8 1542.5,550.8 1542.7,543.1 1542.8,574.0 1543.0,528.0 1543.2,538.1 1543.3,543.2 1543.5,527.4 1543.6,530.7 1543.8,535.5 1544.0,568.2 1544.1,580.9 1544.3,557.7 1544.4,526.2 1544.6,542.4 1544.8,550.0 1544.9,547.9 1545.1,546.3 1545.2,560.5 1545.4,521.2 1545.6,543.1 1545.7,555.8 1545.9,563.9 1546.0,557.0 1546.2,552.8 1546.4,550.4 1546.5,542.0 1546.7,554.1 1546.8,549.5 1547.0,541.6 1547.2,572.2 1547.3,572.0 1547.5,547.1 1547.6,563.0 1547.8,572.4 1548.0,557.5 1548.1,555.3 1548.3,561.3 1548.4,527.0 1548.6,530.6 1548.8,561.9 1548.9,557.9 1549.1,575.5 1549.2,545.7 1549.4,571.2 1549.6,570.6 1549.7,585.3 1549.9,541.0 1550.0,548.2 1550.2,558.3 1550.4,558.1 1550.5,538.0 1550.7,544.9 1550.8,533.2 1551.0,590.9 1551.2,553.0 1551.3,553.9 1551.5,544.3 1551.6,554.6 1551.8,566.8 1552.0,548.9 1552.1,553.8 1552.3,589.0 1552.4,569.0 1552.6,558.1 1552.8,547.6 1552.9,554.0 1553.1,542.5 1553.2,558.7 1553.4,543.6 1553.6,542.7 1553.7,547.8 1553.9,537.2 1554.0,557.4 1554.2,594.5 1554.4,544.2 1554.5,527.6 1554.7,569.4 1554.8,552.4 1555.0,585.6 1555.2,560.0 1555.3,568.8 1555.5,541.5 1555.6,528.4 1555.8,550.8 1556.0,564.4 1556.1,539.9 1556.3,528.2 1556.4,544.1 1556.6,546.5 1556.8,548.3 1556.9,553.0 1557.1,591.7 1557.2,553.9 1557.4,545.5 1557.6,536.1 1557.7,566.2 1557.9,528.2 1558.0,576.5 1558.2,553.3 1558.4,529.4 1558.5,556.4 1558.7,551.6 1558.8,573.0 1559.0,529.6 1559.2,556.7 1559.3,553.2 1559.5,568.2 1559.6,535.4 1559.8,541.1 1560.0,584.9 1560.1,562.4 1560.3,530.0 1560.4,558.8 1560.6,541.1 1560.8,542.7 1560.9,534.2 1561.1,569.4 1561.2,545.1 1561.4,556.9 1561.6,555.0 1561.7,529.5 1561.9,541.9 1562.0,566.0 1562.2,528.8 1562.4,557.8 1562.5,552.2 1562.7,564.2 1562.8,564.9 1563.0,567.2 1563.2,555.0 1563.3,558.2 1563.5,542.9 1563.6,545.5 1563.8,568.6 1564.0,544.7 1564.1,570.7 1564.3,570.3 1564.4,541.7 1564.6,563.4 1564.8,541.5 1564.9,559.9 1565.1,542.1 1565.2,559.9 1565.4,557.3 1565.6,538.1 1565.7,587.5 1565.9,570.1 1566.0,529.3 1566.2,560.4 1566.4,548.1 1566.5,587.7 1566.7,554.1 1566.8,561.4 1567.0,552.2 1567.2,565.3 1567.3,546.7 1567.5,540.9 1567.6,547.4 1567.8,548.6 1568.0,565.4 1568.1,556.8 1568.3,548.3 1568.4,549.0 1568.6,540.9 1568.8,557.6 1568.9,523.1 1569.1,552.1 1569.2,574.6 1569.4,549.9 1569.6,545.3 1569.7,556.5 1569.9,540.9 1570.0,543.7 1570.2,566.8 1570.4,545.8 1570.5,587.2 1570.7,564.6 1570.8,554.3 1571.0,546.1 1571.2,551.9 1571.3,519.8 1571.5,560.0 1571.6,570.3 1571.8,565.3 1572.0,549.3 1572.1,566.1 1572.3,566.4" fill="none" stroke="#ff0000" stroke-width="1.2" stroke-linejoin="miter" stroke-miterlimit="2"/>
<polyline points="1436.6,392.8 1436.8,314.2 1436.9,378.8 1437.1,364.5 1437.2,384.4 1437.4,369.5 1437.6,392.5 1437.7,363.7 1437.9,354.9 1438.0,372.4 1438.2,370.0 1438.4,357.4 1438.5,359.1 1438.7,374.5 1438.8,374.2 1439.0,355.0 1439.2,357.0 1439.3,333.9 1439.5,389.6 1439.6,359.1 1439.8,384.1 1440.0,369.3 1440.1,393.7 1440.3,387.2 1440.4,367.6 1440.6,386.2 1440.8,347.2 1440.9,382.5 1441.1,338.7 1441.2,367.8 1441.4,379.3 1441.6,365.8 1441.7,356.3 1441.9,349.2 1442.0,356.6 1442.2,378.9 1442.4,376.3 1442.5,357.8 1442.7,342.0 1442.8,372.7 1443.0,338.6 1443.2,353.3 1443.3,350.0 1443.5,373.6 1443.6,365.4 1443.8,369.0 1444.0,365.9 1444.1,350.7 1444.3,370.1 1444.4,384.1 1444.6,360.8 1444.8,371.5 1444.9,359.3 1445.1,377.8 1445.2,371.9 1445.4,375.2 1445.6,366.7 1445.7,387.4 1445.9,355.3 1446.0,355.7 1446.2,351.5 1446.4,370.7 1446.5,351.0 1446.7,350.6 1446.8,372.5 1447.0,379.4 1447.2,369.9 1447.3,317.8 1447.5,345.4 1447.6,343.4 1447.8,341.3 1448.0,354.0 1448.1,389.6 1448.3,355.5 1448.4,348.6 1448.6,371.5 1448.8,361.4 1448.9,362.2 1449.1,349.3 1449.2,360.2 1449.4,367.1 1449.6,329.5 1449.7,334.3 1449.9,377.4 1450.0,373.2 1450.2,350.7 1450.4,341.5 1450.5,353.9 1450.7,336.8 1450.8,349.5 1451.0,380.4 1451.2,355.2 1451.3,370.7 1451.5,347.6 1451.6,356.1 1451.8,371.4 1452.0,326.9 1452.1,341.7 1452.3,343.8 1452.4,349.9 1452.6,369.3 1452.8,354.4 1452.9,318.5 1453.1,337.2 1453.2,326.3 1453.4,324.9 1453.6,371.0 1453.7,320.7 1453.9,340.5 1454.0,324.3 1454.2,348.6 1454.4,339.5 1454.5,334.9 1454.7,330.7 1454.8,349.2 1455.0,315.1 1455.2,316.2 1455.3,307.7 1455.5,344.8 1455.6,316.5 1455.8,302.4 1456.0,310.1 1456.1,354.6 1456.3,310.7 1456.4,323.9 1456.6,315.5 1456.8,305.7 1456.9,292.6 1457.1,296.1 1457.2,293.6 1457.4,261.7 1457.6,336.3 1457.7,307.5 1457.9,292.4 1458.0,285.1 1458.2,273.5 1458.4,299.1 1458.5,279.2 1458.7,291.2 1458.8,262.7 1459.0,292.3 1459.2,319.7 1459.3,284.4 1459.5,303.2 1459.6,292.3 1459.8,310.8 1460.0,311.6 1460.1,296.9 1460.3,288.3 1460.4,303.2 1460.6,300.7 1460.8,291.5 1460.9,310.0 1461.1,311.0 1461.2,291.3 1461.4,305.1 1461.6,355.0 1461.7,322.7 1461.9,312.5 1462.0,352.4 1462.2,305.6 1462.4,274.0 1462.5,283.9 1462.7,290.8 1462.8,320.0 1463.0,332.2 1463.2,282.6 1463.3,335.9 1463.5,299.2 1463.6,323.6 1463.8,327.7 1464.0,327.9 1464.1,321.9 1464.3,325.2 1464.4,305.0 1464.6,328.4 1464.8,340.4 1464.9,340.3 1465.1,368.0 1465.2,344.2 1465.4,339.3 1465.6,355.0 1465.7,333.0 1465.9,309.2 1466.0,294.7 1466.2,351.7 1466.4,341.1 1466.5,346.3 1466.7,328.2 1466.8,339.8 1467.0,365.1 1467.2,340.4 1467.3,317.2 1467.5,328.1 1467.6,357.2 1467.8,317.6 1468.0,293.8 1468.1,298.4 1468.3,313.7 1468.4,347.9 1468.6,336.6 1468.8,323.1 1468.9,314.6 1469.1,333.4 1469.2,332.7 1469.4,326.2 1469.6,331.3 1469.7,323.1 1469.9,364.1 1470.0,297.4 1470.2,337.3 1470.4,319.1 1470.5,346.7 1470.7,331.6 1470.8,341.2 1471.0,343.9 1471.2,338.7 1471.3,351.3 1471.5,313.2 1471.6,350.7 1471.8,332.0 1472.0,341.6 1472.1,360.4 1472.3,353.5 1472.4,367.3 1472.6,299.6 1472.8,320.3 1472.9,351.0 1473.1,317.5 1473.2,332.7 1473.4,363.0 1473.6,349.7 1473.7,320.3 1473.9,342.9 1474.0,346.0 1474.2,336.8 1474.4,334.1 1474.5,338.0 1474.7,311.8 1474.8,337.8 1475.0,320.3 1475.2,342.1 1475.3,342.7 1475.5,321.6 1475.6,345.7 1475.8,341.6 1476.0,335.2 1476.1,347.5 1476.3,330.9 1476.4,331.4 1476.6,337.2 1476.8,335.0 1476.9,354.3 1477.1,297.7 1477.2,330.2 1477.4,302.4 1477.6,325.6 1477.7,337.2 1477.9,332.6 1478.0,347.4 1478.2,336.4 1478.4,286.8 1478.5,312.1 1478.7,354.3 1478.8,353.8 1479.0,329.8 1479.2,302.8 1479.3,361.8 1479.5,292.9 1479.6,330.8 1479.8,324.4 1480.0,328.5 1480.1,305.2 1480.3,317.0 1480.4,340.0 1480.6,314.3 1480.8,299.5 1480.9,320.7 1481.1,321.5 1481.2,316.8 1481.4,305.1 1481.6,325.3 1481.7,313.5 1481.9,295.5 1482.0,316.8 1482.2,311.7 1482.4,313.3 1482.5,282.6 1482.7,296.4 1482.8,315.0 1483.0,321.5 1483.2,311.0 1483.3,307.0 1483.5,315.0 1483.6,318.1 1483.8,329.6 1484.0,307.8 1484.1,290.1 1484.3,305.8 1484.4,266.5 1484.6,300.2 1484.8,293.7 1484.9,302.0 1485.1,311.7 1485.2,306.2 1485.4,283.7 1485.6,302.7 1485.7,297.1 1485.9,311.1 1486.0,318.7 1486.2,299.0 1486.4,327.7 1486.5,338.3 1486.7,314.6 1486.8,332.1 1487.0,298.2 1487.2,313.7 1487.3,338.2 1487.5,295.0 1487.6,315.6 1487.8,309.8 1488.0,342.9 1488.1,343.3 1488.3,315.5 1488.4,327.9 1488.6,284.5 1488.8,340.4 1488.9,332.8 1489.1,348.9 1489.2,289.9 1489.4,334.1 1489.6,323.3 1489.7,287.6 1489.9,318.7 1490.0,329.0 1490.2,343.6 1490.4,334.3 1490.5,323.3 1490.7,339.1 1490.8,330.7 1491.0,322.5 1491.2,317.0 1491.3,336.2 1491.5,336.7 1491.6,364.1 1491.8,327.9 1492.0,361.2 1492.1,341.6 1492.3,355.3 1492.4,322.4 1492.6,323.3 1492.8,332.8 1492.9,352.6 1493.1,341.5 1493.2,351.2 1493.4,344.7 1493.6,356.5 1493.7,343.6 1493.9,332.5 1494.0,349.6 1494.2,343.2 1494.4,370.2 1494.5,340.1 1494.7,344.9 1494.8,338.7 1495.0,362.5 1495.2,358.1 1495.3,354.6 1495.5,324.3 1495.6,320.1 1495.8,348.7 1496.0,356.1 1496.1,368.3 1496.3,316.0 1496.4,342.0 1496.6,317.8 1496.8,329.6 1496.9,341.5 1497.1,360.5 1497.2,336.8 1497.4,333.8 1497.6,340.2 1497.7,365.6 1497.9,384.2 1498.0,320.9 1498.2,341.3 1498.4,338.9 1498.5,364.6 1498.7,352.9 1498.8,370.7 1499.0,329.9 1499.2,346.4 1499.3,339.0 1499.5,328.8 1499.6,343.9 1499.8,327.6 1500.0,381.4 1500.1,353.4 1500.3,330.6 1500.4,337.2 1500.6,374.7 1500.8,339.4 1500.9,358.3 1501.1,356.6 1501.2,364.8 1501.4,357.6 1501.6,344.1 1501.7,338.1 1501.9,319.3 1502.0,347.0 1502.2,350.1 1502.4,342.2 1502.5,345.7 1502.7,328.7 1502.8,382.9 1503.0,340.3 1503.2,331.8 1503.3,338.9 1503.5,345.8 1503.6,360.5 1503.8,309.9 1504.0,357.0 1504.1,339.0 1504.3,346.1 1504.4,365.3 1504.6,361.4 1504.8,338.4 1504.9,347.8 1505.1,379.4 1505.2,371.3 1505.4,363.5 1505.6,349.8 1505.7,365.2 1505.9,356.2 1506.0,341.2 1506.2,334.0 1506.4,358.5 1506.5,356.3 1506.7,369.6 1506.8,342.7 1507.0,372.9 1507.2,344.7 1507.3,370.7 1507.5,359.5 1507.6,341.6 1507.8,335.7 1508.0,349.0 1508.1,346.8 1508.3,366.2 1508.4,340.2 1508.6,327.7 1508.8,351.1 1508.9,382.2 1509.1,377.8 1509.2,341.7 1509.4,347.4 1509.6,356.9 1509.7,341.3 1509.9,348.1 1510.0,347.7 1510.2,335.3 1510.4,342.2 1510.5,344.3 1510.7,355.9 1510.8,333.2 1511.0,353.8 1511.2,336.4 1511.3,339.2 1511.5,334.2 1511.6,416.4 1511.8,372.3 1512.0,373.7 1512.1,365.2 1512.3,348.5 1512.4,353.3 1512.6,356.9 1512.8,359.4 1512.9,361.8 1513.1,376.7 1513.2,304.9 1513.4,343.4 1513.6,363.2 1513.7,346.6 1513.9,349.8 1514.0,376.2 1514.2,355.4 1514.4,380.9 1514.5,351.7 1514.7,356.2 1514.8,335.3 1515.0,320.6 1515.2,345.7 1515.3,353.4 1515.5,346.9 1515.6,330.9 1515.8,363.0 1516.0,353.6 1516.1,352.7 1516.3,340.1 1516.4,378.9 1516.6,376.2 1516.8,357.5 1516.9,350.7 1517.1,356.6 1517.2,379.7 1517.4,397.6 1517.6,352.8 1517.7,345.8 1517.9,323.6 1518.0,397.4 1518.2,335.0 1518.4,366.6 1518.5,360.7 1518.7,374.1 1518.8,338.9 1519.0,326.8 1519.2,355.1 1519.3,359.3 1519.5,371.2 1519.6,325.8 1519.8,345.5 1520.0,348.6 1520.1,331.2 1520.3,350.2 1520.4,365.7 1520.6,352.3 1520.8,329.8 1520.9,358.4 1521.1,366.7 1521.2,361.5 1521.4,365.6 1521.6,326.5 1521.7,360.3 1521.9,362.6 1522.0,347.0 1522.2,352.1 1522.4,340.7 1522.5,372.8 1522.7,348.3 1522.8,337.9 1523.0,356.1 1523.2,354.9 1523.3,363.8 1523.5,339.7 1523.6,342.3 1523.8,359.3 1524.0,389.0 1524.1,360.6 1524.3,331.3 1524.4,355.9 1524.6,340.7 1524.8,323.6 1524.9,342.3 1525.1,344.0 1525.2,359.9 1525.4,374.4 1525.6,371.5 1525.7,366.2 1525.9,346.4 1526.0,355.8 1526.2,352.7 1526.4,375.9 1526.5,342.9 1526.7,344.6 1526.8,377.3 1527.0,362.6 1527.2,346.2 1527.3,356.1 1527.5,355.8 1527.6,356.5 1527.8,366.3 1528.0,359.4 1528.1,350.6 1528.3,345.4 1528.4,325.8 1528.6,346.5 1528.8,371.9 1528.9,357.2 1529.1,343.1 1529.2,349.7 1529.4,339.9 1529.6,358.3 1529.7,385.8 1529.9,382.6 1530.0,372.9 1530.2,366.2 1530.4,350.1 1530.5,333.8 1530.7,353.9 1530.8,346.6 1531.0,367.1 1531.2,356.4 1531.3,344.6 1531.5,361.1 1531.6,400.7 1531.8,339.4 1532.0,372.1 1532.1,363.5 1532.3,352.4 1532.4,341.8 1532.6,354.3 1532.8,357.5 1532.9,366.4 1533.1,365.3 1533.2,359.2 1533.4,343.1 1533.6,358.9 1533.7,346.6 1533.9,337.4 1534.0,368.5 1534.2,343.5 1534.4,335.0 1534.5,355.5 1534.7,323.2 1534.8,353.1 1535.0,361.3 1535.2,347.4 1535.3,358.0 1535.5,388.7 1535.6,377.0 1535.8,369.1 1536.0,363.8 1536.1,345.9 1536.3,352.0 1536.4,349.6 1536.6,354.6 1536.8,356.1 1536.9,341.2 1537.1,380.0 1537.2,337.5 1537.4,360.0 1537.6,370.8 1537.7,353.8 1537.9,343.5 1538.0,354.7 1538.2,385.3 1538.4,364.2 1538.5,349.6 1538.7,363.6 1538.8,351.1 1539.0,324.3 1539.2,358.2 1539.3,371.0 1539.5,372.8 1539.6,353.3 1539.8,331.7 1540.0,373.5 1540.1,351.9 1540.3,366.2 1540.4,372.5 1540.6,359.8 1540.8,353.4 1540.9,344.3 1541.1,347.5 1541.2,354.9 1541.4,347.0 1541.6,360.2 1541.7,323.1 1541.9,338.2 1542.0,353.9 1542.2,343.3 1542.4,345.8 1542.5,336.2 1542.7,365.1 1542.8,380.5 1543.0,338.3 1543.2,372.8 1543.3,331.1 1543.5,356.6 1543.6,322.3 1543.8,362.2 1544.0,354.7 1544.1,356.6 1544.3,373.9 1544.4,363.9 1544.6,353.9 1544.8,341.3 1544.9,355.2 1545.1,343.3 1545.2,347.6 1545.4,378.0 1545.6,368.4 1545.7,359.0 1545.9,364.4 1546.0,331.3 1546.2,356.1 1546.4,327.3 1546.5,343.7 1546.7,360.3 1546.8,360.4 1547.0,365.5 1547.2,356.8 1547.3,355.1 1547.5,354.2 1547.6,376.7 1547.8,375.0 1548.0,330.9 1548.1,356.3 1548.3,374.8 1548.4,350.1 1548.6,357.6 1548.8,344.5 1548.9,334.8 1549.1,356.1 1549.2,347.4 1549.4,351.3 1549.6,330.6 1549.7,335.2 1549.9,351.5 1550.0,346.4 1550.2,362.3 1550.4,336.5 1550.5,364.7 1550.7,362.4 1550.8,354.7 1551.0,363.5 1551.2,351.8 1551.3,349.9 1551.5,352.5 1551.6,332.7 1551.8,352.3 1552.0,365.6 1552.1,327.2 1552.3,363.8 1552.4,342.6 1552.6,347.1 1552.8,354.2 1552.9,356.7 1553.1,374.5 1553.2,350.4 1553.4,380.1 1553.6,353.5 1553.7,360.6 1553.9,363.7 1554.0,342.3 1554.2,335.1 1554.4,354.8 1554.5,364.3 1554.7,367.0 1554.8,347.6 1555.0,381.5 1555.2,351.6 1555.3,342.9 1555.5,372.4 1555.6,373.6 1555.8,339.1 1556.0,367.7 1556.1,334.4 1556.3,355.5 1556.4,391.2 1556.6,375.8 1556.8,366.6 1556.9,365.8 1557.1,342.4 1557.2,361.0 1557.4,363.0 1557.6,339.4 1557.7,359.2 1557.9,364.8 1558.0,359.6 1558.2,363.1 1558.4,352.6 1558.5,338.4 1558.7,356.9 1558.8,325.7 1559.0,345.0 1559.2,373.9 1559.3,385.0 1559.5,363.1 1559.6,318.1 1559.8,378.0 1560.0,365.3 1560.1,353.7 1560.3,368.7 1560.4,365.5 1560.6,337.7 1560.8,336.1 1560.9,373.4 1561.1,320.2 1561.2,366.5 1561.4,362.0 1561.6,372.6 1561.7,384.8 1561.9,378.4 1562.0,381.9 1562.2,370.3 1562.4,365.3 1562.5,374.4 1562.7,357.1 1562.8,342.8 1563.0,356.1 1563.2,331.8 1563.3,348.6 1563.5,390.3 1563.6,365.7 1563.8,354.6 1564.0,347.8 1564.1,329.1 1564.3,348.8 1564.4,344.9 1564.6,357.3 1564.8,358.6 1564.9,356.2 1565.1,326.7 1565.2,380.4 1565.4,364.3 1565.6,357.3 1565.7,352.0 1565.9,364.2 1566.0,377.1 1566.2,366.9 1566.4,338.6 1566.5,337.1 1566.7,319.3 1566.8,359.0 1567.0,368.4 1567.2,376.4 1567.3,359.0 1567.5,369.9 1567.6,342.1 1567.8,365.1 1568.0,354.7 1568.1,346.0 1568.3,329.8 1568.4,375.1 1568.6,320.6 1568.8,366.6 1568.9,343.8 1569.1,366.3 1569.2,347.8 1569.4,368.7 1569.6,353.2 1569.7,339.9 1569.9,348.4 1570.0,330.9 1570.2,361.0 1570.4,373.3 1570.5,363.4 1570.7,358.4 1570.8,377.3 1571.0,338.1 1571.2,365.6 1571.3,356.9 1571.5,349.2 1571.6,365.6 1571.8,338.5 1572.0,354.7 1572.1,362.2 1572.3,338.2" fill="none" stroke="#0000ff" stroke-width="1.2" stroke-linejoin="miter" stroke-miterlimit="2"/>
<polyline points="1436.6,178.2 1436.9,215.0 1437.2,219.5 1437.5,219.5 1437.8,201.3 1438.1,166.1 1438.4,170.7 1438.7,182.2 1439.0,171.0 1439.3,212.9 1439.6,176.1 1439.9,212.8 1440.2,185.3 1440.5,219.5 1440.8,184.7 1441.1,191.0 1441.4,204.8 1441.7,186.1 1442.0,219.5 1442.3,207.7 1442.6,156.2 1442.9,187.3 1443.2,198.8 1443.5,185.3 1443.8,184.4 1444.1,190.2 1444.4,180.8 1444.7,219.5 1445.0,180.5 1445.3,208.3 1445.6,176.2 1445.9,194.0 1446.2,148.2 1446.5,195.1 1446.8,215.7 1447.1,171.2 1447.4,132.0 1447.7,174.7 1448.0,218.0 1448.3,157.9 1448.6,200.1 1448.9,163.5 1449.2,174.7 1449.5,217.7 1449.8,186.4 1450.1,205.4 1450.4,184.5 1450.7,162.0 1451.0,178.3 1451.3,170.0 1451.6,219.3 1451.9,189.0 1452.2,185.6 1452.5,169.5 1452.8,207.1 1453.1,173.8 1453.4,184.1 1453.7,219.5 1454.0,216.4 1454.3,183.7 1454.6,219.4 1454.9,219.5 1455.2,173.8 1455.5,187.2 1455.8,198.7 1456.1,191.2 1456.4,202.4 1456.7,205.3 1457.0,203.6 1457.3,185.0 1457.6,164.4 1457.9,203.9 1458.2,195.0 1458.5,198.3 1458.8,219.5 1459.1,188.0 1459.4,174.4 1459.7,212.1 1460.0,175.2 1460.3,202.0 1460.6,168.2 1460.9,166.8 1461.2,201.9 1461.5,214.3 1461.8,201.2 1462.1,219.5 1462.4,219.5 1462.7,199.1 1463.0,163.6 1463.3,195.5 1463.6,198.3 1463.9,219.5 1464.2,112.8 1464.5,219.5 1464.8,182.1 1465.1,205.1 1465.4,194.5 1465.7,193.9 1466.0,197.6 1466.3,172.5 1466.6,182.8 1466.9,200.5 1467.2,190.1 1467.5,181.3 1467.8,141.7 1468.1,188.4 1468.4,161.7 1468.7,205.0 1469.0,198.6 1469.3,219.5 1469.6,175.4 1469.9,216.2 1470.2,216.2 1470.5,175.0 1470.8,205.2 1471.1,210.1 1471.4,172.5 1471.7,125.8 1472.0,156.2 1472.3,202.4 1472.6,177.5 1472.9,169.8 1473.2,191.7 1473.5,153.9 1473.8,202.2 1474.1,198.2 1474.4,191.8 1474.7,171.4 1475.0,199.8 1475.3,203.1 1475.6,187.9 1475.9,166.0 1476.2,202.7 1476.5,219.5 1476.8,196.4 1477.1,179.8 1477.4,205.4 1477.7,190.8 1478.0,219.5 1478.3,193.0 1478.6,135.0 1478.9,179.8 1479.2,174.4 1479.5,176.5 1479.8,215.4 1480.1,179.0 1480.4,219.5 1480.7,206.6 1481.0,169.2 1481.3,174.8 1481.6,219.5 1481.9,180.6 1482.2,203.0 1482.5,210.6 1482.8,189.0 1483.1,190.7 1483.4,162.8 1483.7,217.5 1484.0,202.9 1484.3,196.6 1484.6,219.5 1484.9,167.7 1485.2,154.9 1485.5,207.3 1485.8,185.1 1486.1,171.7 1486.4,187.6 1486.7,208.4 1487.0,175.2 1487.3,219.1 1487.6,163.5 1487.9,185.7 1488.2,140.2 1488.5,219.5 1488.8,195.6 1489.1,219.5 1489.4,196.6 1489.7,183.9 1490.0,213.7 1490.3,219.5 1490.6,219.5 1490.9,188.6 1491.2,165.4 1491.5,167.7 1491.8,192.8 1492.1,214.7 1492.4,201.5 1492.7,219.5 1493.0,219.5 1493.3,170.0 1493.6,199.6 1493.9,186.6 1494.2,199.5 1494.5,164.4 1494.8,161.9 1495.1,210.6 1495.4,201.6 1495.7,208.4 1496.0,164.5 1496.3,166.1 1496.6,199.9 1496.9,142.9 1497.2,192.9 1497.5,219.5 1497.8,219.5 1498.1,196.7 1498.4,186.4 1498.7,206.4 1499.0,185.5 1499.3,167.2 1499.6,194.8 1499.9,175.0 1500.2,156.9 1500.5,182.6 1500.8,206.3 1501.1,184.0 1501.4,125.5 1501.7,146.5 1502.0,203.1 1502.3,219.5 1502.6,186.9 1502.9,186.3 1503.2,202.6 1503.5,181.1 1503.8,186.5 1504.1,166.9 1504.4,211.9 1504.7,209.0 1505.0,181.7 1505.3,204.7 1505.6,165.5 1505.9,177.4 1506.2,194.0 1506.5,159.9 1506.8,182.5 1507.1,171.5 1507.4,175.8 1507.7,196.7 1508.0,196.6 1508.3,193.3 1508.6,217.5 1508.9,201.1 1509.2,174.7 1509.5,186.7 1509.8,214.3 1510.1,141.5 1510.4,216.2 1510.7,179.8 1511.0,177.5 1511.3,165.4 1511.6,173.7 1511.9,193.0 1512.2,197.7 1512.5,159.7 1512.8,184.9 1513.1,184.1 1513.4,189.0 1513.7,150.0 1514.0,178.3 1514.3,173.6 1514.6,213.4 1514.9,177.6 1515.2,219.5 1515.5,171.9 1515.8,189.3 1516.1,212.0 1516.4,217.7 1516.7,194.4 1517.0,189.6 1517.3,204.6 1517.6,182.4 1517.9,198.9 1518.2,203.8 1518.5,196.3 1518.8,186.1 1519.1,163.4 1519.4,177.8 1519.7,204.3 1520.0,156.1 1520.3,165.6 1520.6,197.2 1520.9,169.1 1521.2,203.1 1521.5,207.9 1521.8,201.8 1522.1,155.6 1522.4,188.1 1522.7,184.2 1523.0,189.6 1523.3,199.9 1523.6,180.3 1523.9,176.0 1524.2,147.7 1524.5,209.4 1524.8,157.0 1525.1,176.0 1525.4,219.5 1525.7,169.1 1526.0,155.0 1526.3,128.1 1526.6,185.1 1526.9,186.9 1527.2,219.5 1527.5,183.3 1527.8,175.9 1528.1,161.6 1528.4,186.1 1528.7,205.0 1529.0,140.9 1529.3,151.3 1529.6,208.6 1529.9,219.5 1530.2,199.8 1530.5,188.6 1530.8,191.1 1531.1,205.5 1531.4,172.3 1531.7,186.3 1532.0,165.5 1532.3,194.1 1532.6,219.5 1532.9,195.0 1533.2,214.1 1533.5,173.8 1533.8,205.4 1534.1,197.5 1534.4,192.6 1534.7,219.5 1535.0,200.9 1535.3,173.3 1535.6,205.1 1535.9,196.3 1536.2,189.0 1536.5,207.5 1536.8,199.3 1537.1,183.2 1537.4,167.8 1537.7,191.8 1538.0,196.1 1538.3,216.0 1538.6,219.5 1538.9,149.6 1539.2,162.8 1539.5,195.8 1539.8,172.3 1540.1,168.8 1540.4,143.5 1540.7,201.1 1541.0,219.5 1541.3,219.5 1541.6,198.4 1541.9,163.5 1542.2,158.9 1542.5,198.4 1542.8,200.4 1543.1,166.7 1543.4,147.8 1543.7,213.3 1544.0,182.7 1544.3,189.8 1544.6,200.0 1544.9,199.9 1545.2,200.3 1545.5,193.0 1545.8,217.8 1546.1,193.0 1546.4,175.6 1546.7,176.3 1547.0,175.5 1547.3,185.6 1547.6,188.6 1547.9,150.2 1548.2,196.7 1548.5,189.3 1548.8,165.4 1549.1,192.0 1549.4,159.5 1549.7,204.9 1550.0,202.3 1550.3,196.2 1550.6,202.7 1550.9,171.1 1551.2,177.3 1551.5,182.1 1551.8,201.6 1552.1,170.3 1552.4,171.0 1552.7,144.7 1553.0,206.0 1553.3,195.0 1553.6,126.7 1553.9,216.3 1554.2,186.8 1554.5,107.7 1554.8,191.3 1555.1,213.2 1555.4,184.4 1555.7,219.5 1556.0,166.4 1556.3,203.2 1556.6,189.1 1556.9,192.9 1557.2,188.5 1557.5,190.0 1557.8,183.4 1558.1,200.7 1558.4,192.1 1558.7,217.1 1559.0,215.7 1559.3,211.5 1559.6,215.0 1559.9,171.3 1560.2,206.7 1560.5,179.3 1560.8,184.0 1561.1,202.1 1561.4,186.1 1561.7,185.0 1562.0,134.5 1562.3,196.5 1562.6,175.8 1562.9,219.5 1563.2,165.4 1563.5,197.6 1563.8,183.2 1564.1,188.4 1564.4,177.5 1564.7,219.5 1565.0,218.0 1565.3,190.9 1565.6,219.5 1565.9,180.6 1566.2,165.7 1566.5,219.5 1566.8,202.1 1567.1,178.9 1567.4,153.0 1567.7,162.2 1568.0,166.2 1568.3,211.7 1568.6,192.0 1568.9,189.9 1569.2,205.9 1569.5,183.6 1569.8,199.5 1570.1,202.3 1570.4,146.2 1570.7,196.3 1571.0,151.8 1571.3,201.1 1571.6,194.4 1571.9,219.5 1572.2,205.4" fill="none" stroke="#ff00ff" stroke-width="1.2" stroke-linejoin="miter" stroke-miterlimit="2"/>
<rect x="1434.8" y="25.6" width="138.79999999999995" height="775.6999999999999" fill="none" stroke="#000" stroke-width="3.2"/>
<line x1="1462.6" y1="801.3" x2="1462.6" y2="793.3" stroke="#000" stroke-width="3"/>
<line x1="1490.3" y1="801.3" x2="1490.3" y2="785.3" stroke="#000" stroke-width="3"/>
<line x1="1518.1" y1="801.3" x2="1518.1" y2="793.3" stroke="#000" stroke-width="3"/>
<line x1="1545.8" y1="801.3" x2="1545.8" y2="785.3" stroke="#000" stroke-width="3"/>
<text x="1434.5" y="845" font-family="Liberation Serif, Times New Roman, serif" font-size="36" text-anchor="middle" fill="#000">20</text>
<text x="1490.0" y="845" font-family="Liberation Serif, Times New Roman, serif" font-size="36" text-anchor="middle" fill="#000">22</text>
<text x="1545.5" y="845" font-family="Liberation Serif, Times New Roman, serif" font-size="36" text-anchor="middle" fill="#000">24</text>
</svg>
</body></html>
